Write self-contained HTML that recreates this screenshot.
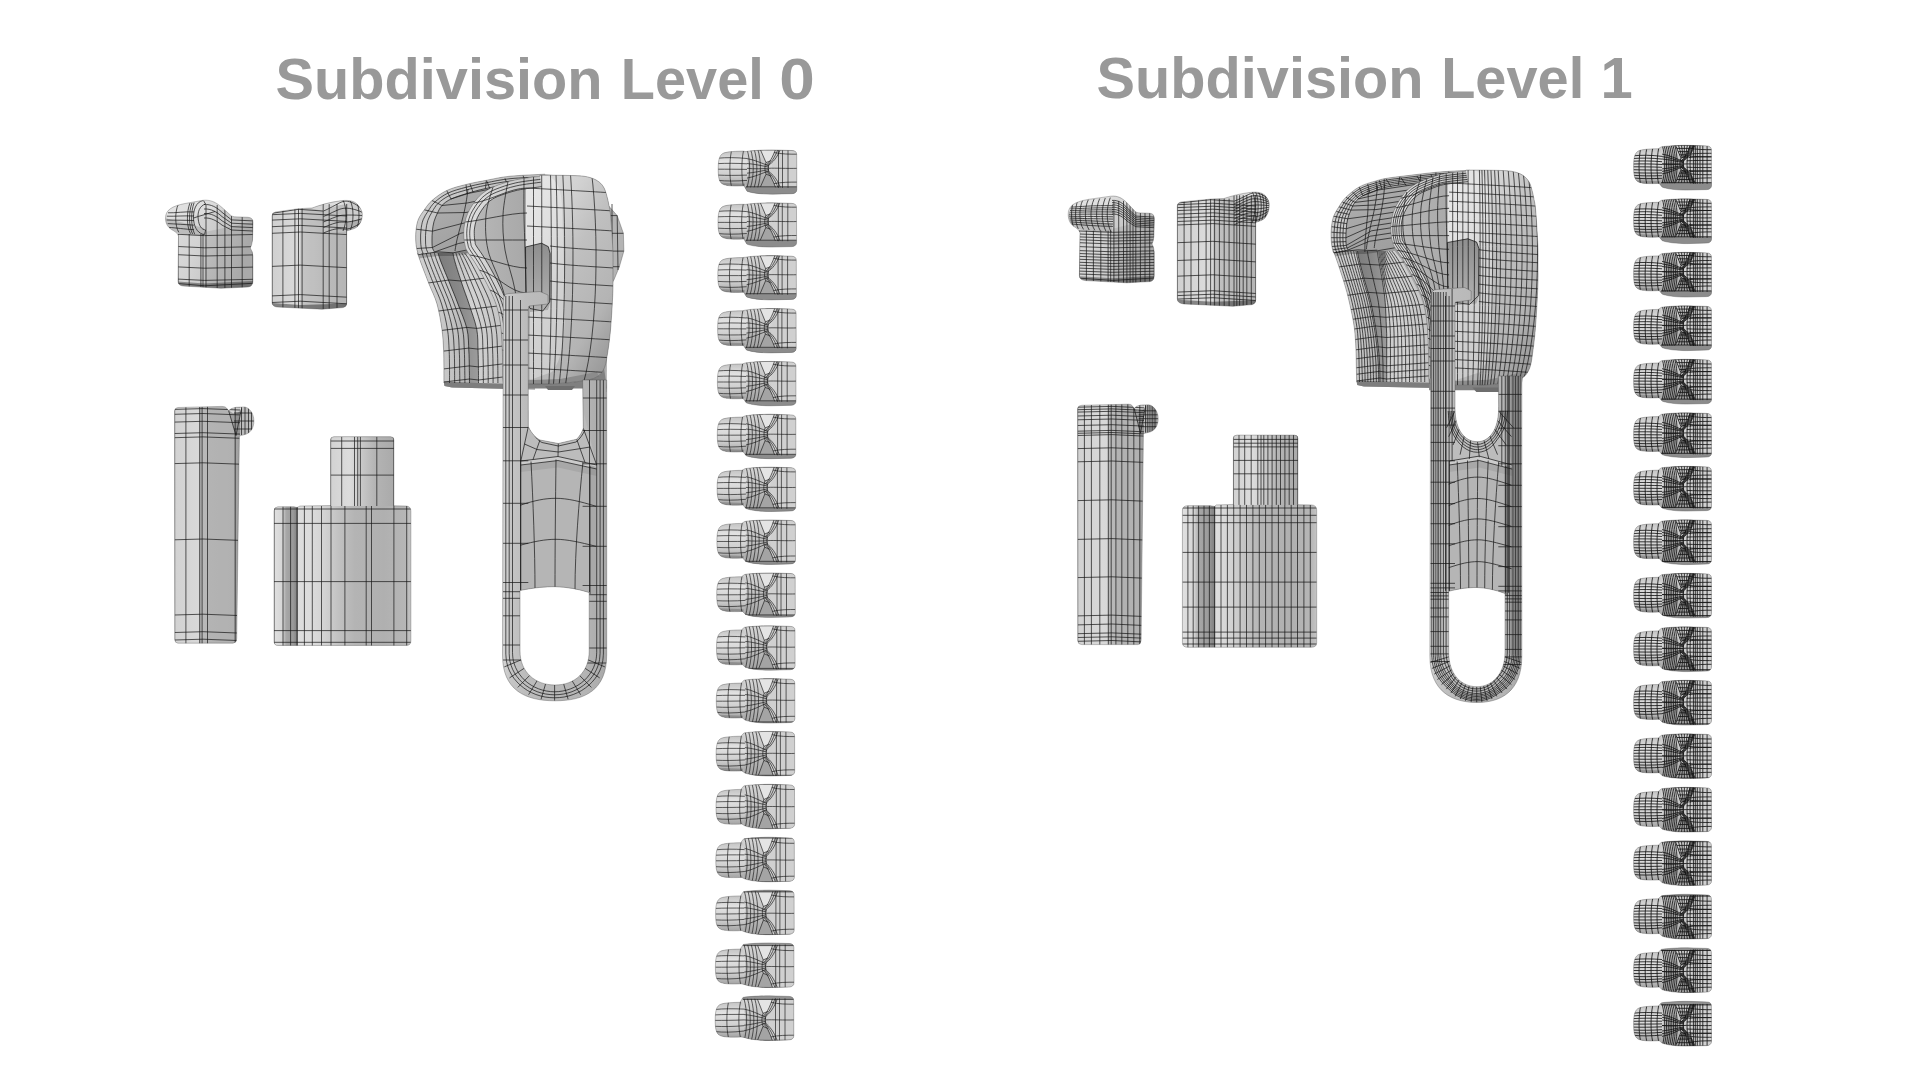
<!DOCTYPE html>
<html lang="en"><head><meta charset="utf-8"><title>Subdivision Levels</title>
<style>html,body{margin:0;padding:0;background:#fff}body{width:1920px;height:1080px;overflow:hidden}svg{display:block}text{font-family:"Liberation Sans",sans-serif;font-weight:bold;font-size:58px;fill:#999}</style></head>
<body>
<svg width="1920" height="1080" viewBox="0 0 1920 1080">
<defs>
<linearGradient id="gA" x1="0" y1="0" x2="1" y2="0.3"><stop offset="0" stop-color="#dcdcdc"/><stop offset="0.45" stop-color="#d4d4d4"/><stop offset="1" stop-color="#b8b8b8"/></linearGradient>
<linearGradient id="gB" x1="0" y1="0" x2="1" y2="0"><stop offset="0" stop-color="#d0d0d0"/><stop offset="0.3" stop-color="#dadada"/><stop offset="0.55" stop-color="#cfcfcf"/><stop offset="1" stop-color="#c4c4c4"/></linearGradient>
<linearGradient id="gC" x1="0" y1="0" x2="1" y2="0"><stop offset="0" stop-color="#d2d2d2"/><stop offset="0.3" stop-color="#d8d8d8"/><stop offset="1" stop-color="#d0d0d0"/></linearGradient>
<linearGradient id="gD" x1="0" y1="0" x2="1" y2="0"><stop offset="0" stop-color="#d0d0d0"/><stop offset="0.17" stop-color="#dedede"/><stop offset="0.27" stop-color="#dcdcdc"/><stop offset="0.37" stop-color="#d2d2d2"/><stop offset="0.47" stop-color="#c2c2c2"/><stop offset="0.59" stop-color="#b4b4b4"/><stop offset="0.8" stop-color="#b0b0b0"/><stop offset="0.96" stop-color="#b6b6b6"/><stop offset="1" stop-color="#c4c4c4"/></linearGradient>
<linearGradient id="gDn" x1="0" y1="0" x2="1" y2="0"><stop offset="0" stop-color="#d2d2d2"/><stop offset="0.3" stop-color="#dcdcdc"/><stop offset="0.5" stop-color="#c8c8c8"/><stop offset="0.7" stop-color="#b4b4b4"/><stop offset="1" stop-color="#aaaaaa"/></linearGradient>
<linearGradient id="gDb" x1="0" y1="0" x2="1" y2="0"><stop offset="0" stop-color="#e0e0e0"/><stop offset="0.35" stop-color="#d6d6d6"/><stop offset="0.5" stop-color="#a8a8a8"/><stop offset="0.8" stop-color="#9a9a9a"/><stop offset="1" stop-color="#7c7c7c"/></linearGradient>

<linearGradient id="gT" x1="0" y1="0" x2="0" y2="1"><stop offset="0" stop-color="#c9c9c9"/><stop offset="0.35" stop-color="#d6d6d6"/><stop offset="1" stop-color="#b2b2b2"/></linearGradient>
<linearGradient id="gTh" x1="0" y1="0" x2="0" y2="1"><stop offset="0" stop-color="#c4c4c4"/><stop offset="0.3" stop-color="#e2e2e2"/><stop offset="0.7" stop-color="#cecece"/><stop offset="1" stop-color="#a4a4a4"/></linearGradient>
<linearGradient id="gTn" x1="0" y1="0" x2="0" y2="1"><stop offset="0" stop-color="#d6d6d6"/><stop offset="0.5" stop-color="#c0c0c0"/><stop offset="1" stop-color="#a2a2a2"/></linearGradient>

<linearGradient id="gSr" x1="0" y1="0" x2="1" y2="1"><stop offset="0" stop-color="#b2b2b2"/><stop offset="0.5" stop-color="#a2a2a2"/><stop offset="1" stop-color="#969696"/></linearGradient>
<linearGradient id="gSrim" x1="0" y1="0" x2="1" y2="0.4"><stop offset="0" stop-color="#d8d8d8"/><stop offset="0.3" stop-color="#c8c8c8"/><stop offset="1" stop-color="#bebebe"/></linearGradient>
<linearGradient id="gSfl" x1="0" y1="0" x2="1" y2="0"><stop offset="0" stop-color="#d2d2d2"/><stop offset="0.6" stop-color="#c6c6c6"/><stop offset="1" stop-color="#b2b2b2"/></linearGradient>
<linearGradient id="gSch" x1="0" y1="0" x2="1" y2="0"><stop offset="0" stop-color="#7c7c7c"/><stop offset="0.5" stop-color="#888888"/><stop offset="1" stop-color="#9c9c9c"/></linearGradient>
<linearGradient id="gSfl2" x1="0" y1="0" x2="1" y2="0"><stop offset="0" stop-color="#c2c2c2"/><stop offset="0.4" stop-color="#d2d2d2"/><stop offset="1" stop-color="#c4c4c4"/></linearGradient>
<linearGradient id="gSb" x1="0" y1="0" x2="1" y2="0"><stop offset="0" stop-color="#cfcfcf"/><stop offset="0.2" stop-color="#c6c6c6"/><stop offset="1" stop-color="#adadad"/></linearGradient>
<linearGradient id="gSf" x1="0" y1="0" x2="1" y2="0"><stop offset="0" stop-color="#c0c0c0"/><stop offset="0.1" stop-color="#b6b6b6"/><stop offset="0.4" stop-color="#a9a9a9"/><stop offset="1" stop-color="#b4b4b4"/></linearGradient>
<linearGradient id="gSrim2" x1="0" y1="0" x2="1" y2="0.3"><stop offset="0" stop-color="#e0e0e0"/><stop offset="0.5" stop-color="#d0d0d0"/><stop offset="1" stop-color="#c0c0c0"/></linearGradient>
<linearGradient id="gSc" x1="0" y1="0" x2="0.7" y2="1"><stop offset="0" stop-color="#e0e0e0"/><stop offset="0.3" stop-color="#d2d2d2"/><stop offset="0.5" stop-color="#c0c0c0"/><stop offset="0.8" stop-color="#b4b4b4"/><stop offset="0.9" stop-color="#a6a6a6"/><stop offset="1" stop-color="#9a9a9a"/></linearGradient>
<linearGradient id="gSh" x1="0" y1="0" x2="0" y2="1"><stop offset="0" stop-color="#8e8e8e"/><stop offset="1" stop-color="#b2b2b2"/></linearGradient>
<linearGradient id="gP" x1="0" y1="0" x2="1" y2="0"><stop offset="0" stop-color="#d6d6d6"/><stop offset="0.07" stop-color="#c6c6c6"/><stop offset="0.22" stop-color="#bcbcbc"/><stop offset="0.8" stop-color="#b4b4b4"/><stop offset="1" stop-color="#a8a8a8"/></linearGradient>
</defs>
<rect width="1920" height="1080" fill="#fff"/>
<text y="99.3"><tspan x="275.6" textLength="327" lengthAdjust="spacingAndGlyphs">Subdivision</tspan> <tspan x="620.8" textLength="143" lengthAdjust="spacingAndGlyphs">Level</tspan> <tspan x="779.3" textLength="35.5" lengthAdjust="spacingAndGlyphs">0</tspan></text>
<text y="98.2"><tspan x="1096.6" textLength="327" lengthAdjust="spacingAndGlyphs">Subdivision</tspan> <tspan x="1441.2" textLength="143" lengthAdjust="spacingAndGlyphs">Level</tspan> <tspan x="1600.5">1</tspan></text>
<g id="level0">
<g><clipPath id="cA1"><path d="M165.5,218C165.5,210 172,206 185,203.5L203,200.3C210,199.5 216,202 222,207.5L231.5,216Q233,217 240,217L248,217.3Q253,217.5 253,222.5L252.5,240Q252,245 250.3,248Q252.5,251 252.9,256L252.9,281Q252.9,286.5 248,287L221,288.3L183,286Q178,285.5 178,281L178.5,236Q178,233 173.5,230.7C168,228 165.5,224 165.5,218Z"/></clipPath><path d="M165.5,218C165.5,210 172,206 185,203.5L203,200.3C210,199.5 216,202 222,207.5L231.5,216Q233,217 240,217L248,217.3Q253,217.5 253,222.5L252.5,240Q252,245 250.3,248Q252.5,251 252.9,256L252.9,281Q252.9,286.5 248,287L221,288.3L183,286Q178,285.5 178,281L178.5,236Q178,233 173.5,230.7C168,228 165.5,224 165.5,218Z" fill="url(#gA)"/><g clip-path="url(#cA1)"><path d="M204.5,232L253,222V290L204.5,290Z" fill="#000" fill-opacity="0.08"/><path d="M165,222C170,232 180,236 204,236L204,228L165,218Z" fill="#000" fill-opacity="0.12"/><path d="M166,213C172,206 185,203.5 203,200.3C212,200 218,204 224,209.5L204,214L168,219Z" fill="#fff" fill-opacity="0.22"/><path d="M178,281.5L204.5,283.5L253,281V290H178Z" fill="#000" fill-opacity="0.34"/><path d="M178,234.3L204.5,235.6L253,234.5M178,246.5L204.5,247.8L253,246.7M178,254.7L204.5,256L253,254.9M178,266.9L204.5,268.2L253,267.1M178,279.1L204.5,280.4L253,279.3M178,283.5L204.5,285.8L253,283.3M178,234V288.5M189.2,234V288.5M200.9,234V288.5M203,234V288.5M206,205V288.5M217.2,205V288.5M224.9,205V288.5M231.5,205V288.5M242.2,217V288.5M253,217V288.5M204,204.5C211,204 217,207.5 222,212.3L231.5,219.9L253,220.9M204,209C211,208.5 217,212 222,216.6L231.5,223.2L253,224.2M204,213.5C211,213 217,216.5 222,220.8L231.5,226.6L253,227.6M204,218C211,217.5 217,221 222,225.1L231.5,230L253,231M168,212.8C175,213.1 185,211.4 194,211.9M166.9,216.2C175,216.5 185,215.5 194,216M166.6,220C175,220.3 185,220.1 194,220.6M167.7,223.6C175,223.9 185,224.6 194,225.1M168.9,227.4C175,227.7 185,229.2 194,229.7M178.2,204.4C174.8,212 174.8,226 178.8,232.3M189.9,203.1C186.5,212 186.5,226 190.5,233.7M192,202.9C188.6,212 188.6,226 192.6,234M194.1,202.6C190.7,212 190.7,226 194.7,234.2M203,200.5C196,202 192.8,210 193.6,220C194.5,229 199,234 204.5,234.5M205.5,204C199.5,206 197.3,212 198.2,219C199,226 201.5,229.5 205.5,230M193.6,218L198.2,216.5L215,211.5M203.5,200.5L205.5,204M204.5,234.5L205.5,230" fill="none" stroke="#161616" stroke-width="0.95" stroke-opacity="0.74" /></g><path d="M165.5,218C165.5,210 172,206 185,203.5L203,200.3C210,199.5 216,202 222,207.5L231.5,216Q233,217 240,217L248,217.3Q253,217.5 253,222.5L252.5,240Q252,245 250.3,248Q252.5,251 252.9,256L252.9,281Q252.9,286.5 248,287L221,288.3L183,286Q178,285.5 178,281L178.5,236Q178,233 173.5,230.7C168,228 165.5,224 165.5,218Z" fill="none" stroke="#444" stroke-opacity="0.4" stroke-width="0.8"/></g>
<g><clipPath id="cB2"><path d="M272,216Q272,212.5 275.5,212L298.5,208.7L312,208C320,205 330,202 341.8,200.6C350,199.8 355,201.5 357.5,204.5C361,208.5 362.8,212 362.3,216C361.8,221 360,224 357.5,226.5C355,229 351,229.5 346.7,230.9L346.7,303Q346.7,307 343,307.6L322,309.2L277,307Q272,306.5 272,302Z"/></clipPath><path d="M272,216Q272,212.5 275.5,212L298.5,208.7L312,208C320,205 330,202 341.8,200.6C350,199.8 355,201.5 357.5,204.5C361,208.5 362.8,212 362.3,216C361.8,221 360,224 357.5,226.5C355,229 351,229.5 346.7,230.9L346.7,303Q346.7,307 343,307.6L322,309.2L277,307Q272,306.5 272,302Z" fill="url(#gB)"/><g clip-path="url(#cB2)"><path d="M300.3,205L347,205V310H300.3Z" fill="#000" fill-opacity="0.09"/><path d="M323,211L341.8,200L363,203V232H323Z" fill="#fff" fill-opacity="0.12"/><path d="M310,208L342,200.5L352,201L323,211Z" fill="#fff" fill-opacity="0.35"/><path d="M346.7,222L363,218V232H346.7Z" fill="#000" fill-opacity="0.15"/><path d="M272,303L300.3,305L347,303.5V311H272Z" fill="#000" fill-opacity="0.38"/><path d="M272,214.7L300.3,213.4L347,216M272,220.1L300.3,218.8L347,221.4M272,226.7L300.3,225.4L347,228M272,233.3L300.3,232L347,234.6M272,266.4L300.3,265.1L347,267.7M272,295.9L300.3,294.6L347,297.2M272,302.5L300.3,301.2L347,303.8M272,213.3L298.5,209.3L323,211M272,208V309.5M282.9,208V309.5M294.9,208V309.5M298.5,208V309.5M302.1,208V309.5M323.2,204V309.5M329.2,204V309.5M337,204V309.5M346.7,204V309.5M323.5,211C333,207 338,203 343,201.5S355,203 362,209M323.5,216.5C333,212.5 338,209.2 343,208.4S355,209 362,212.2M323.5,222C333,218 338,215.5 343,215.2S355,215 362,215.5M323.5,227.5C333,223.5 338,221.8 343,222.1S355,221 362,218.8M323.5,233C333,229 338,228 343,229S355,227 362,222M343,200C347,208 347,222 343,231M350,200C354,208 354,222 350,231M356,200C360,208 360,222 356,231" fill="none" stroke="#161616" stroke-width="0.95" stroke-opacity="0.74" /></g><path d="M272,216Q272,212.5 275.5,212L298.5,208.7L312,208C320,205 330,202 341.8,200.6C350,199.8 355,201.5 357.5,204.5C361,208.5 362.8,212 362.3,216C361.8,221 360,224 357.5,226.5C355,229 351,229.5 346.7,230.9L346.7,303Q346.7,307 343,307.6L322,309.2L277,307Q272,306.5 272,302Z" fill="none" stroke="#444" stroke-opacity="0.4" stroke-width="0.8"/></g>
<g><clipPath id="cC3"><path d="M174.6,411Q174.8,407.8 178,407.5L222,406.4Q225.5,406.3 226.5,408L228.6,410.6Q231,408 236,407.3L244.5,407C249,407.5 253.9,413 253.9,421C253.9,428 250.5,433.5 244.2,434.7L239.4,436L236.7,639Q236.6,643 233,643.2L178,643.2Q174.8,643 174.8,639.5Z"/></clipPath><path d="M174.6,411Q174.8,407.8 178,407.5L222,406.4Q225.5,406.3 226.5,408L228.6,410.6Q231,408 236,407.3L244.5,407C249,407.5 253.9,413 253.9,421C253.9,428 250.5,433.5 244.2,434.7L239.4,436L236.7,639Q236.6,643 233,643.2L178,643.2Q174.8,643 174.8,639.5Z" fill="url(#gC)"/><g clip-path="url(#cC3)"><path d="M207.5,400H240V650H207.5Z" fill="#000" fill-opacity="0.16"/><path d="M199.5,400H207.5V650H199.5Z" fill="#000" fill-opacity="0.14"/><path d="M234.5,400H240V650H234.5Z" fill="#000" fill-opacity="0.08"/><path d="M228.6,410.6C232,414 238,414 241,409L245,407C252,409 254,416 253.9,421C253.9,429 250,434 244,434.7L236,435Z" fill="#000" fill-opacity="0.1"/><path d="M229,410C233,415 239,415 241.5,408.5L236,407.3Q231,408 229,410Z" fill="#fff" fill-opacity="0.45"/><path d="M174.5,409.4L203,408.6L240,410M174.5,414.3L203,413.5L240,414.9M174.5,422.1L203,421.3L240,422.7M174.5,433.5L203,432.7L240,434.1M174.5,437.7L203,436.9L240,438.3M174.5,463.6L203,462.8L240,464.2M174.5,539.8L203,539L240,540.4M174.5,615L203,614.2L240,615.6M174.5,632.5L203,631.7L240,633.1M174.5,640L203,639.2L240,640.6M174.6,406V644M185.9,406V644M199.7,406V644M202.1,406V644M207.5,406V644M235.2,406V644M228.6,410.6L236,435.5M241.5,408.5L236,435.5M241.5,407V435M245,407V435M248.5,407V435M251.5,407V435M234,413H254M234,421H254M234,429H254" fill="none" stroke="#161616" stroke-width="0.95" stroke-opacity="0.74" /></g><path d="M174.6,411Q174.8,407.8 178,407.5L222,406.4Q225.5,406.3 226.5,408L228.6,410.6Q231,408 236,407.3L244.5,407C249,407.5 253.9,413 253.9,421C253.9,428 250.5,433.5 244.2,434.7L239.4,436L236.7,639Q236.6,643 233,643.2L178,643.2Q174.8,643 174.8,639.5Z" fill="none" stroke="#444" stroke-opacity="0.4" stroke-width="0.8"/></g>
<g><clipPath id="cD4"><path d="M330.6,440Q330.6,436.7 334,436.7L390.5,436.7Q393.9,436.7 393.9,440L393.9,505.8L406,506Q410.9,506.3 410.9,511L410.9,641Q410.9,645.5 406,645.5L278,645.5Q274,645.5 274,641L274,511Q274,507 278,506.8L294,506.8L297,507.5L300,506L330.6,505.5Z"/></clipPath><path d="M330.6,440Q330.6,436.7 334,436.7L390.5,436.7Q393.9,436.7 393.9,440L393.9,505.8L406,506Q410.9,506.3 410.9,511L410.9,641Q410.9,645.5 406,645.5L278,645.5Q274,645.5 274,641L274,511Q274,507 278,506.8L294,506.8L297,507.5L300,506L330.6,505.5Z" fill="url(#gD)"/><g clip-path="url(#cD4)"><rect x="330" y="436" width="64" height="70" fill="url(#gDn)"/><rect x="274" y="506" width="24" height="140" fill="url(#gDb)"/><path d="M274,509H411M274,523.4H411M274,581.6H411M274,630.6H411M274,642.3H411M274,506V646M283,506V646M290.6,506V646M297,506V646M304.4,506V646M312.3,506V646M321.5,506V646M331,506V646M344.9,506V646M366.2,506V646M371.5,506V646M393.9,506V646M406.7,506V646M330.6,441H394M330.6,448.4H394M330.6,475.1H394M330.6,436.7V506M341.7,436.7V506M354.5,436.7V506M357.7,436.7V506M360.4,436.7V506M376.8,436.7V506M393.9,436.7V506" fill="none" stroke="#161616" stroke-width="0.95" stroke-opacity="0.74" /></g><path d="M330.6,440Q330.6,436.7 334,436.7L390.5,436.7Q393.9,436.7 393.9,440L393.9,505.8L406,506Q410.9,506.3 410.9,511L410.9,641Q410.9,645.5 406,645.5L278,645.5Q274,645.5 274,641L274,511Q274,507 278,506.8L294,506.8L297,507.5L300,506L330.6,505.5Z" fill="none" stroke="#444" stroke-opacity="0.4" stroke-width="0.8"/></g>
<g><clipPath id="cS5"><path d="M545,174.2C539.2,174.5 519.8,175.2 510,176.2C500.2,177.2 493.7,178.9 486.4,180.3C479.1,181.7 472.6,182.8 466,184.5C459.4,186.2 452.4,187.8 446.7,190.5C441,193.2 435.7,197.3 432,200.5C428.3,203.7 426.6,206.7 424.3,209.8C422.1,212.9 419.9,215.8 418.5,219C417.1,222.2 416.6,225.7 416.1,229.2C415.6,232.7 415.6,236.8 415.7,240C415.8,243.2 416.1,246 416.6,248.5C417.1,251 418.4,254.2 418.5,255C418.6,255.8 417.1,251.8 417.5,253C417.9,254.2 418.7,256.8 420.6,262C422.5,267.2 426.3,277 429,284C431.7,291 434.9,296.5 437,304C439.1,311.5 440.8,321.3 441.9,329C443,336.7 443.3,343.8 443.6,350C443.9,356.2 443.8,360.5 443.9,366C443.9,371.5 443.9,380.2 443.9,383L444.5,386L452,387.5L535,389.5L535,250L585,178Z"/></clipPath><path d="M545,174.2C539.2,174.5 519.8,175.2 510,176.2C500.2,177.2 493.7,178.9 486.4,180.3C479.1,181.7 472.6,182.8 466,184.5C459.4,186.2 452.4,187.8 446.7,190.5C441,193.2 435.7,197.3 432,200.5C428.3,203.7 426.6,206.7 424.3,209.8C422.1,212.9 419.9,215.8 418.5,219C417.1,222.2 416.6,225.7 416.1,229.2C415.6,232.7 415.6,236.8 415.7,240C415.8,243.2 416.1,246 416.6,248.5C417.1,251 418.4,254.2 418.5,255C418.6,255.8 417.1,251.8 417.5,253C417.9,254.2 418.7,256.8 420.6,262C422.5,267.2 426.3,277 429,284C431.7,291 434.9,296.5 437,304C439.1,311.5 440.8,321.3 441.9,329C443,336.7 443.3,343.8 443.6,350C443.9,356.2 443.8,360.5 443.9,366C443.9,371.5 443.9,380.2 443.9,383L444.5,386L452,387.5L535,389.5L535,250L585,178Z" fill="#adadad"/><path d="M604,196L608.3,205.5L617.2,215.6L623.4,233.3L623.9,251.1L619.4,266.7L613.9,280L606,292Z" fill="#b4b4b4"/><path d="M606,215.6H617.2M606,233.3H623.4M606,251.1H623.9M606,266.7H619.4M612,204V285M617.2,215.6L618,270" fill="none" stroke="#161616" stroke-width="0.95" stroke-opacity="0.74" /><path d="M604,196L608.3,205.5L617.2,215.6L623.4,233.3L623.9,251.1L619.4,266.7L613.9,280L606,292Z" fill="none" stroke="#444" stroke-opacity="0.45" stroke-width="0.8"/><path d="M584,350L607,350L606.7,392L583,392Z" fill="#adadad"/><g clip-path="url(#cS5)"><path d="M545,182.5C539.2,182.8 519.9,183.6 510,184.6C500.1,185.6 492.6,187.1 485.4,188.6C478.2,190.1 472.7,191.8 467,193.5C461.3,195.2 455.2,197 451,199C446.8,201 444.2,203.2 442,205.5C439.8,207.8 438.8,210.3 437.5,213C436.2,215.7 434.9,218.5 434,221.5C433.1,224.5 432.7,228.1 432.4,231.2C432.1,234.3 432,237.3 432,240C432,242.7 432,245.5 432.4,247.5C432.8,249.5 434.1,251.2 434.5,252L470,260L545,260Z" fill="url(#gSr)"/><path d="M545,174.2C539.2,174.5 519.8,175.2 510,176.2C500.2,177.2 493.7,178.9 486.4,180.3C479.1,181.7 472.6,182.8 466,184.5C459.4,186.2 452.4,187.8 446.7,190.5C441,193.2 435.7,197.3 432,200.5C428.3,203.7 426.6,206.7 424.3,209.8C422.1,212.9 419.9,215.8 418.5,219C417.1,222.2 416.6,225.7 416.1,229.2C415.6,232.7 415.6,236.8 415.7,240C415.8,243.2 416.1,246 416.6,248.5C417.1,251 418.2,253.9 418.5,255L434.5,252C434.1,251.2 432.8,249.5 432.4,247.5C432,245.5 432,242.7 432,240C432,237.3 432.1,234.3 432.4,231.2C432.7,228.1 433.1,224.5 434,221.5C434.9,218.5 436.2,215.7 437.5,213C438.8,210.3 439.8,207.8 442,205.5C444.2,203.2 446.8,201 451,199C455.2,197 461.3,195.2 467,193.5C472.7,191.8 478.2,190.1 485.4,188.6C492.6,187.1 500.1,185.6 510,184.6C519.9,183.6 539.2,182.8 545,182.5Z" fill="url(#gSrim)"/><path d="M417.5,253C418,254.5 418.7,256.8 420.6,262C422.5,267.2 426.3,277 429,284C431.7,291 434.9,296.5 437,304C439.1,311.5 440.8,321.3 441.9,329C443,336.7 443.3,343.8 443.6,350C443.9,356.2 443.8,360.5 443.9,366C443.9,371.5 443.9,380.2 443.9,383L469.5,383C469.5,380.2 469.4,371.5 469.3,366C469.2,360.5 469.2,356.2 468.8,350C468.4,343.8 468.8,336.7 467,329C465.2,321.3 460.8,311.5 458,304C455.2,296.5 452.8,291 450,284C447.2,277 443,267.2 441,262C439,256.8 438.5,254.5 438,253Z" fill="url(#gSfl)"/><path d="M438,253C438.5,254.5 439,256.8 441,262C443,267.2 447.2,277 450,284C452.8,291 455.2,296.5 458,304C460.8,311.5 465.2,321.3 467,329C468.8,336.7 468.4,343.8 468.8,350C469.2,356.2 469.2,360.5 469.3,366C469.4,371.5 469.5,380.2 469.5,383L478.5,383C478.5,380.2 478.5,371.5 478.4,366C478.3,360.5 478.3,356.2 478,350C477.7,343.8 478.2,336.7 476.7,329C475.2,321.3 471.4,311.5 469,304C466.6,296.5 464.3,291 462,284C459.7,277 456.5,267.2 455,262C453.5,256.8 453.3,254.5 453,253Z" fill="url(#gSch)"/><path d="M453,253C453.3,254.5 453.5,256.8 455,262C456.5,267.2 459.7,277 462,284C464.3,291 466.6,296.5 469,304C471.4,311.5 475.2,321.3 476.7,329C478.2,336.7 477.7,343.8 478,350C478.3,356.2 478.3,360.5 478.4,366C478.5,371.5 478.5,380.2 478.5,383L502.8,383C502.8,380.2 502.8,371.5 502.7,366C502.6,360.5 502.6,356.2 502.3,350C502,343.8 502.1,336.7 501,329C499.9,321.3 498.3,311.5 496,304C493.7,296.5 490.6,291 487,284C483.4,277 477.8,267.2 474.5,262C471.2,256.8 468.7,254.5 467.5,253Z" fill="url(#gSfl2)"/><path d="M503,253L545,253L545,392L503,392Z" fill="#a4a4a4"/><path d="M418.5,255L434.5,252L453,252.5L467.5,251L467.5,254.5L453,256L438,256L419,258.5Z" fill="#000" fill-opacity="0.22"/><path d="M443,381.5L503,384L503,392L443,392Z" fill="#7d7d7d"/><path d="M545,176.7C539.2,177 519.8,177.7 510,178.7C500.2,179.7 493.4,181.4 486.1,182.8C478.8,184.2 472.7,185.5 466.3,187.2C459.9,188.9 453.2,190.6 448,193.1C442.8,195.5 438.3,199 435,202C431.7,205 430.2,207.8 428.3,210.8C426.3,213.7 424.4,216.6 423.1,219.8C421.9,222.9 421.4,226.4 421,229.8C420.6,233.2 420.5,236.9 420.6,240C420.6,243.1 420.9,245.8 421.3,248.2C421.8,250.5 423,253.1 423.3,254.1M545,179.2C539.2,179.5 519.9,180.2 510,181.2C500.1,182.3 493,183.8 485.8,185.3C478.6,186.7 472.7,188.2 466.6,189.9C460.5,191.6 454,193.3 449.3,195.6C444.5,197.9 440.8,200.8 438,203.5C435.2,206.2 433.9,208.9 432.2,211.7C430.5,214.6 428.9,217.4 427.8,220.5C426.7,223.6 426.3,227.1 425.9,230.4C425.5,233.6 425.4,237.1 425.5,240C425.5,242.9 425.6,245.7 426.1,247.9C426.5,250.1 427.8,252.3 428.1,253.2M545,182.5C539.2,182.8 519.9,183.6 510,184.6C500.1,185.6 492.6,187.1 485.4,188.6C478.2,190.1 472.7,191.8 467,193.5C461.3,195.2 455.2,197 451,199C446.8,201 444.2,203.2 442,205.5C439.8,207.8 438.8,210.3 437.5,213C436.2,215.7 434.9,218.5 434,221.5C433.1,224.5 432.7,228.1 432.4,231.2C432.1,234.3 432,237.3 432,240C432,242.7 432,245.5 432.4,247.5C432.8,249.5 434.1,251.2 434.5,252M486.4,180.3L485.4,188.6M466,184.5L467,193.5M446.7,190.5L451,199M432,200.5L442,205.5M424.3,209.8L437.5,213M416.1,229.2L432.4,231.2M416.6,248.5L432.4,247.5M451,199L468,193.5L513,184.5M437.5,213L466,212.5L511,203.5M432.4,231.2L462,223.5L507,214.5M432.4,247.5L460.9,233.2L505.9,224.2M434.5,252L458.5,243.5L503.5,234.5M442,205.5L467,203L512,194M468,189C467.7,191.3 466.8,198.7 466,203C465.2,207.3 464.5,210.8 463.5,215C462.5,219.2 461.2,223.5 460,228C458.8,232.5 457.3,238.2 456.5,242C455.7,245.8 455.2,249.5 455,251M470,184L473,192M487,181.3L490,189.3M505,178.4L508,186.4M523,175.5L526,183.5M422,253C422.5,254.5 423.2,256.8 425.1,262C427,267.2 430.9,277 433.6,284C436.4,291 439.3,296.5 441.6,304C443.9,311.5 446.2,321.3 447.4,329C448.7,336.7 448.8,343.8 449.1,350C449.5,356.2 449.4,360.5 449.5,366C449.6,371.5 449.5,380.2 449.5,383M426.1,253C426.6,254.5 427.2,256.8 429.2,262C431.1,267.2 435,277 437.8,284C440.6,291 443.4,296.5 445.8,304C448.3,311.5 451,321.3 452.4,329C453.8,336.7 453.8,343.8 454.2,350C454.5,356.2 454.5,360.5 454.6,366C454.6,371.5 454.6,380.2 454.7,383M430.2,253C430.7,254.5 431.3,256.8 433.2,262C435.2,267.2 439.2,277 442,284C444.8,291 447.4,296.5 450,304C452.6,311.5 455.9,321.3 457.5,329C459,336.7 458.9,343.8 459.2,350C459.6,356.2 459.6,360.5 459.6,366C459.7,371.5 459.8,380.2 459.8,383M434.3,253C434.8,254.5 435.3,256.8 437.3,262C439.3,267.2 443.4,277 446.2,284C449,291 451.5,296.5 454.2,304C456.9,311.5 460.8,321.3 462.5,329C464.2,336.7 463.9,343.8 464.3,350C464.6,356.2 464.6,360.5 464.7,366C464.8,371.5 464.9,380.2 464.9,383M438,253C438.5,254.5 439,256.8 441,262C443,267.2 447.2,277 450,284C452.8,291 455.2,296.5 458,304C460.8,311.5 465.2,321.3 467,329C468.8,336.7 468.4,343.8 468.8,350C469.2,356.2 469.2,360.5 469.3,366C469.4,371.5 469.5,380.2 469.5,383M453,253C453.3,254.5 453.5,256.8 455,262C456.5,267.2 459.7,277 462,284C464.3,291 466.6,296.5 469,304C471.4,311.5 475.2,321.3 476.7,329C478.2,336.7 477.7,343.8 478,350C478.3,356.2 478.3,360.5 478.4,366C478.5,371.5 478.5,380.2 478.5,383M455.9,253C456.4,254.5 457,256.8 458.9,262C460.8,267.2 464.4,277 467,284C469.6,291 472,296.5 474.4,304C476.8,311.5 480.1,321.3 481.6,329C483,336.7 482.6,343.8 482.9,350C483.1,356.2 483.2,360.5 483.3,366C483.3,371.5 483.3,380.2 483.4,383M458.8,253C459.5,254.5 460.6,256.8 462.8,262C465,267.2 469.2,277 472,284C474.8,291 477.4,296.5 479.8,304C482.2,311.5 485.1,321.3 486.4,329C487.7,336.7 487.4,343.8 487.7,350C488,356.2 488,360.5 488.1,366C488.2,371.5 488.2,380.2 488.2,383M461.7,253C462.5,254.5 464.1,256.8 466.7,262C469.2,267.2 473.9,277 477,284C480.1,291 482.8,296.5 485.2,304C487.6,311.5 490,321.3 491.3,329C492.5,336.7 492.3,343.8 492.6,350C492.9,356.2 492.9,360.5 493,366C493.1,371.5 493.1,380.2 493.1,383M464.6,253C465.6,254.5 467.7,256.8 470.6,262C473.5,267.2 478.7,277 482,284C485.3,291 488.2,296.5 490.6,304C493,311.5 495,321.3 496.1,329C497.3,336.7 497.2,343.8 497.4,350C497.7,356.2 497.8,360.5 497.8,366C497.9,371.5 497.9,380.2 497.9,383M417.6,254.8L438.1,251.8L453.1,252.8L467.7,249.8M428,283L449,280L461.2,281L485.6,278M438.1,311.1L460,308.1L470.7,309.1L497.1,306.1M441.9,330.4L467,327.4L476.7,328.4L501,325.4M443.6,351.1L468.8,348.1L478,349.1L502.3,346.1M443.9,368.9L469.3,365.9L478.4,366.9L502.7,363.9M443.9,382L469.5,379L478.5,380L502.8,377" fill="none" stroke="#161616" stroke-width="0.95" stroke-opacity="0.74" /></g><path d="M545,174.2C539.2,174.5 519.8,175.2 510,176.2C500.2,177.2 493.7,178.9 486.4,180.3C479.1,181.7 472.6,182.8 466,184.5C459.4,186.2 452.4,187.8 446.7,190.5C441,193.2 435.7,197.3 432,200.5C428.3,203.7 426.6,206.7 424.3,209.8C422.1,212.9 419.9,215.8 418.5,219C417.1,222.2 416.6,225.7 416.1,229.2C415.6,232.7 415.6,236.8 415.7,240C415.8,243.2 416.1,246 416.6,248.5C417.1,251 418.4,254.2 418.5,255C418.6,255.8 417.1,251.8 417.5,253C417.9,254.2 418.7,256.8 420.6,262C422.5,267.2 426.3,277 429,284C431.7,291 434.9,296.5 437,304C439.1,311.5 440.8,321.3 441.9,329C443,336.7 443.3,343.8 443.6,350C443.9,356.2 443.8,360.5 443.9,366C443.9,371.5 443.9,380.2 443.9,383" fill="none" stroke="#444" stroke-opacity="0.45" stroke-width="0.8"/></g>
<g><path d="M503,379L533,381.5L560,381L597,374.5L604,368L607,388.5L503,388.5Z" fill="#808080"/><path d="M545,386L548,390L572,390L575,386Z" fill="#6e6e6e"/><clipPath id="cS6"><path d="M540,176.3C535.8,176.9 522.7,178.3 515,180C507.3,181.7 499.2,184.5 493.9,186.7C488.6,188.9 486,190.8 483,193C480,195.2 478.3,197.3 476.1,200C473.9,202.7 471.7,206 470,209C468.3,212 467.1,214.6 466.1,217.8C465.1,221 464.4,224.7 464,228C463.6,231.3 463.7,235 463.9,237.8C464.1,240.6 464.4,242.8 465,245C465.6,247.2 465.3,247.9 467.2,251.1C469.1,254.3 472.8,258.8 476.1,264.4C479.4,269.9 483.9,277.7 487.2,284.4C490.5,291.1 493.9,297.7 496.1,304.4C498.3,311.1 499.6,316.8 500.6,324.4C501.6,332 501.9,341.1 502.3,350C502.7,358.9 502.7,373.3 502.8,378L503.5,382.5L532.8,384C537.2,383.9 550.7,384.1 559.4,383.5C568.1,382.9 578.7,381.6 585,380.5C591.3,379.4 594.1,378.6 597.2,376.7C600.4,374.8 602.2,372.4 603.9,368.9C605.6,365.4 606.1,362.3 607.2,355.6C608.3,348.9 609.7,339.3 610.6,328.9C611.5,318.5 612.4,303.1 612.8,293.3C613.2,283.5 613,277.4 613,270C613,262.6 613.2,258 612.8,248.9C612.4,239.8 611.3,223.2 610.6,215.6C609.9,207.9 609.2,206.7 608.5,203C607.8,199.3 606.9,196 606.1,193.3C605.3,190.6 604.6,188.8 603.5,187C602.4,185.2 601.3,183.7 599.4,182.2C597.5,180.7 595,179.2 592,178.2C589,177.2 587,176.5 581.7,176C576.4,175.5 567,175.4 560,175.3C553,175.2 543.3,175.2 540,175.2Z"/></clipPath><path d="M540,176.3C535.8,176.9 522.7,178.3 515,180C507.3,181.7 499.2,184.5 493.9,186.7C488.6,188.9 486,190.8 483,193C480,195.2 478.3,197.3 476.1,200C473.9,202.7 471.7,206 470,209C468.3,212 467.1,214.6 466.1,217.8C465.1,221 464.4,224.7 464,228C463.6,231.3 463.7,235 463.9,237.8C464.1,240.6 464.4,242.8 465,245C465.6,247.2 465.3,247.9 467.2,251.1C469.1,254.3 472.8,258.8 476.1,264.4C479.4,269.9 483.9,277.7 487.2,284.4C490.5,291.1 493.9,297.7 496.1,304.4C498.3,311.1 499.6,316.8 500.6,324.4C501.6,332 501.9,341.1 502.3,350C502.7,358.9 502.7,373.3 502.8,378L503.5,382.5L532.8,384C537.2,383.9 550.7,384.1 559.4,383.5C568.1,382.9 578.7,381.6 585,380.5C591.3,379.4 594.1,378.6 597.2,376.7C600.4,374.8 602.2,372.4 603.9,368.9C605.6,365.4 606.1,362.3 607.2,355.6C608.3,348.9 609.7,339.3 610.6,328.9C611.5,318.5 612.4,303.1 612.8,293.3C613.2,283.5 613,277.4 613,270C613,262.6 613.2,258 612.8,248.9C612.4,239.8 611.3,223.2 610.6,215.6C609.9,207.9 609.2,206.7 608.5,203C607.8,199.3 606.9,196 606.1,193.3C605.3,190.6 604.6,188.8 603.5,187C602.4,185.2 601.3,183.7 599.4,182.2C597.5,180.7 595,179.2 592,178.2C589,177.2 587,176.5 581.7,176C576.4,175.5 567,175.4 560,175.3C553,175.2 543.3,175.2 540,175.2Z" fill="url(#gSf)"/><g clip-path="url(#cS6)"><path d="M526,170L620,170L620,390L528,390L530,312L548,310L551,300L551,254L548,246L541.5,243L526,247Z" fill="url(#gSc)"/><path d="M548,176C558,180 561,190 562,205L565,300C565,340 562,360 552,372L530,380L530,312L548,310L551,300L551,254L548,246L541.5,243L526,247L526,176Z" fill="#fff" fill-opacity="0.3"/><path d="M525.5,247L541.5,243.2L548.3,246.7L550,253.3L549.6,302L542.8,311L530,308.5L526,300Z" fill="url(#gSh)"/><path d="M503,378L533,380L560,379L597,372L600,380L560,388L503,388Z" fill="#8c8c8c"/><path d="M540,176.3C535.8,176.9 522.7,178.3 515,180C507.3,181.7 499.2,184.5 493.9,186.7C488.6,188.9 486,190.8 483,193C480,195.2 478.3,197.3 476.1,200C473.9,202.7 471.7,206 470,209C468.3,212 467.1,214.6 466.1,217.8C465.1,221 464.4,224.7 464,228C463.6,231.3 463.7,235 463.9,237.8C464.1,240.6 464.4,242.8 465,245C465.6,247.2 465.3,247.9 467.2,251.1C469.1,254.3 472.8,258.8 476.1,264.4C479.4,269.9 483.9,277.7 487.2,284.4C490.5,291.1 493.9,297.7 496.1,304.4C498.3,311.1 499.6,316.8 500.6,324.4C501.6,332 501.9,341.1 502.3,350C502.7,358.9 502.7,373.3 502.8,378L513.3,377.8C513.2,373.1 513.2,358.7 512.8,349.6C512.4,340.4 512.1,331.1 511,323C509.9,314.9 508.5,308.3 506.1,301.1C503.7,293.9 500.1,286.7 496.6,279.7C493.1,272.7 488.5,264.6 485.1,259C481.7,253.4 478,248.6 476.3,245.9C474.7,243.1 475.5,243.9 475.2,242.5C474.9,241 474.5,239.4 474.4,237.2C474.3,235 474.1,231.9 474.4,229.1C474.7,226.4 475.3,223.5 476.1,221C476.9,218.5 477.8,216.5 479.2,214.1C480.5,211.8 482.6,208.7 484.2,206.6C485.9,204.5 487,203.1 489.3,201.4C491.6,199.7 493.2,198.3 497.9,196.4C502.5,194.6 510,191.9 517.3,190.2C524.6,188.6 537.5,187.3 541.5,186.7Z" fill="url(#gSrim2)"/><path d="M540.4,179.3C536.3,179.9 523.2,181.2 515.7,182.9C508.1,184.6 500.2,187.4 495,189.5C489.9,191.6 487.6,193.3 484.8,195.4C482,197.5 480.5,199.4 478.4,201.9C476.4,204.4 474.2,207.7 472.6,210.5C471,213.3 469.9,215.7 469,218.7C468,221.7 467.3,225.2 467,228.3C466.6,231.5 466.7,235 466.9,237.6C467,240.3 467.4,242.3 467.9,244.3C468.4,246.3 468,246.5 469.8,249.6C471.6,252.7 475.3,257.3 478.7,262.9C482,268.4 486.5,276.3 489.9,283.1C493.3,289.8 496.7,296.6 498.9,303.4C501.2,310.3 502.5,316.3 503.6,324C504.6,331.7 504.9,340.9 505.3,349.9C505.7,358.9 505.7,373.3 505.8,377.9M540.9,182.2C536.8,182.8 523.8,184.2 516.3,185.9C508.9,187.5 501.1,190.3 496.2,192.3C491.2,194.3 489.2,195.9 486.6,197.8C484,199.7 482.7,201.4 480.8,203.8C478.9,206.1 476.7,209.3 475.2,211.9C473.7,214.6 472.7,216.8 471.8,219.6C470.9,222.4 470.3,225.7 470,228.7C469.6,231.6 469.7,235 469.9,237.4C470,239.9 470.4,241.8 470.8,243.6C471.2,245.3 470.7,245.2 472.4,248.1C474.1,251.1 477.9,255.7 481.2,261.3C484.6,266.9 489.1,274.9 492.6,281.7C496,288.6 499.5,295.5 501.8,302.5C504.1,309.5 505.5,315.7 506.5,323.6C507.6,331.5 507.9,340.7 508.3,349.8C508.7,358.8 508.7,373.2 508.8,377.9M541.5,186.7C537.5,187.3 524.6,188.6 517.3,190.2C510,191.9 502.5,194.6 497.9,196.4C493.2,198.3 491.6,199.7 489.3,201.4C487,203.1 485.9,204.5 484.2,206.6C482.6,208.7 480.5,211.8 479.2,214.1C477.8,216.5 476.9,218.5 476.1,221C475.3,223.5 474.7,226.4 474.4,229.1C474.1,231.9 474.3,235 474.4,237.2C474.5,239.4 474.9,241 475.2,242.5C475.5,243.9 474.7,243.1 476.3,245.9C478,248.6 481.7,253.4 485.1,259C488.5,264.6 493.1,272.7 496.6,279.7C500.1,286.7 503.7,293.9 506.1,301.1C508.5,308.3 509.9,314.9 511,323C512.1,331.1 512.4,340.4 512.8,349.6C513.2,358.7 513.2,373.1 513.3,377.8M474.1,203C492.1,200 510,188 527,188M465.2,222C483.2,220.2 510,213 527,213M464.2,240C482.2,240 510,240 527,240M469.8,255C487.8,257.6 510,268 527,268M479.2,270C497.2,274.6 510,293 527,293M489.7,290C507.7,295.6 510,318 527,318M497.8,312C515.8,317.2 510,338 527,338M501.2,333C519.2,336.8 510,352 527,352M502.3,350C520.3,353.2 510,366 527,366M502.6,366C520.6,368.4 510,378 527,378M493,187C491.8,191.7 486.8,204.5 486,215C485.2,225.5 485.2,237.5 488,250C490.8,262.5 499.2,276.7 503,290C506.8,303.3 509.5,314.5 511,330C512.5,345.5 511.8,374.2 512,383M508,181C507.2,186.7 503.5,203.5 503,215C502.5,226.5 503,237.5 505,250C507,262.5 512.7,276.7 515,290C517.3,303.3 518.2,314.5 519,330C519.8,345.5 519.8,374.2 520,383M524,177C524,183.3 523.8,202.8 524,215C524.2,227.2 524.7,237.5 525,250C525.3,262.5 525.7,276.7 526,290C526.3,303.3 526.8,314.5 527,330C527.2,345.5 527,374.2 527,383M527,188C565,190 590,191.5 614,193M527,206C565,208 590,209.5 614,211M527,226C565,228 590,229.5 614,231M550,246C565,248 590,249.5 614,251M550,263C565,265 590,266.5 614,268M550,281C565,283 590,284.5 614,286M550,299C565,301 590,302.5 614,304M527,317C565,319 590,320.5 614,322M527,335C565,337 590,338.5 614,340M527,353C565,355 590,356.5 614,358M527,368C565,370 590,371.5 614,373M533.5,174C533.5,230 533.5,330 533.5,384M541.7,174C541.8,230 541.8,330 541.6,384M550.5,174C551.8,230 551.8,330 548.9,384M556,174C558,230 558,330 553.5,384M562.8,174C565.7,230 565.7,330 559.2,384M570.5,174C574.4,230 574.4,330 565.6,384M591.7,174C598.5,230 598.5,330 583.2,384M525.5,247L541.5,243.2L548.3,246.7L550,253.3L549.6,302L542.8,311L530,308.5L526,300Z" fill="none" stroke="#161616" stroke-width="0.95" stroke-opacity="0.74" /></g><path d="M540,176.3C535.8,176.9 522.7,178.3 515,180C507.3,181.7 499.2,184.5 493.9,186.7C488.6,188.9 486,190.8 483,193C480,195.2 478.3,197.3 476.1,200C473.9,202.7 471.7,206 470,209C468.3,212 467.1,214.6 466.1,217.8C465.1,221 464.4,224.7 464,228C463.6,231.3 463.7,235 463.9,237.8C464.1,240.6 464.4,242.8 465,245C465.6,247.2 465.3,247.9 467.2,251.1C469.1,254.3 472.8,258.8 476.1,264.4C479.4,269.9 483.9,277.7 487.2,284.4C490.5,291.1 493.9,297.7 496.1,304.4C498.3,311.1 499.6,316.8 500.6,324.4C501.6,332 501.9,341.1 502.3,350C502.7,358.9 502.7,373.3 502.8,378L503.5,382.5L532.8,384C537.2,383.9 550.7,384.1 559.4,383.5C568.1,382.9 578.7,381.6 585,380.5C591.3,379.4 594.1,378.6 597.2,376.7C600.4,374.8 602.2,372.4 603.9,368.9C605.6,365.4 606.1,362.3 607.2,355.6C608.3,348.9 609.7,339.3 610.6,328.9C611.5,318.5 612.4,303.1 612.8,293.3C613.2,283.5 613,277.4 613,270C613,262.6 613.2,258 612.8,248.9C612.4,239.8 611.3,223.2 610.6,215.6C609.9,207.9 609.2,206.7 608.5,203C607.8,199.3 606.9,196 606.1,193.3C605.3,190.6 604.6,188.8 603.5,187C602.4,185.2 601.3,183.7 599.4,182.2C597.5,180.7 595,179.2 592,178.2C589,177.2 587,176.5 581.7,176C576.4,175.5 567,175.4 560,175.3C553,175.2 543.3,175.2 540,175.2Z" fill="none" stroke="#444" stroke-opacity="0.45" stroke-width="0.8"/></g>
<g><clipPath id="cP7"><path clip-rule="evenodd" d="M503.3,300Q503.3,294 509,293.5L540,291.5L548,295L548,304L529,306Q528.3,306.5 528.3,310L528.3,426.7C532,434 536,438 540,440L558.3,443.5L576.7,439.2C580,436 582,432 583.3,428.3L582.6,380L606.7,380L606.7,655C606.7,690 585,700.8 555,700.8C525,700.8 502.5,690 502.5,655ZM520,590.5C535,587.5 545,586.7 555,586.7C567,587 578,589 589.2,592.5L589.2,651C589.2,672 575,685 555,685C535,685 520,672 520,651Z"/></clipPath><path fill-rule="evenodd" d="M503.3,300Q503.3,294 509,293.5L540,291.5L548,295L548,304L529,306Q528.3,306.5 528.3,310L528.3,426.7C532,434 536,438 540,440L558.3,443.5L576.7,439.2C580,436 582,432 583.3,428.3L582.6,380L606.7,380L606.7,655C606.7,690 585,700.8 555,700.8C525,700.8 502.5,690 502.5,655ZM520,590.5C535,587.5 545,586.7 555,586.7C567,587 578,589 589.2,592.5L589.2,651C589.2,672 575,685 555,685C535,685 520,672 520,651Z" fill="url(#gP)"/><g clip-path="url(#cP7)"><path d="M520.8,461L558,456.5L596.7,465L596,594L520,594Z" fill="#b5b5b5"/><path d="M520.8,461L558,456.5L596.7,465L596.7,469L558,460.5L520.8,465Z" fill="#cbcbcb"/><path d="M590,465L596.7,467L596,594L590,594Z" fill="#a8a8a8"/><path d="M520.8,465L558,460.5L596.7,469L596.7,476L558,467.5L520.8,472Z" fill="#000" fill-opacity="0.07"/><path d="M528.3,410L583,410L596.7,465L558,456.5L520.8,461Z" fill="#bcbcbc"/><path d="M520.5,300V590M589.5,380V592M503,395H528.3M582.6,398H607M503,427.5H528.3M582.6,430.5H607M503,460.8H528.3M582.6,463.8H607M503,503.3H528.3M582.6,506.3H607M503,543.3H528.3M582.6,546.3H607M503,582.5H528.3M582.6,585.5H607M503,591.7H528.3M582.6,594.7H607M503,598.3H528.3M582.6,601.3H607M503,615.8H528.3M582.6,618.8H607M503,645H528.3M582.6,648H607M503,660H528.3M582.6,663H607M503,310H528.3M503,340H528.3M503,365H528.3M520,505.3C535,500.3 545,498.3 556,498.3S580,501.3 596,506.3M520,545.3C535,541.3 545,539.3 556,539.3S580,542.3 596,546.3M531,461.5C533,500 535,550 535,590M556,459.5C555.5,500 555,550 555,590M583,461.7C579,500 575,550 575,590M520.8,461L558,456.5L596.7,465M520.8,465L558,460.5L596.7,469M520.8,461V594M590,466V594M528.3,426.7L520.8,461M540,440L533,459.5M558.3,443.5L558,456.5M576.7,439.2L585,462.5M583.3,428.3L596.7,465M524.5,444L537,449.5L558.3,452L581,448.5L590,447M531,429.5C535,437 538,440.5 542,442.5L558.3,446L576,442C580,439 583,434 585,430M521.2,659.8L504.3,666.9M524.6,668L509.5,677.9M530.1,675L517.8,687.4M537.3,680.4L528.6,694.7M545.6,683.8L541.1,699.2M554.6,685L554.6,700.8M563.6,683.8L568.1,699.2M571.9,680.4L580.6,694.7M579.1,675L591.4,687.4M584.6,668L599.7,677.9M588,659.8L604.9,666.9M512.5,296L512.5,652.7L512.5,652.7C512.6,654 512.7,657.9 513.3,660.3C513.8,662.8 514.6,665.3 515.7,667.7C516.7,670 518.1,672.3 519.6,674.4C521.1,676.5 522.9,678.6 524.8,680.3C526.8,682.1 528.9,683.8 531.2,685.2C533.5,686.6 535.9,687.8 538.5,688.8C541,689.8 543.7,690.5 546.4,691C549.1,691.5 551.9,691.8 554.6,691.8C557.3,691.8 560.1,691.5 562.8,691C565.5,690.5 568.2,689.8 570.7,688.8C573.3,687.8 575.7,686.6 578,685.2C580.3,683.8 582.4,682.1 584.4,680.3C586.3,678.6 588.1,676.5 589.6,674.4C591.1,672.3 592.5,670 593.5,667.7C594.6,665.3 595.4,662.8 595.9,660.3C596.5,657.9 596.6,654 596.7,652.7L596.7,380M509.2,296L509.2,653.5L509.2,653.5C509.3,654.8 509.4,658.9 510,661.5C510.6,664.2 511.5,666.8 512.6,669.3C513.7,671.8 515.2,674.2 516.8,676.4C518.5,678.7 520.4,680.8 522.5,682.7C524.6,684.6 526.9,686.3 529.3,687.8C531.8,689.3 534.5,690.6 537.2,691.7C539.9,692.7 542.8,693.5 545.7,694C548.6,694.5 551.6,694.8 554.6,694.8C557.6,694.8 560.6,694.5 563.5,694C566.4,693.5 569.3,692.7 572,691.7C574.7,690.6 577.4,689.3 579.9,687.8C582.3,686.3 584.6,684.6 586.7,682.7C588.8,680.8 590.7,678.7 592.4,676.4C594,674.2 595.5,671.8 596.6,669.3C597.7,666.8 598.6,664.2 599.2,661.5C599.8,658.9 599.9,654.8 600.1,653.5L600.1,380M505.8,296L505.8,654.2L505.8,654.2C506,655.7 506.1,660 506.8,662.7C507.4,665.5 508.3,668.3 509.5,670.9C510.8,673.5 512.3,676.1 514,678.4C515.8,680.8 517.9,683 520.1,685C522.4,687 524.9,688.9 527.5,690.5C530.1,692 533,693.4 535.9,694.5C538.9,695.6 542,696.4 545.1,697C548.2,697.5 551.4,697.8 554.6,697.8C557.8,697.8 561,697.5 564.1,697C567.2,696.4 570.3,695.6 573.3,694.5C576.2,693.4 579.1,692 581.7,690.5C584.3,688.9 586.8,687 589.1,685C591.3,683 593.4,680.8 595.2,678.4C596.9,676.1 598.4,673.5 599.7,670.9C600.9,668.3 601.8,665.5 602.4,662.7C603.1,660 603.2,655.7 603.4,654.2L603.4,380" fill="none" stroke="#161616" stroke-width="0.95" stroke-opacity="0.74" /></g><path d="M503.3,300Q503.3,294 509,293.5L540,291.5L548,295L548,304L529,306Q528.3,306.5 528.3,310L528.3,426.7C532,434 536,438 540,440L558.3,443.5L576.7,439.2C580,436 582,432 583.3,428.3L582.6,380L606.7,380L606.7,655C606.7,690 585,700.8 555,700.8C525,700.8 502.5,690 502.5,655ZM520,590.5C535,587.5 545,586.7 555,586.7C567,587 578,589 589.2,592.5L589.2,651C589.2,672 575,685 555,685C535,685 520,672 520,651Z" fill="none" stroke="#444" stroke-opacity="0.45" stroke-width="0.8"/></g>
<g transform="translate(1,169.5)"><clipPath id="cT8"><path d="M717.2,-0.3 C717.2,-8.3 718,-13.3 721.2,-15.6 C724,-17.6 731,-18.2 742,-18.4 L745,-18C750,-19 764,-19.6 771,-19.6 L791,-19 Q795.6,-18.8 795.7,-15.1 L795.8,20.2 Q795.6,23.9 791,24.2 L771,24.7C761,24.7 751,23.7 746,21.7 L743,16.3 C731,16.9 724,16.3 721.2,14.3 C718,12.2 717.2,7.7 717.2,-0.3Z"/></clipPath><path d="M717.2,-0.3 C717.2,-8.3 718,-13.3 721.2,-15.6 C724,-17.6 731,-18.2 742,-18.4 L745,-18C750,-19 764,-19.6 771,-19.6 L791,-19 Q795.6,-18.8 795.7,-15.1 L795.8,20.2 Q795.6,23.9 791,24.2 L771,24.7C761,24.7 751,23.7 746,21.7 L743,16.3 C731,16.9 724,16.3 721.2,14.3 C718,12.2 717.2,7.7 717.2,-0.3Z" fill="url(#gT)"/><g clip-path="url(#cT8)"><path d="M771,-30H797V30H771Z" fill="#d0d0d0"/><path d="M745,-20.1L773,-20.1L768,-3.9L768,1.5L773,17.8L745,17.8Z" fill="url(#gTn)"/><path d="M759.5,-19.6L774.5,-19.6L770,-8.8L765,-7Z" fill="#e4e4e4"/><path d="M759.5,17.3L774.5,17.3L770,6.5L765,4.7Z" fill="#a4a4a4"/><path d="M717,-0.3 C717,-10.3 719,-17.3 724,-18 L744,-18.4 C748,-10.3 748,9.7 744,16.3 L724,16.5 C719,15.7 717,9.7 717,-0.3Z" fill="url(#gTh)"/><path d="M744,17.3L797,17.3V40H744Z" fill="#8c8c8c"/><path d="M720,13.2L744,14.2V40H720Z" fill="#000" fill-opacity="0.16"/><path d="M717,-11.3C725,-12.1 735,-12.1 746,-11M717,-5.9C725,-6.3 735,-6.3 746,-5.7M717,-0.3C725,-0.3 735,-0.3 746,-0.1M717,5.6C725,6 735,6 746,5.6M717,10.9C725,11.7 735,11.7 746,10.9M730.5,-18.8C728.3,-8.3 728.3,7.7 730.5,17.2M742.5,-18.8C740.3,-8.3 740.3,7.7 742.5,17.2M746,-20.1C749.5,-9.3 749.5,7 746,17.8M749.6,-20.1C753.1,-9.3 753.1,7 749.6,17.8M753.2,-20.1C756.7,-9.3 756.7,7 753.2,17.8M756.8,-20.1C760.3,-9.3 760.3,7 756.8,17.8M746,-1.2C753,-0.4 762,-0.8 768,-1.2S786,-0.8 797,-1.2M746,-10.9C753,-9.8 760,-6.6 768,-3.6M746,-6C753,-5.5 760,-3.9 768,-2.4M746,3.7C753,3.2 760,1.5 768,0M746,8.6C753,7.5 760,4.3 768,1.2M774.5,-20.1C771.5,-12 768.5,-6.6 765,-4.3M774.5,17.8C771.5,9.7 768.5,4.3 765,2M776.9,-20.1C773.9,-12 769.9,-6.6 766.2,-4.3M776.9,17.8C773.9,9.7 769.9,4.3 766.2,2M779.3,-20.1C776.3,-12 771.4,-6.6 767.4,-4.3M779.3,17.8C776.3,9.7 771.4,4.3 767.4,2M759.5,-19.6L765,-7L770,-8.8M759.5,17.3L765,4.7L770,6.5M765,-7C763.5,-3 763.5,0.6 765,4.7M768,-4.8C767,-2.1 767,-0.3 768,2.4M777.5,-20.6V18.3M781.5,-20.6V18.3M787,-20.6V18.3M773,-17C780,-15.3 789,-15.3 797,-15.3M773,14.2C780,12.6 789,12.6 797,12.6M745,17.3H797M745,-19.6H797" fill="none" stroke="#161616" stroke-width="0.9" stroke-opacity="0.72" /></g><path d="M717.2,-0.3 C717.2,-8.3 718,-13.3 721.2,-15.6 C724,-17.6 731,-18.2 742,-18.4 L745,-18C750,-19 764,-19.6 771,-19.6 L791,-19 Q795.6,-18.8 795.7,-15.1 L795.8,20.2 Q795.6,23.9 791,24.2 L771,24.7C761,24.7 751,23.7 746,21.7 L743,16.3 C731,16.9 724,16.3 721.2,14.3 C718,12.2 717.2,7.7 717.2,-0.3Z" fill="none" stroke="#444" stroke-opacity="0.4" stroke-width="0.8"/></g><g transform="translate(0.8,222.6)"><clipPath id="cT9"><path d="M717.2,-0.2 C717.2,-8.2 718,-13.2 721.2,-15.5 C724,-17.5 731,-18.1 742,-18.3 L745,-18.2C750,-19.2 764,-19.9 771,-19.9 L791,-19.2 Q795.6,-19.1 795.7,-15.4 L795.8,20 Q795.6,23.7 791,24 L771,24.5C761,24.5 751,23.5 746,21.5 L743,16.4 C731,17 724,16.4 721.2,14.4 C718,12.3 717.2,7.8 717.2,-0.2Z"/></clipPath><path d="M717.2,-0.2 C717.2,-8.2 718,-13.2 721.2,-15.5 C724,-17.5 731,-18.1 742,-18.3 L745,-18.2C750,-19.2 764,-19.9 771,-19.9 L791,-19.2 Q795.6,-19.1 795.7,-15.4 L795.8,20 Q795.6,23.7 791,24 L771,24.5C761,24.5 751,23.5 746,21.5 L743,16.4 C731,17 724,16.4 721.2,14.4 C718,12.3 717.2,7.8 717.2,-0.2Z" fill="url(#gT)"/><g clip-path="url(#cT9)"><path d="M771,-30H797V30H771Z" fill="#d0d0d0"/><path d="M745,-20.4L773,-20.4L768,-3.9L768,1.7L773,18.2L745,18.2Z" fill="url(#gTn)"/><path d="M759.5,-19.9L774.5,-19.9L770,-8.9L765,-7.1Z" fill="#e4e4e4"/><path d="M759.5,17.6L774.5,17.6L770,6.7L765,4.9Z" fill="#a4a4a4"/><path d="M717,-0.2 C717,-10.2 719,-17.2 724,-17.9 L744,-18.3 C748,-10.2 748,9.8 744,16.4 L724,16.6 C719,15.8 717,9.8 717,-0.2Z" fill="url(#gTh)"/><path d="M744,17.6L797,17.6V40H744Z" fill="#8c8c8c"/><path d="M720,13.3L744,14.3V40H720Z" fill="#000" fill-opacity="0.16"/><path d="M717,-11.2C725,-12 735,-12 746,-11M717,-5.8C725,-6.2 735,-6.2 746,-5.6M717,-0.2C725,-0.2 735,-0.2 746,-0.1M717,5.6C725,6.1 735,6.1 746,5.7M717,10.9C725,11.8 735,11.8 746,10.9M730.5,-18.7C728.3,-8.2 728.3,7.8 730.5,17.3M742.5,-18.7C740.3,-8.2 740.3,7.8 742.5,17.3M746,-20.4C749.5,-9.4 749.5,7.2 746,18.2M749.6,-20.4C753.1,-9.4 753.1,7.2 749.6,18.2M753.2,-20.4C756.7,-9.4 756.7,7.2 753.2,18.2M756.8,-20.4C760.3,-9.4 760.3,7.2 756.8,18.2M746,-1.1C753,-0.4 762,-0.7 768,-1.1S786,-0.7 797,-1.1M746,-11C753,-9.9 760,-6.6 768,-3.5M746,-6.1C753,-5.5 760,-3.9 768,-2.3M746,3.9C753,3.3 760,1.7 768,0.1M746,8.8C753,7.7 760,4.4 768,1.3M774.5,-20.4C771.5,-12.1 768.5,-6.6 765,-4.3M774.5,18.2C771.5,9.9 768.5,4.4 765,2.1M776.9,-20.4C773.9,-12.1 769.9,-6.6 766.2,-4.3M776.9,18.2C773.9,9.9 769.9,4.4 766.2,2.1M779.3,-20.4C776.3,-12.1 771.4,-6.6 767.4,-4.3M779.3,18.2C776.3,9.9 771.4,4.4 767.4,2.1M759.5,-19.9L765,-7.1L770,-8.9M759.5,17.6L765,4.9L770,6.7M765,-7.1C763.5,-2.9 763.5,0.7 765,4.9M768,-4.8C767,-2 767,-0.2 768,2.6M777.5,-20.9V18.6M781.5,-20.9V18.6M787,-20.9V18.6M773,-17.2C780,-15.4 789,-15.4 797,-15.4M773,14.5C780,12.9 789,12.9 797,12.9M745,17.6H797M745,-19.9H797" fill="none" stroke="#161616" stroke-width="0.9" stroke-opacity="0.72" /></g><path d="M717.2,-0.2 C717.2,-8.2 718,-13.2 721.2,-15.5 C724,-17.5 731,-18.1 742,-18.3 L745,-18.2C750,-19.2 764,-19.9 771,-19.9 L791,-19.2 Q795.6,-19.1 795.7,-15.4 L795.8,20 Q795.6,23.7 791,24 L771,24.5C761,24.5 751,23.5 746,21.5 L743,16.4 C731,17 724,16.4 721.2,14.4 C718,12.3 717.2,7.8 717.2,-0.2Z" fill="none" stroke="#444" stroke-opacity="0.4" stroke-width="0.8"/></g><g transform="translate(0.6,275.7)"><clipPath id="cT10"><path d="M717.2,-0.1 C717.2,-8.1 718,-13.1 721.2,-15.4 C724,-17.4 731,-18 742,-18.2 L745,-18.5C750,-19.5 764,-20.1 771,-20.1 L791,-19.5 Q795.6,-19.3 795.7,-15.6 L795.8,19.7 Q795.6,23.4 791,23.7 L771,24.2C761,24.2 751,23.2 746,21.2 L743,16.5 C731,17.1 724,16.5 721.2,14.5 C718,12.4 717.2,7.9 717.2,-0.1Z"/></clipPath><path d="M717.2,-0.1 C717.2,-8.1 718,-13.1 721.2,-15.4 C724,-17.4 731,-18 742,-18.2 L745,-18.5C750,-19.5 764,-20.1 771,-20.1 L791,-19.5 Q795.6,-19.3 795.7,-15.6 L795.8,19.7 Q795.6,23.4 791,23.7 L771,24.2C761,24.2 751,23.2 746,21.2 L743,16.5 C731,17.1 724,16.5 721.2,14.5 C718,12.4 717.2,7.9 717.2,-0.1Z" fill="url(#gT)"/><g clip-path="url(#cT10)"><path d="M771,-30H797V30H771Z" fill="#d0d0d0"/><path d="M745,-20.7L773,-20.7L768,-3.8L768,1.8L773,18.6L745,18.6Z" fill="url(#gTn)"/><path d="M759.5,-20.1L774.5,-20.1L770,-9L765,-7.1Z" fill="#e4e4e4"/><path d="M759.5,18L774.5,18L770,6.9L765,5Z" fill="#a4a4a4"/><path d="M717,-0.1 C717,-10.1 719,-17.1 724,-17.8 L744,-18.2 C748,-10.1 748,9.9 744,16.5 L724,16.7 C719,15.9 717,9.9 717,-0.1Z" fill="url(#gTh)"/><path d="M744,18L797,18V40H744Z" fill="#8c8c8c"/><path d="M720,13.4L744,14.4V40H720Z" fill="#000" fill-opacity="0.16"/><path d="M717,-11.1C725,-11.9 735,-11.9 746,-10.9M717,-5.7C725,-6.1 735,-6.1 746,-5.6M717,-0.1C725,-0.1 735,-0.1 746,-0.1M717,5.7C725,6.2 735,6.2 746,5.7M717,11C725,11.9 735,11.9 746,11M730.5,-18.6C728.3,-8.1 728.3,7.9 730.5,17.4M742.5,-18.6C740.3,-8.1 740.3,7.9 742.5,17.4M746,-20.7C749.5,-9.4 749.5,7.4 746,18.6M749.6,-20.7C753.1,-9.4 753.1,7.4 749.6,18.6M753.2,-20.7C756.7,-9.4 756.7,7.4 753.2,18.6M756.8,-20.7C760.3,-9.4 760.3,7.4 756.8,18.6M746,-1C753,-0.3 762,-0.7 768,-1S786,-0.7 797,-1M746,-11.1C753,-10 760,-6.6 768,-3.5M746,-6.1C753,-5.5 760,-3.8 768,-2.3M746,4C753,3.5 760,1.8 768,0.2M746,9.1C753,7.9 760,4.6 768,1.4M774.5,-20.7C771.5,-12.2 768.5,-6.6 765,-4.3M774.5,18.6C771.5,10.2 768.5,4.6 765,2.2M776.9,-20.7C773.9,-12.2 769.9,-6.6 766.2,-4.3M776.9,18.6C773.9,10.2 769.9,4.6 766.2,2.2M779.3,-20.7C776.3,-12.2 771.4,-6.6 767.4,-4.3M779.3,18.6C776.3,10.2 771.4,4.6 767.4,2.2M759.5,-20.1L765,-7.1L770,-9M759.5,18L765,5L770,6.9M765,-7.1C763.5,-2.9 763.5,0.8 765,5M768,-4.8C767,-2 767,-0.1 768,2.7M777.5,-21.1V19M781.5,-21.1V19M787,-21.1V19M773,-17.4C780,-15.6 789,-15.6 797,-15.6M773,14.9C780,13.2 789,13.2 797,13.2M745,18H797M745,-20.1H797" fill="none" stroke="#161616" stroke-width="0.9" stroke-opacity="0.72" /></g><path d="M717.2,-0.1 C717.2,-8.1 718,-13.1 721.2,-15.4 C724,-17.4 731,-18 742,-18.2 L745,-18.5C750,-19.5 764,-20.1 771,-20.1 L791,-19.5 Q795.6,-19.3 795.7,-15.6 L795.8,19.7 Q795.6,23.4 791,23.7 L771,24.2C761,24.2 751,23.2 746,21.2 L743,16.5 C731,17.1 724,16.5 721.2,14.5 C718,12.4 717.2,7.9 717.2,-0.1Z" fill="none" stroke="#444" stroke-opacity="0.4" stroke-width="0.8"/></g><g transform="translate(0.4,328.9)"><clipPath id="cT11"><path d="M717.2,-0.1 C717.2,-8.1 718,-13.1 721.2,-15.4 C724,-17.4 731,-18 742,-18.2 L745,-18.8C750,-19.8 764,-20.4 771,-20.4 L791,-19.8 Q795.6,-19.6 795.7,-15.9 L795.8,19.5 Q795.6,23.2 791,23.5 L771,24C761,24 751,23 746,21 L743,16.5 C731,17.1 724,16.5 721.2,14.5 C718,12.4 717.2,7.9 717.2,-0.1Z"/></clipPath><path d="M717.2,-0.1 C717.2,-8.1 718,-13.1 721.2,-15.4 C724,-17.4 731,-18 742,-18.2 L745,-18.8C750,-19.8 764,-20.4 771,-20.4 L791,-19.8 Q795.6,-19.6 795.7,-15.9 L795.8,19.5 Q795.6,23.2 791,23.5 L771,24C761,24 751,23 746,21 L743,16.5 C731,17.1 724,16.5 721.2,14.5 C718,12.4 717.2,7.9 717.2,-0.1Z" fill="url(#gT)"/><g clip-path="url(#cT11)"><path d="M771,-30H797V30H771Z" fill="#d0d0d0"/><path d="M745,-20.9L773,-20.9L768,-3.8L768,1.9L773,19L745,19Z" fill="url(#gTn)"/><path d="M759.5,-20.4L774.5,-20.4L770,-9L765,-7.1Z" fill="#e4e4e4"/><path d="M759.5,18.4L774.5,18.4L770,7.1L765,5.2Z" fill="#a4a4a4"/><path d="M717,-0.1 C717,-10.1 719,-17.1 724,-17.8 L744,-18.2 C748,-10.1 748,9.9 744,16.5 L724,16.7 C719,15.9 717,9.9 717,-0.1Z" fill="url(#gTh)"/><path d="M744,18.4L797,18.4V40H744Z" fill="#8c8c8c"/><path d="M720,13.4L744,14.4V40H720Z" fill="#000" fill-opacity="0.16"/><path d="M717,-11C725,-11.9 735,-11.9 746,-10.9M717,-5.6C725,-6.1 735,-6.1 746,-5.6M717,-0.1C725,-0.1 735,-0.1 746,-0M717,5.8C725,6.2 735,6.2 746,5.8M717,11.1C725,11.9 735,11.9 746,11M730.5,-18.6C728.3,-8.1 728.3,7.9 730.5,17.4M742.5,-18.6C740.3,-8.1 740.3,7.9 742.5,17.4M746,-20.9C749.5,-9.5 749.5,7.6 746,19M749.6,-20.9C753.1,-9.5 753.1,7.6 749.6,19M753.2,-20.9C756.7,-9.5 756.7,7.6 753.2,19M756.8,-20.9C760.3,-9.5 760.3,7.6 756.8,19M746,-1C753,-0.2 762,-0.6 768,-1S786,-0.6 797,-1M746,-11.2C753,-10.1 760,-6.7 768,-3.5M746,-6.1C753,-5.5 760,-3.8 768,-2.2M746,4.2C753,3.6 760,1.9 768,0.3M746,9.3C753,8.2 760,4.7 768,1.5M774.5,-20.9C771.5,-12.4 768.5,-6.7 765,-4.3M774.5,19C771.5,10.4 768.5,4.7 765,2.4M776.9,-20.9C773.9,-12.4 769.9,-6.7 766.2,-4.3M776.9,19C773.9,10.4 769.9,4.7 766.2,2.4M779.3,-20.9C776.3,-12.4 771.4,-6.7 767.4,-4.3M779.3,19C776.3,10.4 771.4,4.7 767.4,2.4M759.5,-20.4L765,-7.1L770,-9M759.5,18.4L765,5.2L770,7.1M765,-7.1C763.5,-2.9 763.5,0.9 765,5.2M768,-4.8C767,-1.9 767,-0 768,2.8M777.5,-21.4V19.4M781.5,-21.4V19.4M787,-21.4V19.4M773,-17.6C780,-15.8 789,-15.8 797,-15.8M773,15.2C780,13.5 789,13.5 797,13.5M745,18.4H797M745,-20.4H797" fill="none" stroke="#161616" stroke-width="0.9" stroke-opacity="0.72" /></g><path d="M717.2,-0.1 C717.2,-8.1 718,-13.1 721.2,-15.4 C724,-17.4 731,-18 742,-18.2 L745,-18.8C750,-19.8 764,-20.4 771,-20.4 L791,-19.8 Q795.6,-19.6 795.7,-15.9 L795.8,19.5 Q795.6,23.2 791,23.5 L771,24C761,24 751,23 746,21 L743,16.5 C731,17.1 724,16.5 721.2,14.5 C718,12.4 717.2,7.9 717.2,-0.1Z" fill="none" stroke="#444" stroke-opacity="0.4" stroke-width="0.8"/></g><g transform="translate(0.2,382)"><clipPath id="cT12"><path d="M717.2,0 C717.2,-8 718,-13 721.2,-15.3 C724,-17.3 731,-17.9 742,-18.1 L745,-19C750,-20 764,-20.6 771,-20.6 L791,-20 Q795.6,-19.8 795.7,-16.1 L795.8,19.3 Q795.6,23 791,23.3 L771,23.8C761,23.8 751,22.8 746,20.8 L743,16.6 C731,17.2 724,16.6 721.2,14.6 C718,12.5 717.2,8 717.2,0Z"/></clipPath><path d="M717.2,0 C717.2,-8 718,-13 721.2,-15.3 C724,-17.3 731,-17.9 742,-18.1 L745,-19C750,-20 764,-20.6 771,-20.6 L791,-20 Q795.6,-19.8 795.7,-16.1 L795.8,19.3 Q795.6,23 791,23.3 L771,23.8C761,23.8 751,22.8 746,20.8 L743,16.6 C731,17.2 724,16.6 721.2,14.6 C718,12.5 717.2,8 717.2,0Z" fill="url(#gT)"/><g clip-path="url(#cT12)"><path d="M771,-30H797V30H771Z" fill="#d0d0d0"/><path d="M745,-21.2L773,-21.2L768,-3.8L768,2L773,19.4L745,19.4Z" fill="url(#gTn)"/><path d="M759.5,-20.6L774.5,-20.6L770,-9.1L765,-7.2Z" fill="#e4e4e4"/><path d="M759.5,18.8L774.5,18.8L770,7.3L765,5.4Z" fill="#a4a4a4"/><path d="M717,0 C717,-10 719,-17 724,-17.7 L744,-18.1 C748,-10 748,10 744,16.6 L724,16.8 C719,16 717,10 717,0Z" fill="url(#gTh)"/><path d="M744,18.8L797,18.8V40H744Z" fill="#8c8c8c"/><path d="M720,13.5L744,14.5V40H720Z" fill="#000" fill-opacity="0.16"/><path d="M717,-11C725,-11.8 735,-11.8 746,-10.9M717,-5.6C725,-6 735,-6 746,-5.5M717,0C725,0 735,0 746,0M717,5.9C725,6.3 735,6.3 746,5.8M717,11.2C725,12 735,12 746,11M730.5,-18.5C728.3,-8 728.3,8 730.5,17.5M742.5,-18.5C740.3,-8 740.3,8 742.5,17.5M746,-21.2C749.5,-9.6 749.5,7.8 746,19.4M749.6,-21.2C753.1,-9.6 753.1,7.8 749.6,19.4M753.2,-21.2C756.7,-9.6 756.7,7.8 753.2,19.4M756.8,-21.2C760.3,-9.6 760.3,7.8 756.8,19.4M746,-0.9C753,-0.1 762,-0.5 768,-0.9S786,-0.5 797,-0.9M746,-11.3C753,-10.2 760,-6.7 768,-3.4M746,-6.1C753,-5.5 760,-3.8 768,-2.2M746,4.3C753,3.7 760,2 768,0.4M746,9.5C753,8.4 760,4.9 768,1.7M774.5,-21.2C771.5,-12.5 768.5,-6.7 765,-4.3M774.5,19.4C771.5,10.7 768.5,4.9 765,2.5M776.9,-21.2C773.9,-12.5 769.9,-6.7 766.2,-4.3M776.9,19.4C773.9,10.7 769.9,4.9 766.2,2.5M779.3,-21.2C776.3,-12.5 771.4,-6.7 767.4,-4.3M779.3,19.4C776.3,10.7 771.4,4.9 767.4,2.5M759.5,-20.6L765,-7.2L770,-9.1M759.5,18.8L765,5.4L770,7.3M765,-7.2C763.5,-2.8 763.5,1 765,5.4M768,-4.8C767,-1.9 767,0.1 768,3M777.5,-21.6V19.8M781.5,-21.6V19.8M787,-21.6V19.8M773,-17.8C780,-16 789,-16 797,-16M773,15.6C780,13.8 789,13.8 797,13.8M745,18.8H797M745,-20.6H797" fill="none" stroke="#161616" stroke-width="0.9" stroke-opacity="0.72" /></g><path d="M717.2,0 C717.2,-8 718,-13 721.2,-15.3 C724,-17.3 731,-17.9 742,-18.1 L745,-19C750,-20 764,-20.6 771,-20.6 L791,-20 Q795.6,-19.8 795.7,-16.1 L795.8,19.3 Q795.6,23 791,23.3 L771,23.8C761,23.8 751,22.8 746,20.8 L743,16.6 C731,17.2 724,16.6 721.2,14.6 C718,12.5 717.2,8 717.2,0Z" fill="none" stroke="#444" stroke-opacity="0.4" stroke-width="0.8"/></g><g transform="translate(0.1,435.1)"><clipPath id="cT13"><path d="M717.2,0.1 C717.2,-7.9 718,-12.9 721.2,-15.2 C724,-17.2 731,-17.8 742,-18 L745,-19.2C750,-20.2 764,-20.9 771,-20.9 L791,-20.2 Q795.6,-20.1 795.7,-16.4 L795.8,19.1 Q795.6,22.8 791,23.1 L771,23.6C761,23.6 751,22.6 746,20.6 L743,16.7 C731,17.3 724,16.7 721.2,14.7 C718,12.6 717.2,8.1 717.2,0.1Z"/></clipPath><path d="M717.2,0.1 C717.2,-7.9 718,-12.9 721.2,-15.2 C724,-17.2 731,-17.8 742,-18 L745,-19.2C750,-20.2 764,-20.9 771,-20.9 L791,-20.2 Q795.6,-20.1 795.7,-16.4 L795.8,19.1 Q795.6,22.8 791,23.1 L771,23.6C761,23.6 751,22.6 746,20.6 L743,16.7 C731,17.3 724,16.7 721.2,14.7 C718,12.6 717.2,8.1 717.2,0.1Z" fill="url(#gT)"/><g clip-path="url(#cT13)"><path d="M771,-30H797V30H771Z" fill="#d0d0d0"/><path d="M745,-21.4L773,-21.4L768,-3.8L768,2.1L773,19.8L745,19.8Z" fill="url(#gTn)"/><path d="M759.5,-20.9L774.5,-20.9L770,-9.2L765,-7.2Z" fill="#e4e4e4"/><path d="M759.5,19.2L774.5,19.2L770,7.5L765,5.6Z" fill="#a4a4a4"/><path d="M717,0.1 C717,-9.9 719,-16.9 724,-17.6 L744,-18 C748,-9.9 748,10.1 744,16.7 L724,16.9 C719,16.1 717,10.1 717,0.1Z" fill="url(#gTh)"/><path d="M744,19.2L797,19.2V40H744Z" fill="#8c8c8c"/><path d="M720,13.6L744,14.6V40H720Z" fill="#000" fill-opacity="0.16"/><path d="M717,-10.9C725,-11.7 735,-11.7 746,-10.8M717,-5.5C725,-5.9 735,-5.9 746,-5.5M717,0.1C725,0.1 735,0.1 746,0M717,5.9C725,6.4 735,6.4 746,5.8M717,11.2C725,12.1 735,12.1 746,11.1M730.5,-18.4C728.3,-7.9 728.3,8.1 730.5,17.6M742.5,-18.4C740.3,-7.9 740.3,8.1 742.5,17.6M746,-21.4C749.5,-9.7 749.5,8 746,19.8M749.6,-21.4C753.1,-9.7 753.1,8 749.6,19.8M753.2,-21.4C756.7,-9.7 756.7,8 753.2,19.8M756.8,-21.4C760.3,-9.7 760.3,8 756.8,19.8M746,-0.8C753,-0 762,-0.4 768,-0.8S786,-0.4 797,-0.8M746,-11.4C753,-10.2 760,-6.7 768,-3.4M746,-6.1C753,-5.5 760,-3.8 768,-2.1M746,4.5C753,3.9 760,2.1 768,0.5M746,9.8C753,8.6 760,5.1 768,1.8M774.5,-21.4C771.5,-12.6 768.5,-6.7 765,-4.3M774.5,19.8C771.5,11 768.5,5.1 765,2.6M776.9,-21.4C773.9,-12.6 769.9,-6.7 766.2,-4.3M776.9,19.8C773.9,11 769.9,5.1 766.2,2.6M779.3,-21.4C776.3,-12.6 771.4,-6.7 767.4,-4.3M779.3,19.8C776.3,11 771.4,5.1 767.4,2.6M759.5,-20.9L765,-7.2L770,-9.2M759.5,19.2L765,5.6L770,7.5M765,-7.2C763.5,-2.8 763.5,1.1 765,5.6M768,-4.7C767,-1.8 767,0.2 768,3.1M777.5,-21.9V20.2M781.5,-21.9V20.2M787,-21.9V20.2M773,-18C780,-16.1 789,-16.1 797,-16.1M773,15.9C780,14.1 789,14.1 797,14.1M745,19.2H797M745,-20.9H797" fill="none" stroke="#161616" stroke-width="0.9" stroke-opacity="0.72" /></g><path d="M717.2,0.1 C717.2,-7.9 718,-12.9 721.2,-15.2 C724,-17.2 731,-17.8 742,-18 L745,-19.2C750,-20.2 764,-20.9 771,-20.9 L791,-20.2 Q795.6,-20.1 795.7,-16.4 L795.8,19.1 Q795.6,22.8 791,23.1 L771,23.6C761,23.6 751,22.6 746,20.6 L743,16.7 C731,17.3 724,16.7 721.2,14.7 C718,12.6 717.2,8.1 717.2,0.1Z" fill="none" stroke="#444" stroke-opacity="0.4" stroke-width="0.8"/></g><g transform="translate(-0.1,488.2)"><clipPath id="cT14"><path d="M717.2,0.2 C717.2,-7.8 718,-12.8 721.2,-15.1 C724,-17.1 731,-17.7 742,-17.9 L745,-19.5C750,-20.5 764,-21.1 771,-21.1 L791,-20.5 Q795.6,-20.3 795.7,-16.6 L795.8,18.8 Q795.6,22.5 791,22.8 L771,23.3C761,23.3 751,22.3 746,20.3 L743,16.8 C731,17.4 724,16.8 721.2,14.8 C718,12.7 717.2,8.2 717.2,0.2Z"/></clipPath><path d="M717.2,0.2 C717.2,-7.8 718,-12.8 721.2,-15.1 C724,-17.1 731,-17.7 742,-17.9 L745,-19.5C750,-20.5 764,-21.1 771,-21.1 L791,-20.5 Q795.6,-20.3 795.7,-16.6 L795.8,18.8 Q795.6,22.5 791,22.8 L771,23.3C761,23.3 751,22.3 746,20.3 L743,16.8 C731,17.4 724,16.8 721.2,14.8 C718,12.7 717.2,8.2 717.2,0.2Z" fill="url(#gT)"/><g clip-path="url(#cT14)"><path d="M771,-30H797V30H771Z" fill="#d0d0d0"/><path d="M745,-21.7L773,-21.7L768,-3.7L768,2.2L773,20.2L745,20.2Z" fill="url(#gTn)"/><path d="M759.5,-21.1L774.5,-21.1L770,-9.2L765,-7.2Z" fill="#e4e4e4"/><path d="M759.5,19.6L774.5,19.6L770,7.7L765,5.7Z" fill="#a4a4a4"/><path d="M717,0.2 C717,-9.8 719,-16.8 724,-17.5 L744,-17.9 C748,-9.8 748,10.2 744,16.8 L724,17 C719,16.2 717,10.2 717,0.2Z" fill="url(#gTh)"/><path d="M744,19.6L797,19.6V40H744Z" fill="#8c8c8c"/><path d="M720,13.7L744,14.7V40H720Z" fill="#000" fill-opacity="0.16"/><path d="M717,-10.8C725,-11.6 735,-11.6 746,-10.8M717,-5.4C725,-5.8 735,-5.8 746,-5.4M717,0.2C725,0.2 735,0.2 746,0.1M717,6C725,6.5 735,6.5 746,5.9M717,11.3C725,12.2 735,12.2 746,11.1M730.5,-18.3C728.3,-7.8 728.3,8.2 730.5,17.7M742.5,-18.3C740.3,-7.8 740.3,8.2 742.5,17.7M746,-21.7C749.5,-9.7 749.5,8.2 746,20.2M749.6,-21.7C753.1,-9.7 753.1,8.2 749.6,20.2M753.2,-21.7C756.7,-9.7 756.7,8.2 753.2,20.2M756.8,-21.7C760.3,-9.7 760.3,8.2 756.8,20.2M746,-0.8C753,0 762,-0.4 768,-0.8S786,-0.4 797,-0.8M746,-11.5C753,-10.3 760,-6.7 768,-3.4M746,-6.1C753,-5.5 760,-3.7 768,-2.1M746,4.6C753,4 760,2.2 768,0.6M746,10C753,8.8 760,5.2 768,1.9M774.5,-21.7C771.5,-12.7 768.5,-6.7 765,-4.2M774.5,20.2C771.5,11.2 768.5,5.2 765,2.7M776.9,-21.7C773.9,-12.7 769.9,-6.7 766.2,-4.2M776.9,20.2C773.9,11.2 769.9,5.2 766.2,2.7M779.3,-21.7C776.3,-12.7 771.4,-6.7 767.4,-4.2M779.3,20.2C776.3,11.2 771.4,5.2 767.4,2.7M759.5,-21.1L765,-7.2L770,-9.2M759.5,19.6L765,5.7L770,7.7M765,-7.2C763.5,-2.7 763.5,1.2 765,5.7M768,-4.7C767,-1.7 767,0.2 768,3.2M777.5,-22.1V20.6M781.5,-22.1V20.6M787,-22.1V20.6M773,-18.2C780,-16.3 789,-16.3 797,-16.3M773,16.2C780,14.4 789,14.4 797,14.4M745,19.6H797M745,-21.1H797" fill="none" stroke="#161616" stroke-width="0.9" stroke-opacity="0.72" /></g><path d="M717.2,0.2 C717.2,-7.8 718,-12.8 721.2,-15.1 C724,-17.1 731,-17.7 742,-17.9 L745,-19.5C750,-20.5 764,-21.1 771,-21.1 L791,-20.5 Q795.6,-20.3 795.7,-16.6 L795.8,18.8 Q795.6,22.5 791,22.8 L771,23.3C761,23.3 751,22.3 746,20.3 L743,16.8 C731,17.4 724,16.8 721.2,14.8 C718,12.7 717.2,8.2 717.2,0.2Z" fill="none" stroke="#444" stroke-opacity="0.4" stroke-width="0.8"/></g><g transform="translate(-0.3,541.3)"><clipPath id="cT15"><path d="M717.2,0.2 C717.2,-7.8 718,-12.8 721.2,-15.1 C724,-17.1 731,-17.7 742,-17.9 L745,-19.8C750,-20.8 764,-21.4 771,-21.4 L791,-20.8 Q795.6,-20.6 795.7,-16.9 L795.8,18.6 Q795.6,22.3 791,22.6 L771,23.1C761,23.1 751,22.1 746,20.1 L743,16.8 C731,17.4 724,16.8 721.2,14.8 C718,12.7 717.2,8.2 717.2,0.2Z"/></clipPath><path d="M717.2,0.2 C717.2,-7.8 718,-12.8 721.2,-15.1 C724,-17.1 731,-17.7 742,-17.9 L745,-19.8C750,-20.8 764,-21.4 771,-21.4 L791,-20.8 Q795.6,-20.6 795.7,-16.9 L795.8,18.6 Q795.6,22.3 791,22.6 L771,23.1C761,23.1 751,22.1 746,20.1 L743,16.8 C731,17.4 724,16.8 721.2,14.8 C718,12.7 717.2,8.2 717.2,0.2Z" fill="url(#gT)"/><g clip-path="url(#cT15)"><path d="M771,-30H797V30H771Z" fill="#d0d0d0"/><path d="M745,-22L773,-22L768,-3.7L768,2.4L773,20.6L745,20.6Z" fill="url(#gTn)"/><path d="M759.5,-21.4L774.5,-21.4L770,-9.3L765,-7.3Z" fill="#e4e4e4"/><path d="M759.5,20L774.5,20L770,7.9L765,5.9Z" fill="#a4a4a4"/><path d="M717,0.2 C717,-9.8 719,-16.8 724,-17.5 L744,-17.9 C748,-9.8 748,10.2 744,16.8 L724,17 C719,16.2 717,10.2 717,0.2Z" fill="url(#gTh)"/><path d="M744,20L797,20V40H744Z" fill="#8c8c8c"/><path d="M720,13.7L744,14.7V40H720Z" fill="#000" fill-opacity="0.16"/><path d="M717,-10.7C725,-11.6 735,-11.6 746,-10.7M717,-5.4C725,-5.8 735,-5.8 746,-5.4M717,0.2C725,0.2 735,0.2 746,0.1M717,6.1C725,6.5 735,6.5 746,5.9M717,11.4C725,12.2 735,12.2 746,11.2M730.5,-18.3C728.3,-7.8 728.3,8.2 730.5,17.7M742.5,-18.3C740.3,-7.8 740.3,8.2 742.5,17.7M746,-22C749.5,-9.8 749.5,8.4 746,20.6M749.6,-22C753.1,-9.8 753.1,8.4 749.6,20.6M753.2,-22C756.7,-9.8 756.7,8.4 753.2,20.6M756.8,-22C760.3,-9.8 760.3,8.4 756.8,20.6M746,-0.7C753,0.1 762,-0.3 768,-0.7S786,-0.3 797,-0.7M746,-11.6C753,-10.4 760,-6.8 768,-3.4M746,-6.2C753,-5.5 760,-3.7 768,-2M746,4.8C753,4.2 760,2.4 768,0.7M746,10.3C753,9 760,5.4 768,2M774.5,-22C771.5,-12.8 768.5,-6.8 765,-4.2M774.5,20.6C771.5,11.5 768.5,5.4 765,2.9M776.9,-22C773.9,-12.8 769.9,-6.8 766.2,-4.2M776.9,20.6C773.9,11.5 769.9,5.4 766.2,2.9M779.3,-22C776.3,-12.8 771.4,-6.8 767.4,-4.2M779.3,20.6C776.3,11.5 771.4,5.4 767.4,2.9M759.5,-21.4L765,-7.3L770,-9.3M759.5,20L765,5.9L770,7.9M765,-7.3C763.5,-2.7 763.5,1.3 765,5.9M768,-4.7C767,-1.7 767,0.3 768,3.4M777.5,-22.4V21M781.5,-22.4V21M787,-22.4V21M773,-18.4C780,-16.5 789,-16.5 797,-16.5M773,16.6C780,14.7 789,14.7 797,14.7M745,20H797M745,-21.4H797" fill="none" stroke="#161616" stroke-width="0.9" stroke-opacity="0.72" /></g><path d="M717.2,0.2 C717.2,-7.8 718,-12.8 721.2,-15.1 C724,-17.1 731,-17.7 742,-17.9 L745,-19.8C750,-20.8 764,-21.4 771,-21.4 L791,-20.8 Q795.6,-20.6 795.7,-16.9 L795.8,18.6 Q795.6,22.3 791,22.6 L771,23.1C761,23.1 751,22.1 746,20.1 L743,16.8 C731,17.4 724,16.8 721.2,14.8 C718,12.7 717.2,8.2 717.2,0.2Z" fill="none" stroke="#444" stroke-opacity="0.4" stroke-width="0.8"/></g><g transform="translate(-0.5,594.5)"><clipPath id="cT16"><path d="M717.2,0.3 C717.2,-7.7 718,-12.7 721.2,-15 C724,-17 731,-17.6 742,-17.8 L745,-20C750,-21 764,-21.6 771,-21.6 L791,-21 Q795.6,-20.8 795.7,-17.1 L795.8,18.4 Q795.6,22.1 791,22.4 L771,22.9C761,22.9 751,21.9 746,19.9 L743,16.9 C731,17.5 724,16.9 721.2,14.9 C718,12.8 717.2,8.3 717.2,0.3Z"/></clipPath><path d="M717.2,0.3 C717.2,-7.7 718,-12.7 721.2,-15 C724,-17 731,-17.6 742,-17.8 L745,-20C750,-21 764,-21.6 771,-21.6 L791,-21 Q795.6,-20.8 795.7,-17.1 L795.8,18.4 Q795.6,22.1 791,22.4 L771,22.9C761,22.9 751,21.9 746,19.9 L743,16.9 C731,17.5 724,16.9 721.2,14.9 C718,12.8 717.2,8.3 717.2,0.3Z" fill="url(#gT)"/><g clip-path="url(#cT16)"><path d="M771,-30H797V30H771Z" fill="#d0d0d0"/><path d="M745,-22.2L773,-22.2L768,-3.7L768,2.5L773,21L745,21Z" fill="url(#gTn)"/><path d="M759.5,-21.6L774.5,-21.6L770,-9.4L765,-7.3Z" fill="#e4e4e4"/><path d="M759.5,20.4L774.5,20.4L770,8.1L765,6.1Z" fill="#a4a4a4"/><path d="M717,0.3 C717,-9.7 719,-16.7 724,-17.4 L744,-17.8 C748,-9.7 748,10.3 744,16.9 L724,17.1 C719,16.3 717,10.3 717,0.3Z" fill="url(#gTh)"/><path d="M744,20.4L797,20.4V40H744Z" fill="#8c8c8c"/><path d="M720,13.8L744,14.8V40H720Z" fill="#000" fill-opacity="0.16"/><path d="M717,-10.7C725,-11.5 735,-11.5 746,-10.7M717,-5.3C725,-5.7 735,-5.7 746,-5.4M717,0.3C725,0.3 735,0.3 746,0.2M717,6.2C725,6.6 735,6.6 746,5.9M717,11.5C725,12.3 735,12.3 746,11.2M730.5,-18.2C728.3,-7.7 728.3,8.3 730.5,17.8M742.5,-18.2C740.3,-7.7 740.3,8.3 742.5,17.8M746,-22.2C749.5,-9.9 749.5,8.7 746,21M749.6,-22.2C753.1,-9.9 753.1,8.7 749.6,21M753.2,-22.2C756.7,-9.9 756.7,8.7 753.2,21M756.8,-22.2C760.3,-9.9 760.3,8.7 756.8,21M746,-0.6C753,0.2 762,-0.2 768,-0.6S786,-0.2 797,-0.6M746,-11.7C753,-10.5 760,-6.8 768,-3.3M746,-6.2C753,-5.5 760,-3.7 768,-2M746,4.9C753,4.3 760,2.5 768,0.7M746,10.5C753,9.3 760,5.6 768,2.1M774.5,-22.2C771.5,-13 768.5,-6.8 765,-4.2M774.5,21C771.5,11.7 768.5,5.6 765,3M776.9,-22.2C773.9,-13 769.9,-6.8 766.2,-4.2M776.9,21C773.9,11.7 769.9,5.6 766.2,3M779.3,-22.2C776.3,-13 771.4,-6.8 767.4,-4.2M779.3,21C776.3,11.7 771.4,5.6 767.4,3M759.5,-21.6L765,-7.3L770,-9.4M759.5,20.4L765,6.1L770,8.1M765,-7.3C763.5,-2.7 763.5,1.4 765,6.1M768,-4.7C767,-1.6 767,0.4 768,3.5M777.5,-22.6V21.4M781.5,-22.6V21.4M787,-22.6V21.4M773,-18.6C780,-16.7 789,-16.7 797,-16.7M773,16.9C780,15 789,15 797,15M745,20.4H797M745,-21.6H797" fill="none" stroke="#161616" stroke-width="0.9" stroke-opacity="0.72" /></g><path d="M717.2,0.3 C717.2,-7.7 718,-12.7 721.2,-15 C724,-17 731,-17.6 742,-17.8 L745,-20C750,-21 764,-21.6 771,-21.6 L791,-21 Q795.6,-20.8 795.7,-17.1 L795.8,18.4 Q795.6,22.1 791,22.4 L771,22.9C761,22.9 751,21.9 746,19.9 L743,16.9 C731,17.5 724,16.9 721.2,14.9 C718,12.8 717.2,8.3 717.2,0.3Z" fill="none" stroke="#444" stroke-opacity="0.4" stroke-width="0.8"/></g><g transform="translate(-0.7,647.6)"><clipPath id="cT17"><path d="M717.2,0.4 C717.2,-7.6 718,-12.6 721.2,-14.9 C724,-16.9 731,-17.5 742,-17.7 L745,-20.2C750,-21.2 764,-21.9 771,-21.9 L791,-21.2 Q795.6,-21.1 795.7,-17.4 L795.8,18.1 Q795.6,21.8 791,22.1 L771,22.6C761,22.6 751,21.6 746,19.6 L743,17 C731,17.6 724,17 721.2,15 C718,12.9 717.2,8.4 717.2,0.4Z"/></clipPath><path d="M717.2,0.4 C717.2,-7.6 718,-12.6 721.2,-14.9 C724,-16.9 731,-17.5 742,-17.7 L745,-20.2C750,-21.2 764,-21.9 771,-21.9 L791,-21.2 Q795.6,-21.1 795.7,-17.4 L795.8,18.1 Q795.6,21.8 791,22.1 L771,22.6C761,22.6 751,21.6 746,19.6 L743,17 C731,17.6 724,17 721.2,15 C718,12.9 717.2,8.4 717.2,0.4Z" fill="url(#gT)"/><g clip-path="url(#cT17)"><path d="M771,-30H797V30H771Z" fill="#d0d0d0"/><path d="M745,-22.5L773,-22.5L768,-3.7L768,2.6L773,21.4L745,21.4Z" fill="url(#gTn)"/><path d="M759.5,-21.9L774.5,-21.9L770,-9.4L765,-7.3Z" fill="#e4e4e4"/><path d="M759.5,20.8L774.5,20.8L770,8.3L765,6.2Z" fill="#a4a4a4"/><path d="M717,0.4 C717,-9.6 719,-16.6 724,-17.3 L744,-17.7 C748,-9.6 748,10.4 744,17 L724,17.2 C719,16.4 717,10.4 717,0.4Z" fill="url(#gTh)"/><path d="M744,20.8L797,20.8V40H744Z" fill="#8c8c8c"/><path d="M720,13.9L744,14.9V40H720Z" fill="#000" fill-opacity="0.16"/><path d="M717,-10.6C725,-11.4 735,-11.4 746,-10.7M717,-5.2C725,-5.6 735,-5.6 746,-5.3M717,0.4C725,0.4 735,0.4 746,0.2M717,6.2C725,6.7 735,6.7 746,6M717,11.5C725,12.4 735,12.4 746,11.2M730.5,-18.1C728.3,-7.6 728.3,8.4 730.5,17.9M742.5,-18.1C740.3,-7.6 740.3,8.4 742.5,17.9M746,-22.5C749.5,-9.9 749.5,8.9 746,21.4M749.6,-22.5C753.1,-9.9 753.1,8.9 749.6,21.4M753.2,-22.5C756.7,-9.9 756.7,8.9 753.2,21.4M756.8,-22.5C760.3,-9.9 760.3,8.9 756.8,21.4M746,-0.5C753,0.3 762,-0.1 768,-0.5S786,-0.1 797,-0.5M746,-11.8C753,-10.6 760,-6.8 768,-3.3M746,-6.2C753,-5.6 760,-3.7 768,-1.9M746,5.1C753,4.5 760,2.6 768,0.8M746,10.7C753,9.5 760,5.7 768,2.2M774.5,-22.5C771.5,-13.1 768.5,-6.8 765,-4.2M774.5,21.4C771.5,12 768.5,5.7 765,3.1M776.9,-22.5C773.9,-13.1 769.9,-6.8 766.2,-4.2M776.9,21.4C773.9,12 769.9,5.7 766.2,3.1M779.3,-22.5C776.3,-13.1 771.4,-6.8 767.4,-4.2M779.3,21.4C776.3,12 771.4,5.7 767.4,3.1M759.5,-21.9L765,-7.3L770,-9.4M759.5,20.8L765,6.2L770,8.3M765,-7.3C763.5,-2.6 763.5,1.5 765,6.2M768,-4.7C767,-1.6 767,0.5 768,3.6M777.5,-22.9V21.8M781.5,-22.9V21.8M787,-22.9V21.8M773,-18.8C780,-16.8 789,-16.8 797,-16.8M773,17.2C780,15.3 789,15.3 797,15.3M745,20.8H797M745,-21.9H797" fill="none" stroke="#161616" stroke-width="0.9" stroke-opacity="0.72" /></g><path d="M717.2,0.4 C717.2,-7.6 718,-12.6 721.2,-14.9 C724,-16.9 731,-17.5 742,-17.7 L745,-20.2C750,-21.2 764,-21.9 771,-21.9 L791,-21.2 Q795.6,-21.1 795.7,-17.4 L795.8,18.1 Q795.6,21.8 791,22.1 L771,22.6C761,22.6 751,21.6 746,19.6 L743,17 C731,17.6 724,17 721.2,15 C718,12.9 717.2,8.4 717.2,0.4Z" fill="none" stroke="#444" stroke-opacity="0.4" stroke-width="0.8"/></g><g transform="translate(-0.9,700.7)"><clipPath id="cT18"><path d="M717.2,0.5 C717.2,-7.5 718,-12.5 721.2,-14.8 C724,-16.8 731,-17.4 742,-17.6 L745,-20.5C750,-21.5 764,-22.1 771,-22.1 L791,-21.5 Q795.6,-21.3 795.7,-17.6 L795.8,17.9 Q795.6,21.6 791,21.9 L771,22.4C761,22.4 751,21.4 746,19.4 L743,17.1 C731,17.7 724,17.1 721.2,15.1 C718,13 717.2,8.5 717.2,0.5Z"/></clipPath><path d="M717.2,0.5 C717.2,-7.5 718,-12.5 721.2,-14.8 C724,-16.8 731,-17.4 742,-17.6 L745,-20.5C750,-21.5 764,-22.1 771,-22.1 L791,-21.5 Q795.6,-21.3 795.7,-17.6 L795.8,17.9 Q795.6,21.6 791,21.9 L771,22.4C761,22.4 751,21.4 746,19.4 L743,17.1 C731,17.7 724,17.1 721.2,15.1 C718,13 717.2,8.5 717.2,0.5Z" fill="url(#gT)"/><g clip-path="url(#cT18)"><path d="M771,-30H797V30H771Z" fill="#d0d0d0"/><path d="M745,-22.7L773,-22.7L768,-3.7L768,2.7L773,21.8L745,21.8Z" fill="url(#gTn)"/><path d="M759.5,-22.1L774.5,-22.1L770,-9.5L765,-7.4Z" fill="#e4e4e4"/><path d="M759.5,21.2L774.5,21.2L770,8.5L765,6.4Z" fill="#a4a4a4"/><path d="M717,0.5 C717,-9.5 719,-16.5 724,-17.2 L744,-17.6 C748,-9.5 748,10.5 744,17.1 L724,17.3 C719,16.5 717,10.5 717,0.5Z" fill="url(#gTh)"/><path d="M744,21.2L797,21.2V40H744Z" fill="#8c8c8c"/><path d="M720,14L744,15V40H720Z" fill="#000" fill-opacity="0.16"/><path d="M717,-10.5C725,-11.3 735,-11.3 746,-10.6M717,-5.1C725,-5.5 735,-5.5 746,-5.3M717,0.5C725,0.5 735,0.5 746,0.2M717,6.3C725,6.8 735,6.8 746,6M717,11.6C725,12.5 735,12.5 746,11.3M730.5,-18C728.3,-7.5 728.3,8.5 730.5,18M742.5,-18C740.3,-7.5 740.3,8.5 742.5,18M746,-22.7C749.5,-10 749.5,9.1 746,21.8M749.6,-22.7C753.1,-10 753.1,9.1 749.6,21.8M753.2,-22.7C756.7,-10 756.7,9.1 753.2,21.8M756.8,-22.7C760.3,-10 760.3,9.1 756.8,21.8M746,-0.5C753,0.4 762,-0 768,-0.5S786,-0 797,-0.5M746,-11.9C753,-10.6 760,-6.8 768,-3.3M746,-6.2C753,-5.6 760,-3.7 768,-1.9M746,5.3C753,4.6 760,2.7 768,0.9M746,11C753,9.7 760,5.9 768,2.3M774.5,-22.7C771.5,-13.2 768.5,-6.8 765,-4.2M774.5,21.8C771.5,12.3 768.5,5.9 765,3.2M776.9,-22.7C773.9,-13.2 769.9,-6.8 766.2,-4.2M776.9,21.8C773.9,12.3 769.9,5.9 766.2,3.2M779.3,-22.7C776.3,-13.2 771.4,-6.8 767.4,-4.2M779.3,21.8C776.3,12.3 771.4,5.9 767.4,3.2M759.5,-22.1L765,-7.4L770,-9.5M759.5,21.2L765,6.4L770,8.5M765,-7.4C763.5,-2.6 763.5,1.7 765,6.4M768,-4.7C767,-1.5 767,0.6 768,3.8M777.5,-23.1V22.2M781.5,-23.1V22.2M787,-23.1V22.2M773,-19C780,-17 789,-17 797,-17M773,17.6C780,15.6 789,15.6 797,15.6M745,21.2H797M745,-22.1H797" fill="none" stroke="#161616" stroke-width="0.9" stroke-opacity="0.72" /></g><path d="M717.2,0.5 C717.2,-7.5 718,-12.5 721.2,-14.8 C724,-16.8 731,-17.4 742,-17.6 L745,-20.5C750,-21.5 764,-22.1 771,-22.1 L791,-21.5 Q795.6,-21.3 795.7,-17.6 L795.8,17.9 Q795.6,21.6 791,21.9 L771,22.4C761,22.4 751,21.4 746,19.4 L743,17.1 C731,17.7 724,17.1 721.2,15.1 C718,13 717.2,8.5 717.2,0.5Z" fill="none" stroke="#444" stroke-opacity="0.4" stroke-width="0.8"/></g><g transform="translate(-1.1,753.8)"><clipPath id="cT19"><path d="M717.2,0.5 C717.2,-7.5 718,-12.5 721.2,-14.8 C724,-16.8 731,-17.4 742,-17.6 L745,-20.8C750,-21.8 764,-22.4 771,-22.4 L791,-21.8 Q795.6,-21.6 795.7,-17.9 L795.8,17.7 Q795.6,21.4 791,21.7 L771,22.2C761,22.2 751,21.2 746,19.2 L743,17.1 C731,17.7 724,17.1 721.2,15.1 C718,13 717.2,8.5 717.2,0.5Z"/></clipPath><path d="M717.2,0.5 C717.2,-7.5 718,-12.5 721.2,-14.8 C724,-16.8 731,-17.4 742,-17.6 L745,-20.8C750,-21.8 764,-22.4 771,-22.4 L791,-21.8 Q795.6,-21.6 795.7,-17.9 L795.8,17.7 Q795.6,21.4 791,21.7 L771,22.2C761,22.2 751,21.2 746,19.2 L743,17.1 C731,17.7 724,17.1 721.2,15.1 C718,13 717.2,8.5 717.2,0.5Z" fill="url(#gT)"/><g clip-path="url(#cT19)"><path d="M771,-30H797V30H771Z" fill="#d0d0d0"/><path d="M745,-23L773,-23L768,-3.6L768,2.8L773,22.2L745,22.2Z" fill="url(#gTn)"/><path d="M759.5,-22.4L774.5,-22.4L770,-9.5L765,-7.4Z" fill="#e4e4e4"/><path d="M759.5,21.5L774.5,21.5L770,8.7L765,6.6Z" fill="#a4a4a4"/><path d="M717,0.5 C717,-9.5 719,-16.5 724,-17.2 L744,-17.6 C748,-9.5 748,10.5 744,17.1 L724,17.3 C719,16.5 717,10.5 717,0.5Z" fill="url(#gTh)"/><path d="M744,21.5L797,21.5V40H744Z" fill="#8c8c8c"/><path d="M720,14L744,15V40H720Z" fill="#000" fill-opacity="0.16"/><path d="M717,-10.4C725,-11.3 735,-11.3 746,-10.6M717,-5.1C725,-5.5 735,-5.5 746,-5.3M717,0.5C725,0.5 735,0.5 746,0.3M717,6.4C725,6.8 735,6.8 746,6.1M717,11.7C725,12.5 735,12.5 746,11.3M730.5,-18C728.3,-7.5 728.3,8.5 730.5,18M742.5,-18C740.3,-7.5 740.3,8.5 742.5,18M746,-23C749.5,-10.1 749.5,9.3 746,22.2M749.6,-23C753.1,-10.1 753.1,9.3 749.6,22.2M753.2,-23C756.7,-10.1 756.7,9.3 753.2,22.2M756.8,-23C760.3,-10.1 760.3,9.3 756.8,22.2M746,-0.4C753,0.5 762,0 768,-0.4S786,0 797,-0.4M746,-12C753,-10.7 760,-6.9 768,-3.2M746,-6.2C753,-5.6 760,-3.6 768,-1.8M746,5.4C753,4.8 760,2.8 768,1M746,11.2C753,9.9 760,6.1 768,2.4M774.5,-23C771.5,-13.3 768.5,-6.9 765,-4.2M774.5,22.2C771.5,12.5 768.5,6.1 765,3.4M776.9,-23C773.9,-13.3 769.9,-6.9 766.2,-4.2M776.9,22.2C773.9,12.5 769.9,6.1 766.2,3.4M779.3,-23C776.3,-13.3 771.4,-6.9 767.4,-4.2M779.3,22.2C776.3,12.5 771.4,6.1 767.4,3.4M759.5,-22.4L765,-7.4L770,-9.5M759.5,21.5L765,6.6L770,8.7M765,-7.4C763.5,-2.6 763.5,1.8 765,6.6M768,-4.7C767,-1.5 767,0.7 768,3.9M777.5,-23.4V22.5M781.5,-23.4V22.5M787,-23.4V22.5M773,-19.2C780,-17.2 789,-17.2 797,-17.2M773,17.9C780,16 789,16 797,16M745,21.5H797M745,-22.4H797" fill="none" stroke="#161616" stroke-width="0.9" stroke-opacity="0.72" /></g><path d="M717.2,0.5 C717.2,-7.5 718,-12.5 721.2,-14.8 C724,-16.8 731,-17.4 742,-17.6 L745,-20.8C750,-21.8 764,-22.4 771,-22.4 L791,-21.8 Q795.6,-21.6 795.7,-17.9 L795.8,17.7 Q795.6,21.4 791,21.7 L771,22.2C761,22.2 751,21.2 746,19.2 L743,17.1 C731,17.7 724,17.1 721.2,15.1 C718,13 717.2,8.5 717.2,0.5Z" fill="none" stroke="#444" stroke-opacity="0.4" stroke-width="0.8"/></g><g transform="translate(-1.2,806.9)"><clipPath id="cT20"><path d="M717.2,0.6 C717.2,-7.4 718,-12.4 721.2,-14.7 C724,-16.7 731,-17.3 742,-17.5 L745,-21C750,-22 764,-22.6 771,-22.6 L791,-22 Q795.6,-21.8 795.7,-18.1 L795.8,17.4 Q795.6,21.1 791,21.4 L771,21.9C761,21.9 751,20.9 746,18.9 L743,17.2 C731,17.8 724,17.2 721.2,15.2 C718,13.1 717.2,8.6 717.2,0.6Z"/></clipPath><path d="M717.2,0.6 C717.2,-7.4 718,-12.4 721.2,-14.7 C724,-16.7 731,-17.3 742,-17.5 L745,-21C750,-22 764,-22.6 771,-22.6 L791,-22 Q795.6,-21.8 795.7,-18.1 L795.8,17.4 Q795.6,21.1 791,21.4 L771,21.9C761,21.9 751,20.9 746,18.9 L743,17.2 C731,17.8 724,17.2 721.2,15.2 C718,13.1 717.2,8.6 717.2,0.6Z" fill="url(#gT)"/><g clip-path="url(#cT20)"><path d="M771,-30H797V30H771Z" fill="#d0d0d0"/><path d="M745,-23.3L773,-23.3L768,-3.6L768,2.9L773,22.6L745,22.6Z" fill="url(#gTn)"/><path d="M759.5,-22.6L774.5,-22.6L770,-9.6L765,-7.4Z" fill="#e4e4e4"/><path d="M759.5,21.9L774.5,21.9L770,8.9L765,6.8Z" fill="#a4a4a4"/><path d="M717,0.6 C717,-9.4 719,-16.4 724,-17.1 L744,-17.5 C748,-9.4 748,10.6 744,17.2 L724,17.4 C719,16.6 717,10.6 717,0.6Z" fill="url(#gTh)"/><path d="M717,-10.4C725,-11.2 735,-11.2 746,-10.6M717,-5C725,-5.4 735,-5.4 746,-5.2M717,0.6C725,0.6 735,0.6 746,0.3M717,6.5C725,6.9 735,6.9 746,6.1M717,11.8C725,12.6 735,12.6 746,11.3M730.5,-17.9C728.3,-7.4 728.3,8.6 730.5,18.1M742.5,-17.9C740.3,-7.4 740.3,8.6 742.5,18.1M746,-23.3C749.5,-10.2 749.5,9.5 746,22.6M749.6,-23.3C753.1,-10.2 753.1,9.5 749.6,22.6M753.2,-23.3C756.7,-10.2 756.7,9.5 753.2,22.6M756.8,-23.3C760.3,-10.2 760.3,9.5 756.8,22.6M746,-0.3C753,0.5 762,0.1 768,-0.3S786,0.1 797,-0.3M746,-12.1C753,-10.8 760,-6.9 768,-3.2M746,-6.2C753,-5.6 760,-3.6 768,-1.8M746,5.6C753,4.9 760,2.9 768,1.1M746,11.5C753,10.2 760,6.2 768,2.6M774.5,-23.3C771.5,-13.4 768.5,-6.9 765,-4.2M774.5,22.6C771.5,12.8 768.5,6.2 765,3.5M776.9,-23.3C773.9,-13.4 769.9,-6.9 766.2,-4.2M776.9,22.6C773.9,12.8 769.9,6.2 766.2,3.5M779.3,-23.3C776.3,-13.4 771.4,-6.9 767.4,-4.2M779.3,22.6C776.3,12.8 771.4,6.2 767.4,3.5M759.5,-22.6L765,-7.4L770,-9.6M759.5,21.9L765,6.8L770,8.9M765,-7.4C763.5,-2.5 763.5,1.9 765,6.8M768,-4.7C767,-1.4 767,0.8 768,4M777.5,-23.6V22.9M781.5,-23.6V22.9M787,-23.6V22.9M773,-19.4C780,-17.4 789,-17.4 797,-17.4M773,18.3C780,16.3 789,16.3 797,16.3M745,21.9H797M745,-22.6H797" fill="none" stroke="#161616" stroke-width="0.9" stroke-opacity="0.72" /></g><path d="M717.2,0.6 C717.2,-7.4 718,-12.4 721.2,-14.7 C724,-16.7 731,-17.3 742,-17.5 L745,-21C750,-22 764,-22.6 771,-22.6 L791,-22 Q795.6,-21.8 795.7,-18.1 L795.8,17.4 Q795.6,21.1 791,21.4 L771,21.9C761,21.9 751,20.9 746,18.9 L743,17.2 C731,17.8 724,17.2 721.2,15.2 C718,13.1 717.2,8.6 717.2,0.6Z" fill="none" stroke="#444" stroke-opacity="0.4" stroke-width="0.8"/></g><g transform="translate(-1.4,860.1)"><clipPath id="cT21"><path d="M717.2,0.7 C717.2,-7.3 718,-12.3 721.2,-14.6 C724,-16.6 731,-17.2 742,-17.4 L745,-21.2C750,-22.2 764,-22.9 771,-22.9 L791,-22.2 Q795.6,-22.1 795.7,-18.4 L795.8,17.2 Q795.6,20.9 791,21.2 L771,21.7C761,21.7 751,20.7 746,18.7 L743,17.3 C731,17.9 724,17.3 721.2,15.3 C718,13.2 717.2,8.7 717.2,0.7Z"/></clipPath><path d="M717.2,0.7 C717.2,-7.3 718,-12.3 721.2,-14.6 C724,-16.6 731,-17.2 742,-17.4 L745,-21.2C750,-22.2 764,-22.9 771,-22.9 L791,-22.2 Q795.6,-22.1 795.7,-18.4 L795.8,17.2 Q795.6,20.9 791,21.2 L771,21.7C761,21.7 751,20.7 746,18.7 L743,17.3 C731,17.9 724,17.3 721.2,15.3 C718,13.2 717.2,8.7 717.2,0.7Z" fill="url(#gT)"/><g clip-path="url(#cT21)"><path d="M771,-30H797V30H771Z" fill="#d0d0d0"/><path d="M745,-22.6L773,-22.6L768,-3.3L768,3.1L773,22.4L745,22.4Z" fill="url(#gTn)"/><path d="M759.5,-22L774.5,-22L770,-9.2L765,-7.1Z" fill="#e4e4e4"/><path d="M759.5,21.7L774.5,21.7L770,9L765,6.8Z" fill="#a4a4a4"/><path d="M717,0.7 C717,-9.3 719,-16.3 724,-17 L744,-17.4 C748,-9.3 748,10.7 744,17.3 L724,17.5 C719,16.7 717,10.7 717,0.7Z" fill="url(#gTh)"/><path d="M744,-22L797,-22V-40H744Z" fill="#929292"/><path d="M717,-10.3C725,-11.1 735,-11.1 746,-10.5M717,-4.9C725,-5.3 735,-5.3 746,-5.2M717,0.7C725,0.7 735,0.7 746,0.4M717,6.6C725,7 735,7 746,6.2M717,11.9C725,12.7 735,12.7 746,11.4M730.5,-17.8C728.3,-7.3 728.3,8.7 730.5,18.2M742.5,-17.8C740.3,-7.3 740.3,8.7 742.5,18.2M746,-22.6C749.5,-9.8 749.5,9.5 746,22.4M749.6,-22.6C753.1,-9.8 753.1,9.5 749.6,22.4M753.2,-22.6C756.7,-9.8 756.7,9.5 753.2,22.4M756.8,-22.6C760.3,-9.8 760.3,9.5 756.8,22.4M746,-0.1C753,0.7 762,0.3 768,-0.1S786,0.3 797,-0.1M746,-11.7C753,-10.4 760,-6.5 768,-2.9M746,-5.9C753,-5.3 760,-3.3 768,-1.5M746,5.7C753,5 760,3.1 768,1.3M746,11.4C753,10.2 760,6.3 768,2.7M774.5,-22.6C771.5,-13 768.5,-6.5 765,-3.9M774.5,22.4C771.5,12.7 768.5,6.3 765,3.6M776.9,-22.6C773.9,-13 769.9,-6.5 766.2,-3.9M776.9,22.4C773.9,12.7 769.9,6.3 766.2,3.6M779.3,-22.6C776.3,-13 771.4,-6.5 767.4,-3.9M779.3,22.4C776.3,12.7 771.4,6.3 767.4,3.6M759.5,-22L765,-7.1L770,-9.2M759.5,21.7L765,6.8L770,9M765,-7.1C763.5,-2.3 763.5,2 765,6.8M768,-4.4C767,-1.2 767,1 768,4.2M777.5,-23V22.7M781.5,-23V22.7M787,-23V22.7M773,-18.8C780,-16.8 789,-16.8 797,-16.8M773,18.1C780,16.1 789,16.1 797,16.1M745,21.7H797M745,-22H797" fill="none" stroke="#161616" stroke-width="0.9" stroke-opacity="0.72" /></g><path d="M717.2,0.7 C717.2,-7.3 718,-12.3 721.2,-14.6 C724,-16.6 731,-17.2 742,-17.4 L745,-21.2C750,-22.2 764,-22.9 771,-22.9 L791,-22.2 Q795.6,-22.1 795.7,-18.4 L795.8,17.2 Q795.6,20.9 791,21.2 L771,21.7C761,21.7 751,20.7 746,18.7 L743,17.3 C731,17.9 724,17.3 721.2,15.3 C718,13.2 717.2,8.7 717.2,0.7Z" fill="none" stroke="#444" stroke-opacity="0.4" stroke-width="0.8"/></g><g transform="translate(-1.6,913.2)"><clipPath id="cT22"><path d="M717.2,0.8 C717.2,-7.2 718,-12.2 721.2,-14.5 C724,-16.5 731,-17.1 742,-17.3 L745,-21.5C750,-22.5 764,-23.1 771,-23.1 L791,-22.5 Q795.6,-22.3 795.7,-18.6 L795.8,17 Q795.6,20.7 791,21 L771,21.5C761,21.5 751,20.5 746,18.5 L743,17.4 C731,18 724,17.4 721.2,15.4 C718,13.3 717.2,8.8 717.2,0.8Z"/></clipPath><path d="M717.2,0.8 C717.2,-7.2 718,-12.2 721.2,-14.5 C724,-16.5 731,-17.1 742,-17.3 L745,-21.5C750,-22.5 764,-23.1 771,-23.1 L791,-22.5 Q795.6,-22.3 795.7,-18.6 L795.8,17 Q795.6,20.7 791,21 L771,21.5C761,21.5 751,20.5 746,18.5 L743,17.4 C731,18 724,17.4 721.2,15.4 C718,13.3 717.2,8.8 717.2,0.8Z" fill="url(#gT)"/><g clip-path="url(#cT22)"><path d="M771,-30H797V30H771Z" fill="#d0d0d0"/><path d="M745,-21.9L773,-21.9L768,-3.1L768,3.2L773,22.1L745,22.1Z" fill="url(#gTn)"/><path d="M759.5,-21.3L774.5,-21.3L770,-8.8L765,-6.7Z" fill="#e4e4e4"/><path d="M759.5,21.5L774.5,21.5L770,9L765,6.9Z" fill="#a4a4a4"/><path d="M717,0.8 C717,-9.2 719,-16.2 724,-16.9 L744,-17.3 C748,-9.2 748,10.8 744,17.4 L724,17.6 C719,16.8 717,10.8 717,0.8Z" fill="url(#gTh)"/><path d="M744,-21.3L797,-21.3V-40H744Z" fill="#929292"/><path d="M717,-10.2C725,-11 735,-11 746,-10.4M717,-4.8C725,-5.2 735,-5.2 746,-5.1M717,0.8C725,0.8 735,0.8 746,0.4M717,6.7C725,7.1 735,7.1 746,6.2M717,12C725,12.8 735,12.8 746,11.4M730.5,-17.7C728.3,-7.2 728.3,8.8 730.5,18.3M742.5,-17.7C740.3,-7.2 740.3,8.8 742.5,18.3M746,-21.9C749.5,-9.3 749.5,9.5 746,22.1M749.6,-21.9C753.1,-9.3 753.1,9.5 749.6,22.1M753.2,-21.9C756.7,-9.3 756.7,9.5 753.2,22.1M756.8,-21.9C760.3,-9.3 760.3,9.5 756.8,22.1M746,0.1C753,0.9 762,0.5 768,0.1S786,0.5 797,0.1M746,-11.2C753,-10 760,-6.2 768,-2.7M746,-5.6C753,-4.9 760,-3.1 768,-1.3M746,5.8C753,5.1 760,3.2 768,1.5M746,11.4C753,10.2 760,6.4 768,2.9M774.5,-21.9C771.5,-12.5 768.5,-6.2 765,-3.6M774.5,22.1C771.5,12.7 768.5,6.4 765,3.8M776.9,-21.9C773.9,-12.5 769.9,-6.2 766.2,-3.6M776.9,22.1C773.9,12.7 769.9,6.4 766.2,3.8M779.3,-21.9C776.3,-12.5 771.4,-6.2 767.4,-3.6M779.3,22.1C776.3,12.7 771.4,6.4 767.4,3.8M759.5,-21.3L765,-6.7L770,-8.8M759.5,21.5L765,6.9L770,9M765,-6.7C763.5,-2 763.5,2.2 765,6.9M768,-4.1C767,-1 767,1.1 768,4.3M777.5,-22.3V22.5M781.5,-22.3V22.5M787,-22.3V22.5M773,-18.2C780,-16.3 789,-16.3 797,-16.3M773,17.9C780,16 789,16 797,16M745,21.5H797M745,-21.3H797" fill="none" stroke="#161616" stroke-width="0.9" stroke-opacity="0.72" /></g><path d="M717.2,0.8 C717.2,-7.2 718,-12.2 721.2,-14.5 C724,-16.5 731,-17.1 742,-17.3 L745,-21.5C750,-22.5 764,-23.1 771,-23.1 L791,-22.5 Q795.6,-22.3 795.7,-18.6 L795.8,17 Q795.6,20.7 791,21 L771,21.5C761,21.5 751,20.5 746,18.5 L743,17.4 C731,18 724,17.4 721.2,15.4 C718,13.3 717.2,8.8 717.2,0.8Z" fill="none" stroke="#444" stroke-opacity="0.4" stroke-width="0.8"/></g><g transform="translate(-1.8,966.3)"><clipPath id="cT23"><path d="M717.2,0.9 C717.2,-7.1 718,-12.1 721.2,-14.4 C724,-16.4 731,-17 742,-17.2 L745,-21.8C750,-22.8 764,-23.4 771,-23.4 L791,-22.8 Q795.6,-22.6 795.7,-18.9 L795.8,16.8 Q795.6,20.4 791,20.8 L771,21.2C761,21.2 751,20.2 746,18.2 L743,17.5 C731,18.1 724,17.5 721.2,15.5 C718,13.4 717.2,8.9 717.2,0.9Z"/></clipPath><path d="M717.2,0.9 C717.2,-7.1 718,-12.1 721.2,-14.4 C724,-16.4 731,-17 742,-17.2 L745,-21.8C750,-22.8 764,-23.4 771,-23.4 L791,-22.8 Q795.6,-22.6 795.7,-18.9 L795.8,16.8 Q795.6,20.4 791,20.8 L771,21.2C761,21.2 751,20.2 746,18.2 L743,17.5 C731,18.1 724,17.5 721.2,15.5 C718,13.4 717.2,8.9 717.2,0.9Z" fill="url(#gT)"/><g clip-path="url(#cT23)"><path d="M771,-30H797V30H771Z" fill="#d0d0d0"/><path d="M745,-21.3L773,-21.3L768,-2.8L768,3.4L773,21.9L745,21.9Z" fill="url(#gTn)"/><path d="M759.5,-20.7L774.5,-20.7L770,-8.4L765,-6.4Z" fill="#e4e4e4"/><path d="M759.5,21.2L774.5,21.2L770,9L765,7Z" fill="#a4a4a4"/><path d="M717,0.9 C717,-9.1 719,-16.1 724,-16.8 L744,-17.2 C748,-9.1 748,10.9 744,17.5 L724,17.7 C719,16.9 717,10.9 717,0.9Z" fill="url(#gTh)"/><path d="M744,-20.7L797,-20.7V-40H744Z" fill="#929292"/><path d="M717,-10.1C725,-10.9 735,-10.9 746,-10.4M717,-4.7C725,-5.1 735,-5.1 746,-5.1M717,0.9C725,0.9 735,0.9 746,0.5M717,6.8C725,7.2 735,7.2 746,6.3M717,12.1C725,12.9 735,12.9 746,11.5M730.5,-17.6C728.3,-7.1 728.3,8.9 730.5,18.4M742.5,-17.6C740.3,-7.1 740.3,8.9 742.5,18.4M746,-21.3C749.5,-8.9 749.5,9.5 746,21.9M749.6,-21.3C753.1,-8.9 753.1,9.5 749.6,21.9M753.2,-21.3C756.7,-8.9 756.7,9.5 753.2,21.9M756.8,-21.3C760.3,-8.9 760.3,9.5 756.8,21.9M746,0.3C753,1.1 762,0.7 768,0.3S786,0.7 797,0.3M746,-10.8C753,-9.6 760,-5.9 768,-2.4M746,-5.2C753,-4.6 760,-2.8 768,-1.1M746,5.8C753,5.2 760,3.4 768,1.7M746,11.4C753,10.2 760,6.5 768,3M774.5,-21.3C771.5,-12 768.5,-5.9 765,-3.3M774.5,21.9C771.5,12.6 768.5,6.5 765,3.9M776.9,-21.3C773.9,-12 769.9,-5.9 766.2,-3.3M776.9,21.9C773.9,12.6 769.9,6.5 766.2,3.9M779.3,-21.3C776.3,-12 771.4,-5.9 767.4,-3.3M779.3,21.9C776.3,12.6 771.4,6.5 767.4,3.9M759.5,-20.7L765,-6.4L770,-8.4M759.5,21.2L765,7L770,9M765,-6.4C763.5,-1.8 763.5,2.4 765,7M768,-3.8C767,-0.7 767,1.3 768,4.4M777.5,-21.7V22.2M781.5,-21.7V22.2M787,-21.7V22.2M773,-17.6C780,-15.7 789,-15.7 797,-15.7M773,17.8C780,15.9 789,15.9 797,15.9M745,21.2H797M745,-20.7H797" fill="none" stroke="#161616" stroke-width="0.9" stroke-opacity="0.72" /></g><path d="M717.2,0.9 C717.2,-7.1 718,-12.1 721.2,-14.4 C724,-16.4 731,-17 742,-17.2 L745,-21.8C750,-22.8 764,-23.4 771,-23.4 L791,-22.8 Q795.6,-22.6 795.7,-18.9 L795.8,16.8 Q795.6,20.4 791,20.8 L771,21.2C761,21.2 751,20.2 746,18.2 L743,17.5 C731,18.1 724,17.5 721.2,15.5 C718,13.4 717.2,8.9 717.2,0.9Z" fill="none" stroke="#444" stroke-opacity="0.4" stroke-width="0.8"/></g><g transform="translate(-2,1019.4)"><clipPath id="cT24"><path d="M717.2,1 C717.2,-7 718,-12 721.2,-14.3 C724,-16.3 731,-16.9 742,-17.1 L745,-22C750,-23 764,-23.6 771,-23.6 L791,-23 Q795.6,-22.8 795.7,-19.1 L795.8,16.5 Q795.6,20.2 791,20.5 L771,21C761,21 751,20 746,18 L743,17.6 C731,18.2 724,17.6 721.2,15.6 C718,13.5 717.2,9 717.2,1Z"/></clipPath><path d="M717.2,1 C717.2,-7 718,-12 721.2,-14.3 C724,-16.3 731,-16.9 742,-17.1 L745,-22C750,-23 764,-23.6 771,-23.6 L791,-23 Q795.6,-22.8 795.7,-19.1 L795.8,16.5 Q795.6,20.2 791,20.5 L771,21C761,21 751,20 746,18 L743,17.6 C731,18.2 724,17.6 721.2,15.6 C718,13.5 717.2,9 717.2,1Z" fill="url(#gT)"/><g clip-path="url(#cT24)"><path d="M771,-30H797V30H771Z" fill="#d0d0d0"/><path d="M745,-20.6L773,-20.6L768,-2.5L768,3.5L773,21.6L745,21.6Z" fill="url(#gTn)"/><path d="M759.5,-20L774.5,-20L770,-8L765,-6Z" fill="#e4e4e4"/><path d="M759.5,21L774.5,21L770,9.1L765,7Z" fill="#a4a4a4"/><path d="M717,1 C717,-9 719,-16 724,-16.7 L744,-17.1 C748,-9 748,11 744,17.6 L724,17.8 C719,17 717,11 717,1Z" fill="url(#gTh)"/><path d="M744,-20L797,-20V-40H744Z" fill="#929292"/><path d="M717,-9.9C725,-10.8 735,-10.8 746,-10.3M717,-4.5C725,-5 735,-5 746,-5M717,1C725,1 735,1 746,0.5M717,6.9C725,7.3 735,7.3 746,6.3M717,12.2C725,13 735,13 746,11.6M730.5,-17.5C728.3,-7 728.3,9 730.5,18.5M742.5,-17.5C740.3,-7 740.3,9 742.5,18.5M746,-20.6C749.5,-8.5 749.5,9.6 746,21.6M749.6,-20.6C753.1,-8.5 753.1,9.6 749.6,21.6M753.2,-20.6C756.7,-8.5 756.7,9.6 753.2,21.6M756.8,-20.6C760.3,-8.5 760.3,9.6 756.8,21.6M746,0.5C753,1.3 762,0.9 768,0.5S786,0.9 797,0.5M746,-10.3C753,-9.1 760,-5.5 768,-2.1M746,-4.9C753,-4.3 760,-2.5 768,-0.8M746,5.9C753,5.3 760,3.5 768,1.8M746,11.4C753,10.2 760,6.5 768,3.2M774.5,-20.6C771.5,-11.6 768.5,-5.5 765,-3M774.5,21.6C771.5,12.6 768.5,6.5 765,4M776.9,-20.6C773.9,-11.6 769.9,-5.5 766.2,-3M776.9,21.6C773.9,12.6 769.9,6.5 766.2,4M779.3,-20.6C776.3,-11.6 771.4,-5.5 767.4,-3M779.3,21.6C776.3,12.6 771.4,6.5 767.4,4M759.5,-20L765,-6L770,-8M759.5,21L765,7L770,9.1M765,-6C763.5,-1.5 763.5,2.5 765,7M768,-3.5C767,-0.5 767,1.5 768,4.5M777.5,-21V22M781.5,-21V22M787,-21V22M773,-17.1C780,-15.2 789,-15.2 797,-15.2M773,17.6C780,15.8 789,15.8 797,15.8M745,21H797M745,-20H797" fill="none" stroke="#161616" stroke-width="0.9" stroke-opacity="0.72" /></g><path d="M717.2,1 C717.2,-7 718,-12 721.2,-14.3 C724,-16.3 731,-16.9 742,-17.1 L745,-22C750,-23 764,-23.6 771,-23.6 L791,-23 Q795.6,-22.8 795.7,-19.1 L795.8,16.5 Q795.6,20.2 791,20.5 L771,21C761,21 751,20 746,18 L743,17.6 C731,18.2 724,17.6 721.2,15.6 C718,13.5 717.2,9 717.2,1Z" fill="none" stroke="#444" stroke-opacity="0.4" stroke-width="0.8"/></g>
</g>
<g id="level1">
<g><clipPath id="cA25"><path d="M1068.2,214.1C1068.2,206 1074,201.9 1088.2,199.4L1110.7,196.2C1117.3,195.4 1122.5,197.9 1127.6,203.4L1135.8,212Q1137.1,213 1143.1,213L1150,213.3Q1154.3,213.5 1154.3,218.8L1153.9,236.5Q1153.4,241.3 1152,244.1Q1153.9,247 1154.2,251.8L1154.2,275.8Q1154.2,281.1 1150,281.6L1126.8,282.8L1085.7,280.6Q1079.4,280.1 1079.4,275.8L1080,232.6Q1079.4,229.8 1075.4,227.4C1070.4,224.6 1068.2,220.4 1068.2,214.1Z"/></clipPath><path d="M1068.2,214.1C1068.2,206 1074,201.9 1088.2,199.4L1110.7,196.2C1117.3,195.4 1122.5,197.9 1127.6,203.4L1135.8,212Q1137.1,213 1143.1,213L1150,213.3Q1154.3,213.5 1154.3,218.8L1153.9,236.5Q1153.4,241.3 1152,244.1Q1153.9,247 1154.2,251.8L1154.2,275.8Q1154.2,281.1 1150,281.6L1126.8,282.8L1085.7,280.6Q1079.4,280.1 1079.4,275.8L1080,232.6Q1079.4,229.8 1075.4,227.4C1070.4,224.6 1068.2,220.4 1068.2,214.1Z" fill="url(#gA)"/><g clip-path="url(#cA25)"><path d="M1112.6,228.8L1154.3,218.3L1154.3,284.4L1112.6,284.4Z" fill="#000" fill-opacity="0.08"/><path d="M1067.8,218.3C1072.2,228.8 1081.9,232.6 1112,232.6L1112,224.6L1067.8,214.1Z" fill="#000" fill-opacity="0.12"/><path d="M1068.6,209C1074,201.9 1088.2,199.4 1110.7,196.2C1119,195.9 1124.2,199.9 1129.4,205.5L1112,210L1070.4,215.1Z" fill="#fff" fill-opacity="0.22"/><path d="M1079.4,276.3L1112.6,278.2L1154.3,275.8L1154.3,284.4L1079.4,284.4Z" fill="#000" fill-opacity="0.34"/><path d="M1079.4,231L1112.6,232.3L1154.3,231.2M1079.4,234L1112.6,235.2L1154.3,234.2M1079.4,236.9L1112.6,238.1L1154.3,237M1079.4,239.7L1112.6,241.1L1154.3,239.9M1079.4,242.7L1112.6,244L1154.3,242.9M1079.4,246.6L1112.6,247.9L1154.3,246.8M1079.4,250.6L1112.6,251.8L1154.3,250.8M1079.4,253.5L1112.6,254.8L1154.3,253.6M1079.4,256.4L1112.6,257.7L1154.3,256.6M1079.4,259.3L1112.6,260.5L1154.3,259.5M1079.4,262.3L1112.6,263.5L1154.3,262.5M1079.4,265.2L1112.6,266.4L1154.3,265.3M1079.4,268.1L1112.6,269.4L1154.3,268.3M1079.4,271.1L1112.6,272.3L1154.3,271.2M1079.4,274L1112.6,275.2L1154.3,274.2M1079.4,278.2L1112.6,280.4L1154.3,278M1079.4,230.7L1079.4,283M1086.4,230.7L1086.4,283M1093.4,230.7L1093.4,283M1100.8,230.7L1100.8,283M1108.1,230.7L1108.1,283M1110.7,230.7L1110.7,283M1113.9,200.9L1113.9,283M1118.7,200.9L1118.7,283M1123.5,200.9L1123.5,283M1126.9,200.9L1126.9,283M1130.1,200.9L1130.1,283M1133,200.9L1133,283M1135.8,200.9L1135.8,283M1140.4,213L1140.4,283M1145,213L1145,283M1149.7,213L1149.7,283M1154.3,213L1154.3,283M1112,200.4C1118.2,199.9 1123.3,203.4 1127.6,208.3L1135.8,216.1L1154.3,217.1M1112,202.7C1118.2,202.1 1123.3,205.8 1127.6,210.4L1135.8,217.8L1154.3,218.9M1112,205C1118.2,204.4 1123.3,208 1127.6,212.6L1135.8,219.5L1154.3,220.6M1112,207.2C1118.2,206.8 1123.3,210.2 1127.6,214.8L1135.8,221.3L1154.3,222.4M1112,209.5C1118.2,209 1123.3,212.5 1127.6,217L1135.8,223.1L1154.3,224.2M1112,211.8C1118.2,211.2 1123.3,214.9 1127.6,219.3L1135.8,224.9L1154.3,226M1112,214.1C1118.2,213.5 1123.3,217.2 1127.6,221.5L1135.8,226.7L1154.3,227.7M1070.9,207C1076.7,207.3 1088.2,205.2 1113,205.7M1070.4,208.8C1076.7,209.1 1088.2,207.4 1113,207.9M1070,210.5C1076.7,210.8 1088.2,209.4 1113,209.9M1069.5,212.2C1076.7,212.5 1088.2,211.5 1113,212M1069,214.2C1076.7,214.5 1088.2,213.8 1113,214.4M1069.2,216.2C1076.7,216.5 1088.2,216.3 1113,216.8M1069.7,218.1C1076.7,218.4 1088.2,218.6 1113,219.1M1070.2,220C1076.7,220.3 1088.2,221 1113,221.5M1070.7,222C1076.7,222.3 1088.2,223.4 1113,224M1071.2,224C1076.7,224.3 1088.2,225.9 1113,226.4M1073.8,201C1070.7,208 1070.7,222.5 1074.3,228.3M1077.8,200.5C1074.7,208 1074.7,222.5 1078.3,228.9M1082.8,200C1078.8,208 1078.8,222.5 1083.5,229.4M1088.4,199.5C1084.2,208 1084.2,222.5 1089.2,230M1094.1,199C1089.8,208 1089.8,222.5 1094.8,230.4M1099.7,198.5C1095.4,208 1095.4,222.5 1100.4,230.9M1105.3,198C1101.1,208 1101.1,222.5 1106.1,231.5M1110.3,197.6C1106.1,208 1106.1,222.5 1111.1,232" fill="none" stroke="#161616" stroke-width="0.9" stroke-opacity="0.8" /></g><path d="M1068.2,214.1C1068.2,206 1074,201.9 1088.2,199.4L1110.7,196.2C1117.3,195.4 1122.5,197.9 1127.6,203.4L1135.8,212Q1137.1,213 1143.1,213L1150,213.3Q1154.3,213.5 1154.3,218.8L1153.9,236.5Q1153.4,241.3 1152,244.1Q1153.9,247 1154.2,251.8L1154.2,275.8Q1154.2,281.1 1150,281.6L1126.8,282.8L1085.7,280.6Q1079.4,280.1 1079.4,275.8L1080,232.6Q1079.4,229.8 1075.4,227.4C1070.4,224.6 1068.2,220.4 1068.2,214.1Z" fill="none" stroke="#444" stroke-opacity="0.4" stroke-width="0.8"/></g>
<g><clipPath id="cB26"><path d="M1177.3,206.1Q1177.3,202.4 1181.7,201.9L1210.6,199.1L1223.7,198.6C1231.1,196 1240.3,193.5 1251.2,192.3C1258.6,191.6 1262.9,193.1 1265.1,195.6C1268.2,199 1269.7,201.9 1269.3,206.1C1268.9,211.6 1267.3,214.9 1265.1,217.7C1262.9,220.4 1259.4,221 1255.7,222.5L1255.7,299.7Q1255.7,303.9 1252.3,304.6L1232.9,306.3L1183.6,303.9Q1177.3,303.4 1177.3,298.6Z"/></clipPath><path d="M1177.3,206.1Q1177.3,202.4 1181.7,201.9L1210.6,199.1L1223.7,198.6C1231.1,196 1240.3,193.5 1251.2,192.3C1258.6,191.6 1262.9,193.1 1265.1,195.6C1268.2,199 1269.7,201.9 1269.3,206.1C1268.9,211.6 1267.3,214.9 1265.1,217.7C1262.9,220.4 1259.4,221 1255.7,222.5L1255.7,299.7Q1255.7,303.9 1252.3,304.6L1232.9,306.3L1183.6,303.9Q1177.3,303.4 1177.3,298.6Z" fill="url(#gB)"/><g clip-path="url(#cB26)"><path d="M1212.9,196L1256,196L1256,307.2L1212.9,307.2Z" fill="#000" fill-opacity="0.09"/><path d="M1233.8,201.1L1251.2,191.8L1269.9,194.3L1269.9,223.6L1233.8,223.6Z" fill="#fff" fill-opacity="0.12"/><path d="M1221.8,198.6L1251.4,192.2L1260.3,192.6L1233.8,201.1Z" fill="#fff" fill-opacity="0.35"/><path d="M1255.7,212.7L1269.9,208.3L1269.9,223.6L1255.7,223.6Z" fill="#000" fill-opacity="0.15"/><path d="M1177.3,299.7L1212.9,301.8L1256,300.2L1256,308.2L1177.3,308.2Z" fill="#000" fill-opacity="0.38"/><path d="M1177.3,204.7L1212.9,203.2L1256,206.1M1177.3,207.6L1212.9,206.2L1256,209.1M1177.3,210.6L1212.9,209.2L1256,212M1177.3,214.2L1212.9,212.8L1256,215.7M1177.3,217.9L1212.9,216.4L1256,219.3M1177.3,221.5L1212.9,220.1L1256,222.9M1177.3,225L1212.9,223.6L1256,226.4M1177.3,242.7L1212.9,241.3L1256,244.2M1177.3,260.5L1212.9,259.1L1256,261.9M1177.3,276.2L1212.9,274.8L1256,277.6M1177.3,292.1L1212.9,290.7L1256,293.5M1177.3,295.6L1212.9,294.2L1256,297M1177.3,299.1L1212.9,297.7L1256,300.5M1177.3,203.1L1210.6,199.7L1233.8,201.1M1177.3,198.6L1177.3,306.6M1184.1,198.6L1184.1,306.6M1191,198.6L1191,306.6M1198.6,198.6L1198.6,306.6M1206.1,198.6L1206.1,306.6M1210.6,198.6L1210.6,306.6M1214.6,198.6L1214.6,306.6M1219.4,198.6L1219.4,306.6M1224.2,198.6L1224.2,306.6M1229.1,198.6L1229.1,306.6M1234,195.2L1234,306.6M1236.8,195.2L1236.8,306.6M1239.6,195.2L1239.6,306.6M1243.2,195.2L1243.2,306.6M1246.8,195.2L1246.8,306.6M1251.3,195.2L1251.3,306.6M1255.7,195.2L1255.7,306.6M1234.3,201.1C1243.1,197.7 1247.7,194.3 1252.3,193.1S1262.9,194.3 1269,199.4M1234.3,203.7C1243.1,200.1 1247.7,197 1252.3,195.9S1262.9,196.9 1269,200.8M1234.3,206.7C1243.1,202.4 1247.7,199.6 1252.3,198.9S1262.9,199.4 1269,202.1M1234.3,209.6C1243.1,205.2 1247.7,202.3 1252.3,201.8S1262.9,201.9 1269,203.8M1234.3,212.7C1243.1,208.3 1247.7,205.6 1252.3,205.2S1262.9,205 1269,205.6M1234.3,215.8C1243.1,211.4 1247.7,209 1252.3,209.1S1262.9,208.3 1269,207.3M1234.3,218.8C1243.1,214.4 1247.7,212.5 1252.3,212.8S1262.9,211.6 1269,209.2M1234.3,221.7C1243.1,217.3 1247.7,215.9 1252.3,216.7S1262.9,214.9 1269,210.9M1234.3,224.7C1243.1,220.4 1247.7,219.3 1252.3,220.4S1262.9,218.2 1269,212.7M1252.3,191.8C1256,198.6 1256,212.7 1252.3,222.6M1255.5,191.8C1259,198.6 1259,212.7 1255.5,222.6M1258.6,191.8C1262.1,198.6 1262.1,212.7 1258.6,222.6M1261.2,191.8C1264.7,198.6 1264.7,212.7 1261.2,222.6M1263.8,191.8C1267.3,198.6 1267.3,212.7 1263.8,222.6" fill="none" stroke="#161616" stroke-width="0.9" stroke-opacity="0.8" /></g><path d="M1177.3,206.1Q1177.3,202.4 1181.7,201.9L1210.6,199.1L1223.7,198.6C1231.1,196 1240.3,193.5 1251.2,192.3C1258.6,191.6 1262.9,193.1 1265.1,195.6C1268.2,199 1269.7,201.9 1269.3,206.1C1268.9,211.6 1267.3,214.9 1265.1,217.7C1262.9,220.4 1259.4,221 1255.7,222.5L1255.7,299.7Q1255.7,303.9 1252.3,304.6L1232.9,306.3L1183.6,303.9Q1177.3,303.4 1177.3,298.6Z" fill="none" stroke="#444" stroke-opacity="0.4" stroke-width="0.8"/></g>
<g><clipPath id="cC27"><path d="M1077.6,408.8Q1077.8,405.6 1081.8,405.3L1128.4,404.2Q1131.4,404.1 1132.3,405.8L1134.1,408.4Q1136.1,405.8 1140.5,405.1L1148.6,404.8C1153.2,405.3 1158.2,410.8 1158.2,418.7C1158.2,425.7 1154.7,431.2 1148.3,432.4L1143.4,433.7L1141.1,640.3Q1141,644.4 1137.9,644.6L1081.8,644.6Q1077.8,644.4 1077.8,640.8Z"/></clipPath><path d="M1077.6,408.8Q1077.8,405.6 1081.8,405.3L1128.4,404.2Q1131.4,404.1 1132.3,405.8L1134.1,408.4Q1136.1,405.8 1140.5,405.1L1148.6,404.8C1153.2,405.3 1158.2,410.8 1158.2,418.7C1158.2,425.7 1154.7,431.2 1148.3,432.4L1143.4,433.7L1141.1,640.3Q1141,644.4 1137.9,644.6L1081.8,644.6Q1077.8,644.4 1077.8,640.8Z" fill="url(#gC)"/><g clip-path="url(#cC27)"><path d="M1115.9,397.8L1144,397.8L1144,651.5L1115.9,651.5Z" fill="#000" fill-opacity="0.16"/><path d="M1108,397.8L1115.9,397.8L1115.9,651.5L1108,651.5Z" fill="#000" fill-opacity="0.14"/><path d="M1139.2,397.8L1144,397.8L1144,651.5L1139.2,651.5Z" fill="#000" fill-opacity="0.08"/><path d="M1134.1,408.4C1137,411.8 1142.2,411.8 1145,406.8L1149.1,404.8C1156.3,406.8 1158.3,413.8 1158.2,418.7C1158.2,426.7 1154.2,431.7 1148.1,432.4L1140.5,432.7Z" fill="#000" fill-opacity="0.1"/><path d="M1134.4,407.8C1137.9,412.8 1143.1,412.8 1145.5,406.3L1140.5,405.1Q1136.1,405.8 1134.4,407.8Z" fill="#fff" fill-opacity="0.45"/><path d="M1077.5,407.2L1112,406.4L1144,407.8M1077.5,409.7L1112,408.9L1144,410.3M1077.5,412.1L1112,411.3L1144,412.7M1077.5,416L1112,415.2L1144,416.6M1077.5,419.8L1112,419L1144,420.4M1077.5,425.5L1112,424.7L1144,426.1M1077.5,431.2L1112,430.4L1144,431.8M1077.5,433.3L1112,432.5L1144,433.9M1077.5,435.5L1112,434.6L1144,436.1M1077.5,448.6L1112,447.8L1144,449.2M1077.5,461.8L1112,461L1144,462.4M1077.5,500.6L1112,499.8L1144,501.2M1077.5,539.4L1112,538.6L1144,540M1077.5,577.6L1112,576.8L1144,578.2M1077.5,615.9L1112,615.1L1144,616.5M1077.5,624.9L1112,624L1144,625.5M1077.5,633.7L1112,632.9L1144,634.3M1077.5,637.5L1112,636.8L1144,638.2M1077.5,641.3L1112,640.5L1144,642M1077.6,403.8L1077.6,645.4M1084.4,403.8L1084.4,645.4M1091.4,403.8L1091.4,645.4M1099.8,403.8L1099.8,645.4M1108.3,403.8L1108.3,645.4M1111.2,403.8L1111.2,645.4M1115.9,403.8L1115.9,645.4M1121.8,403.8L1121.8,645.4M1127.8,403.8L1127.8,645.4M1133.8,403.8L1133.8,645.4M1139.8,403.8L1139.8,645.4M1134.1,408.4L1140.5,433.2M1145.5,406.3L1140.5,433.2M1145.5,404.8L1145.5,432.7M1147.3,404.8L1147.3,432.7M1149.1,404.8L1149.1,432.7M1151,404.8L1151,432.7M1152.7,404.8L1152.7,432.7M1154.2,404.8L1154.2,432.7M1155.8,404.8L1155.8,432.7M1138.7,410.8L1158.3,410.8M1138.7,414.8L1158.3,414.8M1138.7,418.7L1158.3,418.7M1138.7,422.7L1158.3,422.7M1138.7,426.7L1158.3,426.7" fill="none" stroke="#161616" stroke-width="0.9" stroke-opacity="0.8" /></g><path d="M1077.6,408.8Q1077.8,405.6 1081.8,405.3L1128.4,404.2Q1131.4,404.1 1132.3,405.8L1134.1,408.4Q1136.1,405.8 1140.5,405.1L1148.6,404.8C1153.2,405.3 1158.2,410.8 1158.2,418.7C1158.2,425.7 1154.7,431.2 1148.3,432.4L1143.4,433.7L1141.1,640.3Q1141,644.4 1137.9,644.6L1081.8,644.6Q1077.8,644.4 1077.8,640.8Z" fill="none" stroke="#444" stroke-opacity="0.4" stroke-width="0.8"/></g>
<g><clipPath id="cD28"><path d="M1233.4,438.4Q1233.4,435.1 1236.9,435.1L1294.4,435.1Q1297.9,435.1 1297.9,438.4L1297.9,504.7L1311.3,504.9Q1316.7,505.2 1316.7,510L1316.7,642.7Q1316.7,647.3 1311.3,647.3L1188,647.3Q1182.4,647.3 1182.4,642.7L1182.4,510Q1182.4,505.9 1188,505.7L1210.4,505.7L1214.6,506.4L1216.3,504.9L1233.4,504.4Z"/></clipPath><path d="M1233.4,438.4Q1233.4,435.1 1236.9,435.1L1294.4,435.1Q1297.9,435.1 1297.9,438.4L1297.9,504.7L1311.3,504.9Q1316.7,505.2 1316.7,510L1316.7,642.7Q1316.7,647.3 1311.3,647.3L1188,647.3Q1182.4,647.3 1182.4,642.7L1182.4,510Q1182.4,505.9 1188,505.7L1210.4,505.7L1214.6,506.4L1216.3,504.9L1233.4,504.4Z" fill="url(#gD)"/><g clip-path="url(#cD28)"><path d="M1233.1,434.4L1298,434.4L1298,504.9L1233.1,504.9Z" fill="url(#gDn)"/><path d="M1182.4,504.9L1215.2,504.9L1215.2,647.8L1182.4,647.8Z" fill="url(#gDb)"/><path d="M1182.4,508L1316.8,508M1182.4,515.3L1316.8,515.3M1182.4,522.7L1316.8,522.7M1182.4,552.4L1316.8,552.4M1182.4,582.1L1316.8,582.1M1182.4,607.1L1316.8,607.1M1182.4,632.1L1316.8,632.1M1182.4,638.1L1316.8,638.1M1182.4,644L1316.8,644M1187.9,504.9L1187.9,647.8M1193.2,504.9L1193.2,647.8M1198.6,504.9L1198.6,647.8M1204,504.9L1204,647.8M1209.4,504.9L1209.4,647.8M1214.6,504.9L1214.6,647.8M1221,504.9L1221,647.8M1227.4,504.9L1227.4,647.8M1233.7,504.9L1233.7,647.8M1240.1,504.9L1240.1,647.8M1246.5,504.9L1246.5,647.8M1252.9,504.9L1252.9,647.8M1259.3,504.9L1259.3,647.8M1265.6,504.9L1265.6,647.8M1272,504.9L1272,647.8M1278.4,504.9L1278.4,647.8M1284.8,504.9L1284.8,647.8M1291.2,504.9L1291.2,647.8M1297.5,504.9L1297.5,647.8M1303.9,504.9L1303.9,647.8M1310.3,504.9L1310.3,647.8M1233.4,439.4L1298,439.4M1233.4,443.2L1298,443.2M1233.4,446.9L1298,446.9M1233.4,460.4L1298,460.4M1233.4,473.8L1298,473.8M1233.4,489.1L1298,489.1M1233.4,435.1L1233.4,504.9M1239,435.1L1239,504.9M1244.7,435.1L1244.7,504.9M1251.2,435.1L1251.2,504.9M1257.8,435.1L1257.8,504.9M1261,435.1L1261,504.9M1263.8,435.1L1263.8,504.9M1267.9,435.1L1267.9,504.9M1272.1,435.1L1272.1,504.9M1276.3,435.1L1276.3,504.9M1280.5,435.1L1280.5,504.9M1284.9,435.1L1284.9,504.9M1289.2,435.1L1289.2,504.9M1293.5,435.1L1293.5,504.9M1297.9,435.1L1297.9,504.9" fill="none" stroke="#161616" stroke-width="0.9" stroke-opacity="0.8" /></g><path d="M1233.4,438.4Q1233.4,435.1 1236.9,435.1L1294.4,435.1Q1297.9,435.1 1297.9,438.4L1297.9,504.7L1311.3,504.9Q1316.7,505.2 1316.7,510L1316.7,642.7Q1316.7,647.3 1311.3,647.3L1188,647.3Q1182.4,647.3 1182.4,642.7L1182.4,510Q1182.4,505.9 1188,505.7L1210.4,505.7L1214.6,506.4L1216.3,504.9L1233.4,504.4Z" fill="none" stroke="#444" stroke-opacity="0.4" stroke-width="0.8"/></g>
<g><clipPath id="cS29"><path d="M1470,170.3C1464.4,170.6 1445.5,171.3 1435.9,172.3C1424.3,173.4 1412.8,175.1 1399.9,176.5C1387.1,178 1381.4,179.1 1376,180.9C1370.2,182.6 1364.1,184.2 1359.1,187C1354.1,189.8 1349.3,194 1345.9,197.3C1342.5,200.5 1341,203.6 1338.9,206.8C1336.9,210 1334.9,212.9 1333.6,216.2C1332.4,219.5 1331.9,223.1 1331.5,226.7C1331,230.3 1331,234.5 1331.1,237.7C1331.2,241 1331.5,243.9 1331.9,246.5C1332.4,249 1333.4,252.2 1333.6,253C1333.9,253.8 1332.8,249.8 1333.3,251C1333.8,252.2 1334.9,254.9 1336.7,260.1C1338.5,265.3 1341.9,275.2 1344,282.3C1346.1,289.3 1347.7,294.8 1349.4,302.4C1351.1,310 1353.3,319.8 1354.3,327.6C1355.3,335.3 1355.6,342.5 1355.9,348.7C1356.2,355 1356.2,359.3 1356.3,364.9C1356.4,370.4 1356.6,379.2 1356.7,382L1357.2,385L1363.8,386.5L1460.3,388.5L1460.3,248L1509,174.2Z"/></clipPath><path d="M1470,170.3C1464.4,170.6 1445.5,171.3 1435.9,172.3C1424.3,173.4 1412.8,175.1 1399.9,176.5C1387.1,178 1381.4,179.1 1376,180.9C1370.2,182.6 1364.1,184.2 1359.1,187C1354.1,189.8 1349.3,194 1345.9,197.3C1342.5,200.5 1341,203.6 1338.9,206.8C1336.9,210 1334.9,212.9 1333.6,216.2C1332.4,219.5 1331.9,223.1 1331.5,226.7C1331,230.3 1331,234.5 1331.1,237.7C1331.2,241 1331.5,243.9 1331.9,246.5C1332.4,249 1333.4,252.2 1333.6,253C1333.9,253.8 1332.8,249.8 1333.3,251C1333.8,252.2 1334.9,254.9 1336.7,260.1C1338.5,265.3 1341.9,275.2 1344,282.3C1346.1,289.3 1347.7,294.8 1349.4,302.4C1351.1,310 1353.3,319.8 1354.3,327.6C1355.3,335.3 1355.6,342.5 1355.9,348.7C1356.2,355 1356.2,359.3 1356.3,364.9C1356.4,370.4 1356.6,379.2 1356.7,382L1357.2,385L1363.8,386.5L1460.3,388.5L1460.3,248L1509,174.2Z" fill="#adadad"/><g clip-path="url(#cS29)"><path d="M1470,178.8C1464.4,179.1 1445.6,179.9 1435.9,181C1424.1,182 1410.9,183.5 1398.2,185.1C1385.8,186.6 1381.5,188.3 1376.8,190.1C1371.9,191.8 1366.5,193.7 1362.9,195.7C1359.2,197.8 1357,200 1355,202.4C1353,204.7 1352.1,207.3 1350.9,210.1C1349.7,212.8 1348.5,215.7 1347.7,218.8C1346.9,221.9 1346.5,225.5 1346.3,228.7C1346,231.9 1345.9,235 1345.9,237.7C1345.9,240.5 1345.9,243.4 1346.3,245.4C1346.6,247.5 1347.8,249.2 1348.2,250L1379.4,258.1L1470,258.1Z" fill="url(#gSr)"/><path d="M1470,170.3C1464.4,170.6 1445.5,171.3 1435.9,172.3C1424.3,173.4 1412.8,175.1 1399.9,176.5C1387.1,178 1381.4,179.1 1376,180.9C1370.2,182.6 1364.1,184.2 1359.1,187C1354.1,189.8 1349.3,194 1345.9,197.3C1342.5,200.5 1341,203.6 1338.9,206.8C1336.9,210 1334.9,212.9 1333.6,216.2C1332.4,219.5 1331.9,223.1 1331.5,226.7C1331,230.3 1331,234.5 1331.1,237.7C1331.2,241 1331.5,243.9 1331.9,246.5C1332.4,249 1333.4,251.9 1333.6,253L1348.2,250C1347.8,249.2 1346.6,247.5 1346.3,245.4C1345.9,243.4 1345.9,240.5 1345.9,237.7C1345.9,235 1346,231.9 1346.3,228.7C1346.5,225.5 1346.9,221.9 1347.7,218.8C1348.5,215.7 1349.7,212.8 1350.9,210.1C1352.1,207.3 1353,204.7 1355,202.4C1357,200 1359.2,197.8 1362.9,195.7C1366.5,193.7 1371.9,191.8 1376.8,190.1C1381.5,188.3 1385.8,186.6 1398.2,185.1C1410.9,183.5 1424.1,182 1435.9,181C1445.6,179.9 1464.4,179.1 1470,178.8Z" fill="url(#gSrim)"/><path d="M1333.3,251C1333.8,252.5 1334.9,254.9 1336.7,260.1C1338.5,265.3 1341.9,275.2 1344,282.3C1346.1,289.3 1347.7,294.8 1349.4,302.4C1351.1,310 1353.3,319.8 1354.3,327.6C1355.3,335.3 1355.6,342.5 1355.9,348.7C1356.2,355 1356.2,359.3 1356.3,364.9C1356.4,370.4 1356.6,379.2 1356.7,382L1380,382C1379.9,379.2 1379.9,370.4 1379.6,364.9C1379.3,359.3 1379.1,355 1378.4,348.7C1377.7,342.5 1376.9,335.3 1375.6,327.6C1374.3,319.8 1372.6,310 1370.8,302.4C1369.1,294.8 1367.1,289.3 1365.1,282.3C1363.1,275.2 1360.4,265.3 1359.2,260.1C1357.9,254.9 1357.7,252.5 1357.4,251Z" fill="url(#gSfl)"/><path d="M1357.4,251C1357.7,252.5 1357.9,254.9 1359.2,260.1C1360.4,265.3 1363.1,275.2 1365.1,282.3C1367.1,289.3 1369.1,294.8 1370.8,302.4C1372.6,310 1374.3,319.8 1375.6,327.6C1376.9,335.3 1377.7,342.5 1378.4,348.7C1379.1,355 1379.3,359.3 1379.6,364.9C1379.9,370.4 1379.9,379.2 1380,382L1386.7,382C1386.7,379.2 1386.7,370.4 1386.7,364.9C1386.7,359.3 1386.7,355 1386.7,348.7C1386.7,342.5 1386.9,335.3 1386.4,327.6C1386,319.8 1385.8,310 1385.2,302.4C1384.6,294.8 1383.7,289.3 1382.6,282.3C1381.5,275.2 1379.6,265.3 1378.7,260.1C1377.8,254.9 1377.5,252.5 1377.3,251Z" fill="url(#gSch)"/><path d="M1377.3,251C1377.5,252.5 1377.8,254.9 1378.7,260.1C1379.6,265.3 1381.5,275.2 1382.6,282.3C1383.7,289.3 1384.6,294.8 1385.2,302.4C1385.8,310 1386,319.8 1386.4,327.6C1386.9,335.3 1386.7,342.5 1386.7,348.7C1386.7,355 1386.7,359.3 1386.7,364.9C1386.7,370.4 1386.7,379.2 1386.7,382L1428.9,382C1428.9,379.2 1428.9,370.4 1428.7,364.9C1428.7,359.3 1428.7,355 1428.5,348.7C1428.2,342.5 1428.2,335.3 1427.1,327.6C1426.3,319.8 1424.7,310 1422.4,302.4C1420.1,294.8 1416.9,289.3 1413.5,282.3C1410,275.2 1404.5,265.3 1401.4,260.1C1398.2,254.9 1395.7,252.5 1394.7,251Z" fill="url(#gSfl2)"/><path d="M1429.1,251L1470,251L1470,391.1L1429.1,391.1Z" fill="#a4a4a4"/><path d="M1333.6,253L1348.2,250L1364.6,250.5L1377.3,249L1377.3,252.5L1364.6,254L1351.3,254L1334.1,256.6Z" fill="#000" fill-opacity="0.22"/><path d="M1355.9,380.5L1429.1,383L1429.1,391.1L1355.9,391.1Z" fill="#7d7d7d"/><path d="M1470,172C1464.4,172.3 1445.5,173.1 1435.9,174.1C1424.3,175.1 1412.5,176.9 1399.6,178.3C1386.7,179.7 1381.4,181 1376.1,182.7C1370.6,184.4 1364.5,186.2 1359.9,188.7C1355.2,191.3 1350.8,195.2 1347.7,198.3C1344.6,201.4 1343.2,204.3 1341.3,207.4C1339.5,210.5 1337.6,213.5 1336.5,216.7C1335.3,220 1334.8,223.6 1334.5,227.1C1334,230.6 1334,234.6 1334.1,237.7C1334.1,240.9 1334.4,243.8 1334.8,246.3C1335.2,248.7 1336.3,251.4 1336.5,252.4M1470,173.7C1464.4,174.1 1445.5,174.7 1435.9,175.8C1424.3,176.9 1412.1,178.5 1399.2,179.9C1386.4,181.4 1381.5,182.8 1376.3,184.5C1370.8,186.3 1365.1,188 1360.6,190.5C1356.2,193 1352.3,196.3 1349.5,199.3C1346.7,202.3 1345.4,205.1 1343.7,208.1C1342,211.1 1340.4,214 1339.3,217.2C1338.2,220.5 1337.7,224.1 1337.4,227.5C1337,230.9 1337,234.7 1337,237.7C1337.1,240.8 1337.3,243.7 1337.6,246.1C1338.1,248.4 1339.2,250.9 1339.5,251.8M1470,175.4C1464.4,175.7 1445.6,176.4 1435.9,177.5C1424.1,178.6 1411.6,180.1 1398.9,181.7C1386.2,183.1 1381.5,184.6 1376.5,186.4C1371.2,188.1 1365.5,189.9 1361.4,192.2C1357.2,194.6 1353.9,197.6 1351.3,200.3C1348.8,203.1 1347.6,205.9 1346.1,208.7C1344.5,211.7 1343.1,214.6 1342.1,217.8C1341.1,220.9 1340.7,224.5 1340.4,227.9C1340,231.2 1339.9,234.8 1340,237.7C1340,240.7 1340.1,243.6 1340.5,245.8C1340.9,248.1 1342.1,250.3 1342.4,251.2M1470,177.1C1464.4,177.5 1445.6,178.2 1435.9,179.2C1424.1,180.2 1411.2,181.9 1398.5,183.3C1385.9,184.9 1381.5,186.5 1376.6,188.2C1371.5,190 1366,191.8 1362.1,194C1358.3,196.1 1355.4,198.8 1353.2,201.4C1350.9,203.9 1349.9,206.6 1348.5,209.5C1347.1,212.2 1345.8,215.1 1344.9,218.3C1344,221.4 1343.6,225 1343.3,228.3C1343,231.6 1342.9,234.9 1342.9,237.7C1343,240.6 1343,243.5 1343.4,245.6C1343.8,247.8 1345,249.8 1345.3,250.6M1470,178.8C1464.4,179.1 1445.6,179.9 1435.9,181C1424.1,182 1410.9,183.5 1398.2,185.1C1385.8,186.6 1381.5,188.3 1376.8,190.1C1371.9,191.8 1366.5,193.7 1362.9,195.7C1359.2,197.8 1357,200 1355,202.4C1353,204.7 1352.1,207.3 1350.9,210.1C1349.7,212.8 1348.5,215.7 1347.7,218.8C1346.9,221.9 1346.5,225.5 1346.3,228.7C1346,231.9 1345.9,235 1345.9,237.7C1345.9,240.5 1345.9,243.4 1346.3,245.4C1346.6,247.5 1347.8,249.2 1348.2,250M1435.9,172.3L1435.9,181M1399.9,176.5L1398.2,185.1M1376,180.9L1376.8,190.1M1359.1,187L1362.9,195.7M1345.9,197.3L1355,202.4M1338.9,206.8L1350.9,210.1M1333.6,216.2L1347.7,218.8M1331.5,226.7L1346.3,228.7M1331.1,237.7L1345.9,237.7M1331.9,246.5L1346.3,245.4M1333.6,253L1348.2,250M1420.8,174.4L1419.9,183M1384.2,178.7L1384.2,187.6M1367.6,183.9L1369.9,192.8M1352.6,192.1L1359,199M1342.4,202.1L1353,206.2M1336.3,211.5L1349.3,214.4M1332.6,221.4L1347,223.7M1331.3,232.2L1346.1,233.2M1331.5,242.1L1346.1,241.6M1332.8,249.8L1347.2,247.8M1362.9,195.7L1377.7,190.1L1438.8,180.9M1350.9,210.1L1376,209.6L1436.9,200.3M1346.3,228.7L1372.5,220.8L1433,211.6M1346.3,245.4L1371.5,230.8L1431.9,221.6M1348.2,250L1369.4,241.3L1429.6,232.1M1355,202.4L1376.8,199.8L1437.9,190.6M1347.7,218.8L1374.2,215.2L1434.9,206M1345.9,237.7L1372,226L1432.5,216.7M1347.3,248L1370.3,236.2L1430.6,227M1358.5,198.8L1377.3,194.7L1438.3,185.5M1352.7,206L1376.4,204.9L1437.4,195.7M1377.7,185.5C1377.4,187.8 1376.6,195.4 1376,199.8C1375.3,204.2 1374.6,207.8 1373.8,212.1C1372.9,216.4 1371.8,220.8 1370.7,225.4C1369.7,230.1 1368.4,235.9 1367.7,239.8C1367,243.7 1366.5,247.5 1366.4,249M1368.1,188.5C1368.1,190.9 1368.3,198.5 1368.2,202.9C1368.1,207.3 1367.9,210.9 1367.6,215.2C1367.2,219.5 1366.6,223.9 1366.3,228.5C1365.8,233.1 1365.2,239 1365,242.9C1364.8,246.8 1364.9,250.5 1364.9,252M1384.8,184.4C1384.6,186.8 1383.9,194.4 1383.3,198.8C1382.7,203.2 1382.1,206.8 1381.3,211.1C1380.6,215.4 1379.5,219.8 1378.6,224.4C1377.5,229 1376.2,234.9 1375.5,238.8C1374.8,242.7 1374.4,246.5 1374.2,248M1379.4,180.3L1381.7,188.5M1386,178.9L1391.3,187.1M1401,177.6L1406.3,185.8M1416.9,176L1422.2,184.2M1431,174.6L1434,182.8M1439.8,173.2L1442.7,181.4M1448.6,171.6L1451.5,179.8M1336.2,251C1336.7,252.5 1337.7,254.9 1339.5,260.1C1341.2,265.3 1344.4,275.2 1346.5,282.3C1348.7,289.3 1350.3,294.8 1352.1,302.4C1353.8,310 1355.9,319.8 1357,327.6C1358,335.3 1358.3,342.5 1358.6,348.7C1359,355 1359,359.3 1359.1,364.9C1359.2,370.4 1359.5,379.2 1359.5,382M1339.1,251C1339.6,252.5 1340.5,254.9 1342.1,260.1C1343.8,265.3 1347.1,275.2 1349.2,282.3C1351.3,289.3 1353,294.8 1354.7,302.4C1356.4,310 1358.4,319.8 1359.5,327.6C1360.6,335.3 1360.9,342.5 1361.3,348.7C1361.8,355 1361.8,359.3 1361.9,364.9C1362.1,370.4 1362.3,379.2 1362.4,382M1342,251C1342.4,252.5 1343.2,254.9 1344.8,260.1C1346.4,265.3 1349.6,275.2 1351.7,282.3C1353.8,289.3 1355.5,294.8 1357.3,302.4C1359,310 1360.9,319.8 1362,327.6C1363.1,335.3 1363.6,342.5 1364,348.7C1364.5,355 1364.5,359.3 1364.7,364.9C1364.9,370.4 1365.1,379.2 1365.1,382M1344.9,251C1345.4,252.5 1346,254.9 1347.5,260.1C1349.2,265.3 1352.3,275.2 1354.3,282.3C1356.3,289.3 1358.1,294.8 1359.8,302.4C1361.5,310 1363.4,319.8 1364.5,327.6C1365.8,335.3 1366.2,342.5 1366.7,348.7C1367.2,355 1367.3,359.3 1367.5,364.9C1367.8,370.4 1367.8,379.2 1367.9,382M1347.8,251C1348.2,252.5 1348.7,254.9 1350.3,260.1C1351.8,265.3 1354.8,275.2 1356.9,282.3C1358.9,289.3 1360.6,294.8 1362.4,302.4C1364.1,310 1365.9,319.8 1367.2,327.6C1368.3,335.3 1368.9,342.5 1369.4,348.7C1369.9,355 1370.1,359.3 1370.3,364.9C1370.6,370.4 1370.7,379.2 1370.7,382M1350.7,251C1351.1,252.5 1351.5,254.9 1353,260.1C1354.4,265.3 1357.4,275.2 1359.3,282.3C1361.3,289.3 1363.1,294.8 1364.9,302.4C1366.6,310 1368.5,319.8 1369.7,327.6C1370.9,335.3 1371.5,342.5 1372.1,348.7C1372.7,355 1372.9,359.3 1373.2,364.9C1373.3,370.4 1373.5,379.2 1373.6,382M1353.6,251C1353.9,252.5 1354.2,254.9 1355.7,260.1C1357,265.3 1359.8,275.2 1361.8,282.3C1363.8,289.3 1365.7,294.8 1367.4,302.4C1369.2,310 1371,319.8 1372.2,327.6C1373.4,335.3 1374.2,342.5 1374.8,348.7C1375.4,355 1375.7,359.3 1376,364.9C1376.2,370.4 1376.3,379.2 1376.4,382M1356,251C1356.3,252.5 1356.6,254.9 1357.9,260.1C1359.2,265.3 1361.9,275.2 1363.8,282.3C1365.8,289.3 1367.8,294.8 1369.5,302.4C1371.2,310 1373.1,319.8 1374.3,327.6C1375.6,335.3 1376.4,342.5 1377.1,348.7C1377.7,355 1378,359.3 1378.3,364.9C1378.6,370.4 1378.7,379.2 1378.7,382M1357.4,251C1357.7,252.5 1357.9,254.9 1359.2,260.1C1360.4,265.3 1363.1,275.2 1365.1,282.3C1367.1,289.3 1369.1,294.8 1370.8,302.4C1372.6,310 1374.3,319.8 1375.6,327.6C1376.9,335.3 1377.7,342.5 1378.4,348.7C1379.1,355 1379.3,359.3 1379.6,364.9C1379.9,370.4 1379.9,379.2 1380,382M1377.3,251C1377.5,252.5 1377.8,254.9 1378.7,260.1C1379.6,265.3 1381.5,275.2 1382.6,282.3C1383.7,289.3 1384.6,294.8 1385.2,302.4C1385.8,310 1386,319.8 1386.4,327.6C1386.9,335.3 1386.7,342.5 1386.7,348.7C1386.7,355 1386.7,359.3 1386.7,364.9C1386.7,370.4 1386.7,379.2 1386.7,382M1378.6,251C1378.8,252.5 1379.1,254.9 1380,260.1C1380.9,265.3 1382.9,275.2 1384,282.3C1385.1,289.3 1386.2,294.8 1387.6,302.4C1389,310 1389.5,319.8 1390.1,327.6C1390.6,335.3 1390.4,342.5 1390.4,348.7C1390.6,355 1390.4,359.3 1390.4,364.9C1390.4,370.4 1390.4,379.2 1390.4,382M1379.7,251C1379.9,252.5 1380.3,254.9 1381.3,260.1C1382.2,265.3 1384.2,275.2 1385.4,282.3C1387.2,289.3 1389.5,294.8 1391.1,302.4C1392.5,310 1393.2,319.8 1393.8,327.6C1394.3,335.3 1394.1,342.5 1394.3,348.7C1394.3,355 1394.3,359.3 1394.3,364.9C1394.3,370.4 1394.3,379.2 1394.3,382M1380.8,251C1381.1,252.5 1381.6,254.9 1382.5,260.1C1383.5,265.3 1385.6,275.2 1387.8,282.3C1390.6,289.3 1392.9,294.8 1394.5,302.4C1396.1,310 1396.8,319.8 1397.5,327.6C1398,335.3 1397.8,342.5 1398,348.7C1398.2,355 1398,359.3 1398,364.9C1398,370.4 1398,379.2 1398.2,382M1381.9,251C1382.2,252.5 1382.7,254.9 1383.8,260.1C1384.8,265.3 1388.1,275.2 1390.9,282.3C1393.8,289.3 1396.2,294.8 1397.8,302.4C1399.6,310 1400.5,319.8 1401,327.6C1401.7,335.3 1401.5,342.5 1401.7,348.7C1401.9,355 1401.9,359.3 1401.9,364.9C1401.9,370.4 1401.9,379.2 1401.9,382M1383,251C1383.4,252.5 1384,254.9 1385.1,260.1C1386.4,265.3 1391.3,275.2 1394.1,282.3C1397.1,289.3 1399.6,294.8 1401.4,302.4C1403.1,310 1404,319.8 1404.7,327.6C1405.4,335.3 1405.4,342.5 1405.6,348.7C1405.6,355 1405.6,359.3 1405.6,364.9C1405.6,370.4 1405.6,379.2 1405.8,382M1384.1,251C1384.5,252.5 1385.1,254.9 1386.7,260.1C1389.4,265.3 1394.3,275.2 1397.3,282.3C1400.3,289.3 1402.9,294.8 1404.7,302.4C1406.7,310 1407.7,319.8 1408.4,327.6C1409.1,335.3 1409.1,342.5 1409.3,348.7C1409.5,355 1409.5,359.3 1409.5,364.9C1409.5,370.4 1409.5,379.2 1409.5,382M1385.2,251C1385.6,252.5 1386.9,254.9 1389.5,260.1C1392.4,265.3 1397.3,275.2 1400.5,282.3C1403.7,289.3 1406.3,294.8 1408.2,302.4C1410.2,310 1411.2,319.8 1412.1,327.6C1412.8,335.3 1412.8,342.5 1413,348.7C1413.2,355 1413.2,359.3 1413.2,364.9C1413.2,370.4 1413.2,379.2 1413.4,382M1386.7,251C1387.8,252.5 1389.7,254.9 1392.5,260.1C1395.4,265.3 1400.5,275.2 1403.7,282.3C1406.8,289.3 1409.7,294.8 1411.6,302.4C1413.7,310 1415,319.8 1415.8,327.6C1416.7,335.3 1416.5,342.5 1416.7,348.7C1417.1,355 1416.9,359.3 1417.1,364.9C1417.1,370.4 1417.1,379.2 1417.1,382M1389.4,251C1390.2,252.5 1392.4,254.9 1395.4,260.1C1398.2,265.3 1403.5,275.2 1406.8,282.3C1410,289.3 1413,294.8 1415.1,302.4C1417.2,310 1418.5,319.8 1419.4,327.6C1420.4,335.3 1420.2,342.5 1420.6,348.7C1420.8,355 1420.8,359.3 1420.8,364.9C1420.8,370.4 1421,379.2 1421,382M1391.8,251C1392.9,252.5 1395.2,254.9 1398.2,260.1C1401.2,265.3 1406.7,275.2 1410,282.3C1413.4,289.3 1416.4,294.8 1418.5,302.4C1420.6,310 1422.2,319.8 1423.1,327.6C1424.1,335.3 1424.1,342.5 1424.3,348.7C1424.5,355 1424.5,359.3 1424.7,364.9C1424.7,370.4 1424.7,379.2 1424.7,382M1367.3,251C1367.6,252.5 1367.8,254.9 1369,260.1C1370,265.3 1372.5,275.2 1374,282.3C1375.6,289.3 1377.2,294.8 1378.4,302.4C1379.5,310 1380.4,319.8 1381.1,327.6C1381.7,335.3 1382.1,342.5 1382.4,348.7C1382.7,355 1382.8,359.3 1383,364.9C1383,370.4 1383.1,379.2 1383.1,382M1333.4,252.8L1357.5,249.8L1377.3,250.8L1394.8,247.8M1338.5,267L1360.6,264L1379.7,265L1404.4,262M1343.2,281.2L1364.5,278.2L1382.2,279.2L1412.1,276.2M1347.1,295.4L1368.4,292.4L1384.1,293.4L1418.7,290.4M1350.5,309.6L1371.9,306.5L1385.5,307.5L1423.4,304.5M1352.4,319.3L1373.7,316.3L1385.8,317.3L1425.4,314.3M1354.2,329L1375.6,326L1386.4,327L1427.1,324M1355.1,339.5L1377,336.5L1386.5,337.5L1427.8,334.4M1355.9,349.8L1378.3,346.8L1386.7,347.8L1428.5,344.8M1356.2,358.8L1379.1,355.8L1386.7,356.8L1428.7,353.8M1356.3,367.8L1379.6,364.8L1386.7,365.8L1428.7,362.7M1356.5,374.3L1379.8,371.3L1386.7,372.3L1428.9,369.3M1356.6,381L1379.9,378L1386.7,379L1428.9,375.9" fill="none" stroke="#161616" stroke-width="0.9" stroke-opacity="0.8" /></g><path d="M1470,170.3C1464.4,170.6 1445.5,171.3 1435.9,172.3C1424.3,173.4 1412.8,175.1 1399.9,176.5C1387.1,178 1381.4,179.1 1376,180.9C1370.2,182.6 1364.1,184.2 1359.1,187C1354.1,189.8 1349.3,194 1345.9,197.3C1342.5,200.5 1341,203.6 1338.9,206.8C1336.9,210 1334.9,212.9 1333.6,216.2C1332.4,219.5 1331.9,223.1 1331.5,226.7C1331,230.3 1331,234.5 1331.1,237.7C1331.2,241 1331.5,243.9 1331.9,246.5C1332.4,249 1333.4,252.2 1333.6,253C1333.9,253.8 1332.8,249.8 1333.3,251C1333.8,252.2 1334.9,254.9 1336.7,260.1C1338.5,265.3 1341.9,275.2 1344,282.3C1346.1,289.3 1347.7,294.8 1349.4,302.4C1351.1,310 1353.3,319.8 1354.3,327.6C1355.3,335.3 1355.6,342.5 1355.9,348.7C1356.2,355 1356.2,359.3 1356.3,364.9C1356.4,370.4 1356.6,379.2 1356.7,382" fill="none" stroke="#444" stroke-opacity="0.45" stroke-width="0.8"/></g>
<g><path d="M1429.1,379.8L1456.9,382.5L1488.3,382L1523,374.8L1521.1,390.3L1429.1,390.3Z" fill="#808080"/><path d="M1472.4,387.5L1476.3,391.9L1499.5,391.9L1502.3,387.5Z" fill="#6e6e6e"/><clipPath id="cS30"><path d="M1465.9,171.2C1460.5,171.8 1445.1,173.2 1438.8,175C1432.6,176.7 1425.4,179.5 1420.3,181.7C1415.1,183.9 1412.6,185.9 1409.7,188.1C1406.7,190.3 1405.1,192.4 1403,195.2C1400.8,197.9 1398.7,201.2 1397,204.2C1395.4,207.3 1394.2,209.9 1393.2,213.1C1392.3,216.4 1391.6,220.1 1391.2,223.4C1390.8,226.8 1390.9,230.5 1391.1,233.3C1391.3,236.2 1391.6,238.4 1392.2,240.5C1392.8,242.7 1392.5,243.4 1394.3,246.4C1396.2,249.5 1399.7,253.9 1403,259.3C1406.2,264.6 1410.5,272.2 1413.7,278.7C1416.9,285.1 1420.3,291.5 1422.4,298C1424.5,304.5 1425.8,310.8 1426.8,319.2C1427.7,327.7 1428,337.8 1428.4,347.6C1428.8,357.5 1428.8,373.4 1428.9,378.6L1429.5,383.6L1456.6,385.3C1462.3,385.2 1479.6,385.4 1487.7,384.7C1495.9,384.1 1505.8,382.6 1511.7,381.4C1517.6,380.2 1520.3,379.3 1523.2,377.2C1526.2,375.1 1527.9,372.4 1529.5,368.6C1531,364.7 1531.5,361.2 1532.5,353.8C1533.6,346.4 1534.9,335.8 1535.7,324.2C1536.6,312.7 1537.4,296.8 1537.8,287.3C1538.2,277.8 1538,271.9 1538,264.7C1538,257.6 1538.2,253.1 1537.8,244.3C1537.4,235.4 1536.4,218.6 1535.7,210.9C1535.1,203.1 1534.4,201.9 1533.8,198.2C1533.1,194.4 1532.3,191.1 1531.5,188.4C1530.8,185.7 1530.1,183.8 1529.1,182C1528,180.2 1527,178.7 1525.2,177.2C1523.5,175.7 1521.1,174.1 1518.3,173.1C1515.5,172.1 1513.6,171.4 1508.6,170.9C1503.7,170.4 1494.8,170.3 1488.3,170.2C1481.7,170.1 1470.2,170.1 1465.9,170.1Z"/></clipPath><path d="M1465.9,171.2C1460.5,171.8 1445.1,173.2 1438.8,175C1432.6,176.7 1425.4,179.5 1420.3,181.7C1415.1,183.9 1412.6,185.9 1409.7,188.1C1406.7,190.3 1405.1,192.4 1403,195.2C1400.8,197.9 1398.7,201.2 1397,204.2C1395.4,207.3 1394.2,209.9 1393.2,213.1C1392.3,216.4 1391.6,220.1 1391.2,223.4C1390.8,226.8 1390.9,230.5 1391.1,233.3C1391.3,236.2 1391.6,238.4 1392.2,240.5C1392.8,242.7 1392.5,243.4 1394.3,246.4C1396.2,249.5 1399.7,253.9 1403,259.3C1406.2,264.6 1410.5,272.2 1413.7,278.7C1416.9,285.1 1420.3,291.5 1422.4,298C1424.5,304.5 1425.8,310.8 1426.8,319.2C1427.7,327.7 1428,337.8 1428.4,347.6C1428.8,357.5 1428.8,373.4 1428.9,378.6L1429.5,383.6L1456.6,385.3C1462.3,385.2 1479.6,385.4 1487.7,384.7C1495.9,384.1 1505.8,382.6 1511.7,381.4C1517.6,380.2 1520.3,379.3 1523.2,377.2C1526.2,375.1 1527.9,372.4 1529.5,368.6C1531,364.7 1531.5,361.2 1532.5,353.8C1533.6,346.4 1534.9,335.8 1535.7,324.2C1536.6,312.7 1537.4,296.8 1537.8,287.3C1538.2,277.8 1538,271.9 1538,264.7C1538,257.6 1538.2,253.1 1537.8,244.3C1537.4,235.4 1536.4,218.6 1535.7,210.9C1535.1,203.1 1534.4,201.9 1533.8,198.2C1533.1,194.4 1532.3,191.1 1531.5,188.4C1530.8,185.7 1530.1,183.8 1529.1,182C1528,180.2 1527,178.7 1525.2,177.2C1523.5,175.7 1521.1,174.1 1518.3,173.1C1515.5,172.1 1513.6,171.4 1508.6,170.9C1503.7,170.4 1494.8,170.3 1488.3,170.2C1481.7,170.1 1470.2,170.1 1465.9,170.1Z" fill="url(#gSf)"/><g clip-path="url(#cS30)"><path d="M1447.8,164.8L1544.6,164.8L1544.6,391.9L1450.4,391.9L1453,305.5L1476.3,303.4L1479.8,293.8L1479.8,249.3L1476.3,241.5L1467.9,238.6L1447.8,242.5Z" fill="url(#gSc)"/><path d="M1476.3,170.9C1486.4,175 1489.2,185.1 1490.2,200.2L1493,293.8C1493,336.5 1490.2,358.7 1480.8,372L1453,380.9L1453,305.5L1476.3,303.4L1479.8,293.8L1479.8,249.3L1476.3,241.5L1467.9,238.6L1447.8,242.5L1447.8,170.9Z" fill="#fff" fill-opacity="0.3"/><path d="M1447.4,242.5L1467.9,238.8L1476.7,242.2L1478.9,248.6L1478.4,295.7L1469.6,304.4L1453,302L1447.8,293.8Z" fill="url(#gSh)"/><path d="M1429.1,378.6L1456.9,380.9L1488.3,379.8L1523,372L1525.8,380.9L1488.3,389.7L1429.1,389.7Z" fill="#8c8c8c"/><path d="M1465.9,171.2C1460.5,171.8 1445.1,173.2 1438.8,175C1432.6,176.7 1425.4,179.5 1420.3,181.7C1415.1,183.9 1412.6,185.9 1409.7,188.1C1406.7,190.3 1405.1,192.4 1403,195.2C1400.8,197.9 1398.7,201.2 1397,204.2C1395.4,207.3 1394.2,209.9 1393.2,213.1C1392.3,216.4 1391.6,220.1 1391.2,223.4C1390.8,226.8 1390.9,230.5 1391.1,233.3C1391.3,236.2 1391.6,238.4 1392.2,240.5C1392.8,242.7 1392.5,243.4 1394.3,246.4C1396.2,249.5 1399.7,253.9 1403,259.3C1406.2,264.6 1410.5,272.2 1413.7,278.7C1416.9,285.1 1420.3,291.5 1422.4,298C1424.5,304.5 1425.8,310.8 1426.8,319.2C1427.7,327.7 1428,337.8 1428.4,347.6C1428.8,357.5 1428.8,373.4 1428.9,378.6L1437.5,378.4C1437.4,373.2 1437.4,357.3 1437,347.2C1436.7,337 1436.5,326.7 1435.6,317.7C1434.7,308.7 1433.5,301.8 1431.6,294.8C1429.6,287.9 1426.3,280.9 1422.9,274.1C1419.5,267.3 1415,259.5 1411.7,254.1C1408.4,248.7 1404.8,244 1403.1,241.4C1401.6,238.7 1402.4,239.5 1402.1,238.1C1401.8,236.6 1401.4,235 1401.3,232.7C1401.2,230.5 1401,227.4 1401.3,224.6C1401.6,221.8 1402.2,218.9 1403,216.4C1403.7,213.8 1404.6,211.8 1406,209.4C1407.2,207.1 1409.3,203.9 1410.8,201.8C1412.5,199.7 1413.5,198.3 1415.8,196.6C1418,194.9 1419.6,193.4 1424.1,191.5C1428.6,189.7 1434.8,187 1440.7,185.3C1446.7,183.6 1462.7,182.3 1467.9,181.7Z" fill="url(#gSrim2)"/><path d="M1466.3,173.2C1461,173.8 1445.4,175.2 1439.2,177C1433,178.7 1426.1,181.4 1421,183.6C1415.9,185.8 1413.5,187.6 1410.8,189.7C1408.1,191.8 1406.5,193.8 1404.5,196.5C1402.5,199 1400.3,202.3 1398.7,205.3C1397.1,208.1 1396.1,210.7 1395.1,213.7C1394.1,216.8 1393.4,220.4 1393.1,223.6C1392.8,226.9 1392.8,230.5 1393,233.2C1393.2,236 1393.5,238 1394,240.1C1394.5,242.1 1394.2,242.5 1396,245.5C1397.7,248.5 1401.4,252.9 1404.6,258.3C1407.9,263.7 1412.2,271.3 1415.5,277.8C1418.8,284.3 1422,290.9 1424.2,297.4C1426.5,303.9 1427.6,310.4 1428.7,318.9C1429.6,327.4 1429.8,337.5 1430.1,347.5C1430.4,357.5 1430.4,373.4 1430.5,378.6M1466.7,175.3C1461.4,175.9 1445.7,177.2 1439.6,178.9C1433.5,180.6 1426.7,183.4 1421.7,185.5C1416.8,187.6 1414.6,189.3 1412,191.3C1409.4,193.3 1407.9,195.3 1406,197.7C1404,200.2 1401.9,203.4 1400.4,206.3C1398.9,209 1397.8,211.4 1396.9,214.4C1396.1,217.3 1395.4,220.7 1395.1,223.8C1394.7,227 1394.8,230.5 1395,233.1C1395.1,235.8 1395.5,237.7 1396,239.6C1396.3,241.5 1396,241.6 1397.7,244.5C1399.4,247.5 1403.1,252 1406.3,257.3C1409.6,262.7 1413.9,270.3 1417.2,276.9C1420.5,283.5 1423.8,290.2 1426.1,296.8C1428.3,303.4 1429.5,310.1 1430.4,318.7C1431.2,327.2 1431.4,337.4 1431.8,347.4C1432.1,357.4 1432.1,373.3 1432.2,378.5M1467.1,177.2C1461.8,177.8 1446,179.2 1439.9,180.9C1433.9,182.5 1427.2,185.4 1422.5,187.4C1417.6,189.4 1415.7,191 1413.2,192.9C1410.6,194.9 1409.4,196.6 1407.5,199C1405.7,201.3 1403.5,204.6 1402.1,207.2C1400.6,209.9 1399.7,212.1 1398.8,215C1397.9,217.8 1397.3,221.1 1397,224.2C1396.6,227.1 1396.7,230.5 1396.9,232.9C1397,235.5 1397.4,237.4 1397.8,239.2C1398.2,240.8 1397.7,240.7 1399.4,243.5C1401,246.4 1404.7,250.9 1407.9,256.3C1411.2,261.7 1415.6,269.5 1419,276.1C1422.3,282.7 1425.7,289.4 1427.9,296.2C1430,302.9 1431.1,309.6 1431.9,318.4C1432.8,327.1 1433.1,337.3 1433.4,347.4C1433.7,357.4 1433.7,373.3 1433.8,378.5M1467.5,179.4C1462.2,180 1446.3,181.4 1440.3,183C1434.3,184.6 1427.9,187.5 1423.3,189.4C1418.6,191.3 1416.8,192.9 1414.4,194.8C1412.1,196.6 1410.9,198.1 1409.2,200.4C1407.4,202.6 1405.4,205.8 1403.9,208.3C1402.6,210.8 1401.7,212.9 1400.8,215.7C1400,218.3 1399.5,221.5 1399.2,224.4C1398.8,227.2 1399,230.5 1399.1,232.8C1399.2,235.3 1399.6,237 1399.9,238.6C1400.2,240.2 1399.6,239.8 1401.2,242.5C1402.9,245.3 1406.6,249.8 1409.8,255.3C1413.1,260.7 1417.5,268.4 1420.8,275.1C1424.2,281.9 1427.6,288.6 1429.8,295.5C1431.7,302.4 1432.8,309.2 1433.7,318C1434.6,326.9 1434.8,337.2 1435.2,347.3C1435.5,357.4 1435.5,373.3 1435.6,378.5M1467.9,181.7C1462.7,182.3 1446.7,183.6 1440.7,185.3C1434.8,187 1428.6,189.7 1424.1,191.5C1419.6,193.4 1418,194.9 1415.8,196.6C1413.5,198.3 1412.5,199.7 1410.8,201.8C1409.3,203.9 1407.2,207.1 1406,209.4C1404.6,211.8 1403.7,213.8 1403,216.4C1402.2,218.9 1401.6,221.8 1401.3,224.6C1401,227.4 1401.2,230.5 1401.3,232.7C1401.4,235 1401.8,236.6 1402.1,238.1C1402.4,239.5 1401.6,238.7 1403.1,241.4C1404.8,244 1408.4,248.7 1411.7,254.1C1415,259.5 1419.5,267.3 1422.9,274.1C1426.3,280.9 1429.6,287.9 1431.6,294.8C1433.5,301.8 1434.7,308.7 1435.6,317.7C1436.5,326.7 1436.7,337 1437,347.2C1437.4,357.3 1437.4,373.2 1437.5,378.4M1401,198.2C1418.5,195.2 1434.8,183 1449.1,183M1395.5,207.8C1413,205.4 1434.8,195.7 1449.1,195.7M1392.4,217.4C1409.9,215.6 1434.8,208.3 1449.1,208.3M1391.2,226.5C1408.7,225.6 1434.8,221.9 1449.1,221.9M1391.4,235.6C1408.9,235.6 1434.8,235.6 1449.1,235.6M1393,243C1410.5,244.2 1434.8,249.3 1449.1,249.3M1396.8,250.2C1414.3,252.7 1434.8,262.8 1449.1,262.8M1401.7,257.5C1419.2,261 1434.8,274.9 1449.1,274.9M1406,264.7C1423.5,269.2 1434.8,287 1449.1,287M1411.4,274.4C1428.9,279.3 1434.8,299.1 1449.1,299.1M1416.2,284.1C1432.9,289.5 1434.8,312.2 1449.1,312.2M1420.9,294.7C1436.9,299.9 1434.8,323.2 1449.1,323.2M1424,305.5C1439.5,311.3 1434.8,334.3 1449.1,334.3M1426.4,317.1C1441.4,322.1 1434.8,342.1 1449.1,342.1M1427.3,328.8C1442.3,333 1434.8,349.8 1449.1,349.8M1427.8,338.2C1442.7,342.1 1434.8,357.6 1449.1,357.6M1428.4,347.6C1443.2,351.2 1434.8,365.3 1449.1,365.3M1428.5,356.5C1443.2,359.6 1434.8,372 1449.1,372M1428.7,365.3C1443.4,368 1434.8,378.6 1449.1,378.6M1419.4,182C1418.2,186.8 1413.4,199.7 1412.6,210.3C1411.8,220.9 1411.8,233 1414.5,245.4C1417.2,257.5 1425.4,271.2 1429.1,284.1C1432.2,297 1434.4,308.3 1435.6,325.5C1436.8,342.6 1436.2,374.4 1436.4,384.2M1433.1,176C1432.5,181.7 1429.5,198.7 1429.1,210.3C1428.6,221.9 1429.1,233 1430.7,245.4C1432.3,257.5 1437,271.2 1438.8,284.1C1440.7,297 1441.4,308.3 1442.1,325.5C1442.7,342.6 1442.7,374.4 1442.9,384.2M1446.2,171.9C1446.2,178.3 1446,198 1446.2,210.3C1446.3,222.6 1446.7,233 1447,245.4C1447.2,257.5 1447.6,271.2 1447.8,284.1C1448.2,297 1448.8,308.3 1449.1,325.5C1449.4,342.6 1449.1,374.4 1449.1,384.2M1426.7,179C1425.7,184.2 1421.5,199.2 1420.8,210.3C1420.2,221.4 1420.4,233 1422.8,245.4C1425.1,257.5 1431.4,271.2 1434,284.1C1436.5,297 1437.9,308.3 1438.8,325.5C1439.8,342.6 1439.5,374.4 1439.7,384.2M1439.7,173.9C1439.3,180 1437.8,198.4 1437.6,210.3C1437.5,222.2 1437.9,233 1438.8,245.4C1439.8,257.5 1442.3,271.2 1443.3,284.1C1444.4,297 1444.9,308.3 1445.4,325.5C1445.8,342.6 1445.7,374.4 1445.8,384.2M1406.7,192.1C1406.1,196.4 1403.1,208.5 1402.9,217.4C1402.7,226.3 1402.7,234.3 1405.8,245.4C1408.9,256.3 1417,271.2 1421.3,284.1C1425.6,297 1429.5,308.3 1431.1,325.5C1432.7,342.6 1432.2,374.4 1432.3,384.2M1449.1,183C1493,185.1 1516.4,186.6 1538.9,188.1M1449.1,192.1C1493,194.1 1516.4,195.7 1538.9,197.2M1449.1,201.2C1493,203.2 1516.4,204.8 1538.9,206.3M1449.1,211.3C1493,213.3 1516.4,214.9 1538.9,216.4M1449.1,221.4C1493,223.4 1516.4,225 1538.9,226.5M1449.1,231.5C1493,233.5 1516.4,235.1 1538.9,236.6M1478.9,241.5C1493,243.4 1516.4,244.9 1538.9,246.3M1478.9,249.7C1493,251.7 1516.4,253.1 1538.9,254.6M1478.9,258C1493,259.9 1516.4,261.3 1538.9,262.8M1478.9,266.7C1493,268.6 1516.4,270.1 1538.9,271.5M1478.9,275.4C1493,277.3 1516.4,278.8 1538.9,280.2M1478.9,284.1C1493,286 1516.4,287.5 1538.9,288.9M1478.9,292.8C1493,294.7 1516.4,296.2 1538.9,297.6M1478.9,301.5C1493,303.4 1516.4,305 1538.9,306.6M1449.1,311C1493,313.3 1516.4,314.9 1538.9,316.6M1449.1,321C1493,323.2 1516.4,324.9 1538.9,326.6M1449.1,331C1493,333.2 1516.4,334.9 1538.9,336.5M1449.1,341C1493,343.2 1516.4,344.8 1538.9,346.5M1449.1,350.9C1493,353.2 1516.4,354.8 1538.9,356.5M1449.1,359.3C1493,361.5 1516.4,363.1 1538.9,364.8M1449.1,367.6C1493,369.8 1516.4,371.4 1538.9,373.1M1452.7,168.9C1452.7,225.5 1452.7,325.5 1452.7,385.3M1457.5,168.9C1457.5,225.5 1457.5,325.5 1457.5,385.3M1462.8,168.9C1462.8,225.5 1462.8,325.5 1462.8,385.3M1468.1,168.9C1468.3,225.5 1468.3,325.5 1468,385.3M1473.8,168.9C1474.8,225.5 1474.8,325.5 1472.7,385.3M1479.4,168.9C1480.6,225.5 1480.6,325.5 1477.5,385.3M1481.9,168.9C1483.5,225.5 1483.5,325.5 1480,385.3M1484.5,168.9C1486.4,225.5 1486.4,325.5 1482.2,385.3M1487.7,168.9C1490.1,225.5 1490.1,325.5 1484.8,385.3M1490.9,168.9C1493.6,225.5 1493.6,325.5 1487.5,385.3M1494.5,168.9C1497.8,225.5 1497.8,325.5 1490.5,385.3M1498.1,168.9C1501.8,225.5 1501.8,325.5 1493.5,385.3M1503.1,168.9C1507.4,225.5 1507.4,325.5 1497.7,385.3M1508.1,168.9C1513,225.5 1513,325.5 1501.8,385.3M1513,168.9C1518.8,225.5 1518.8,325.5 1505.9,385.3M1518,168.9C1524.4,225.5 1524.4,325.5 1510,385.3M1522.8,168.9C1529.7,225.5 1529.7,325.5 1514.1,385.3M1527.6,168.9C1535.2,225.5 1535.2,325.5 1518,385.3M1532.3,168.9C1540.5,225.5 1540.5,325.5 1521.9,385.3M1447.4,242.5L1467.9,238.8L1476.7,242.2L1478.9,248.6L1478.4,295.7L1469.6,304.4L1453,302L1447.8,293.8Z" fill="none" stroke="#161616" stroke-width="0.9" stroke-opacity="0.8" /></g><path d="M1465.9,171.2C1460.5,171.8 1445.1,173.2 1438.8,175C1432.6,176.7 1425.4,179.5 1420.3,181.7C1415.1,183.9 1412.6,185.9 1409.7,188.1C1406.7,190.3 1405.1,192.4 1403,195.2C1400.8,197.9 1398.7,201.2 1397,204.2C1395.4,207.3 1394.2,209.9 1393.2,213.1C1392.3,216.4 1391.6,220.1 1391.2,223.4C1390.8,226.8 1390.9,230.5 1391.1,233.3C1391.3,236.2 1391.6,238.4 1392.2,240.5C1392.8,242.7 1392.5,243.4 1394.3,246.4C1396.2,249.5 1399.7,253.9 1403,259.3C1406.2,264.6 1410.5,272.2 1413.7,278.7C1416.9,285.1 1420.3,291.5 1422.4,298C1424.5,304.5 1425.8,310.8 1426.8,319.2C1427.7,327.7 1428,337.8 1428.4,347.6C1428.8,357.5 1428.8,373.4 1428.9,378.6L1429.5,383.6L1456.6,385.3C1462.3,385.2 1479.6,385.4 1487.7,384.7C1495.9,384.1 1505.8,382.6 1511.7,381.4C1517.6,380.2 1520.3,379.3 1523.2,377.2C1526.2,375.1 1527.9,372.4 1529.5,368.6C1531,364.7 1531.5,361.2 1532.5,353.8C1533.6,346.4 1534.9,335.8 1535.7,324.2C1536.6,312.7 1537.4,296.8 1537.8,287.3C1538.2,277.8 1538,271.9 1538,264.7C1538,257.6 1538.2,253.1 1537.8,244.3C1537.4,235.4 1536.4,218.6 1535.7,210.9C1535.1,203.1 1534.4,201.9 1533.8,198.2C1533.1,194.4 1532.3,191.1 1531.5,188.4C1530.8,185.7 1530.1,183.8 1529.1,182C1528,180.2 1527,178.7 1525.2,177.2C1523.5,175.7 1521.1,174.1 1518.3,173.1C1515.5,172.1 1513.6,171.4 1508.6,170.9C1503.7,170.4 1494.8,170.3 1488.3,170.2C1481.7,170.1 1470.2,170.1 1465.9,170.1Z" fill="none" stroke="#444" stroke-opacity="0.45" stroke-width="0.8"/></g>
<g><clipPath id="cP31"><path clip-rule="evenodd" d="M1430.8,296Q1430.8,290 1436.9,289.5L1464.6,287.5L1471.2,291L1471.2,300L1455.6,302Q1455,302.5 1455,306L1455,409C1455.2,429.7 1464.6,441.7 1477.4,441.7C1489.3,441.7 1498.5,429.7 1498.6,409L1498.3,376L1521.8,376L1521.8,656.4C1521.8,691.7 1500.7,702.5 1477,702.5C1452.5,702.5 1429.9,691.7 1429.9,656.4ZM1448.7,591.3C1460.5,588.3 1468.8,587.5 1477,587.5C1486.3,587.8 1494.8,589.8 1505,593.4L1505,652.4C1505,673.6 1492.4,686.7 1477,686.7C1460.5,686.7 1448.7,673.6 1448.7,652.4Z"/></clipPath><path fill-rule="evenodd" d="M1430.8,296Q1430.8,290 1436.9,289.5L1464.6,287.5L1471.2,291L1471.2,300L1455.6,302Q1455,302.5 1455,306L1455,409C1455.2,429.7 1464.6,441.7 1477.4,441.7C1489.3,441.7 1498.5,429.7 1498.6,409L1498.3,376L1521.8,376L1521.8,656.4C1521.8,691.7 1500.7,702.5 1477,702.5C1452.5,702.5 1429.9,691.7 1429.9,656.4ZM1448.7,591.3C1460.5,588.3 1468.8,587.5 1477,587.5C1486.3,587.8 1494.8,589.8 1505,593.4L1505,652.4C1505,673.6 1492.4,686.7 1477,686.7C1460.5,686.7 1448.7,673.6 1448.7,652.4Z" fill="url(#gP)"/><g clip-path="url(#cP31)"><path d="M1449.3,461L1479.3,456.1L1512.2,465L1511.5,594.9L1448.7,594.9Z" fill="#b5b5b5"/><path d="M1449.3,461L1479.3,456.1L1512.2,465L1512.2,469.1L1479.3,460.5L1449.3,465Z" fill="#cbcbcb"/><path d="M1505.8,465L1512.2,467L1511.5,594.9L1505.8,594.9Z" fill="#a8a8a8"/><path d="M1449.3,465L1479.3,460.5L1512.2,469.1L1512.2,476.1L1479.3,467.5L1449.3,472.1Z" fill="#000" fill-opacity="0.07"/><path d="M1455,406.9L1498.7,406.9L1512.2,465L1479.3,456.1L1449.3,461Z" fill="#bcbcbc"/><path d="M1445.5,296L1445.5,590.8M1449.1,296L1449.1,590.8M1452.1,289L1452.1,461M1501.8,376L1501.8,466M1505.3,376L1505.3,592.8M1508.6,376L1508.6,592.8M1430.5,391.3L1455,391.3M1498.3,394.4L1522.1,394.4M1430.5,408.1L1455,408.1M1498.3,411.2L1522.1,411.2M1430.5,425.1L1455,425.1M1498.3,428.2L1522.1,428.2M1430.5,442.4L1455,442.4M1498.3,445.7L1522.1,445.7M1430.5,460.8L1455,460.8M1498.3,463.8L1522.1,463.8M1430.5,482.2L1455,482.2M1498.3,485.3L1522.1,485.3M1430.5,503.6L1455,503.6M1498.3,506.6L1522.1,506.6M1430.5,523.7L1455,523.7M1498.3,526.7L1522.1,526.7M1430.5,543.8L1455,543.8M1498.3,546.8L1522.1,546.8M1430.5,563.5L1455,563.5M1498.3,566.6L1522.1,566.6M1430.5,583.3L1455,583.3M1498.3,586.3L1522.1,586.3M1430.5,587.9L1455,587.9M1498.3,590.9L1522.1,590.9M1430.5,592.5L1455,592.5M1498.3,595.6L1522.1,595.6M1430.5,595.9L1455,595.9M1498.3,598.9L1522.1,598.9M1430.5,599.2L1455,599.2M1498.3,602.2L1522.1,602.2M1430.5,608L1455,608M1498.3,611L1522.1,611M1430.5,616.9L1455,616.9M1498.3,619.9L1522.1,619.9M1430.5,631.6L1455,631.6M1498.3,634.6L1522.1,634.6M1430.5,646.3L1455,646.3M1498.3,649.4L1522.1,649.4M1430.5,653.9L1455,653.9M1498.3,656.9L1522.1,656.9M1430.5,661.5L1455,661.5M1498.3,664.5L1522.1,664.5M1430.5,306L1455,306M1430.5,321L1455,321M1430.5,336L1455,336M1430.5,348.5L1455,348.5M1430.5,361L1455,361M1448.7,484.2C1460.5,479.1 1468.8,477.1 1477.8,477.1S1496.3,480.1 1511.5,485.2M1448.7,505.6C1460.5,500.6 1468.8,498.5 1477.8,498.5S1496.3,501.6 1511.5,506.6M1448.7,525.4C1460.5,520.9 1468.8,518.9 1477.8,518.9S1496.3,521.9 1511.5,526.4M1448.7,545.8C1460.5,541.8 1468.8,539.8 1477.8,539.8S1496.3,542.8 1511.5,546.8M1448.7,567.7C1460.5,563.7 1468.8,561.6 1477.8,561.6S1496.3,564.7 1511.5,568.7M1457.2,461.5C1458.9,500.3 1460.5,550.6 1460.5,590.8M1467.5,460.5C1468.1,500.3 1468.8,550.6 1468.8,590.8M1477.8,459.4C1477.4,500.3 1477,550.6 1477,590.8M1488.2,460.6C1486.4,500.3 1484.7,550.6 1484.7,590.8M1498.7,461.7C1495.5,500.3 1492.4,550.6 1492.4,590.8M1449.3,461L1479.3,456.1L1512.2,465M1449.3,465L1479.3,460.5L1512.2,469.1M1449.3,461L1449.3,594.9M1505.8,466L1505.8,594.9M1455,411L1446.6,427.7M1456.1,420.5L1448.7,436.7M1459.3,429L1453,445M1464.3,435.9L1460.1,454.6M1470.6,440.2L1469.3,458.9M1477.5,441.7L1479.3,457.2M1483.9,440.2L1488.9,458.9M1489.8,435.9L1497.5,454.6M1494.5,429L1506.2,445M1497.5,420.5L1511.5,436.7M1498.6,411L1513.4,427.7M1453.3,411C1453.5,412.5 1453.6,416.9 1454.1,419.7C1454.6,422.4 1455.4,425.2 1456.5,427.6C1457.5,430.1 1458.8,432.4 1460.3,434.5C1461.8,436.5 1463.5,438.4 1465.4,439.7C1467.2,441.2 1469.2,442.4 1471.2,443.1C1473.2,443.9 1475.4,444.4 1477.5,444.4C1479.4,444.4 1481.5,443.9 1483.3,443.1C1485.3,442.4 1487.1,441.2 1488.9,439.7C1490.6,438.4 1492.2,436.5 1493.6,434.5C1495,432.4 1496.2,430.1 1497.1,427.6C1498.1,425.2 1499.1,422.4 1499.8,419.7C1500.5,416.9 1500.6,412.5 1500.8,411M1451.7,411C1451.8,412.6 1452,417.3 1452.5,420.3C1453,423.2 1453.9,426.2 1454.8,428.8C1456,431.5 1457.5,434.1 1459,436.3C1460.6,438.4 1462.5,440.3 1464.5,441.9C1466.4,443.6 1468.6,444.9 1470.7,445.7C1472.9,446.6 1475.3,447 1477.5,447C1479.5,447 1481.8,446.6 1483.8,445.7C1485.8,444.9 1487.9,443.6 1489.7,441.9C1491.5,440.3 1493.3,438.4 1494.8,436.3C1496.2,434.1 1497.6,431.5 1498.8,428.8C1500.1,426.2 1501.2,423.2 1502,420.3C1502.7,417.3 1502.9,412.6 1503.1,411M1450,411C1450.1,412.7 1450.3,417.7 1450.9,420.9C1451.4,424.1 1452.3,427.2 1453.4,430.2C1454.5,433 1456.1,435.7 1457.7,438.1C1459.4,440.3 1461.4,442.5 1463.5,444.3C1465.6,446 1467.9,447.4 1470.2,448.2C1472.6,449.2 1475.1,449.7 1477.5,449.7C1479.7,449.7 1482,449.2 1484.3,448.2C1486.4,447.4 1488.6,446 1490.6,444.3C1492.5,442.5 1494.4,440.3 1496,438.1C1497.5,435.7 1499.2,433 1500.7,430.2C1502.2,427.2 1503.4,424.1 1504.1,420.9C1504.9,417.7 1505.1,412.7 1505.3,411M1448.2,411C1448.4,412.8 1448.6,418.2 1449.2,421.5C1449.8,425 1450.8,428.3 1452,431.4C1453.2,434.4 1454.7,437.3 1456.5,439.7C1458.3,442.3 1460.4,444.7 1462.7,446.6C1464.8,448.4 1467.3,449.9 1469.8,450.9C1472.3,451.8 1474.9,452.3 1477.5,452.3C1479.9,452.3 1482.3,451.8 1484.6,450.9C1487,449.9 1489.3,448.4 1491.4,446.6C1493.4,444.7 1495.4,442.3 1497.1,439.7C1499,437.3 1501,434.4 1502.7,431.4C1504.2,428.3 1505.5,425 1506.2,421.5C1507,418.2 1507.2,412.8 1507.4,411M1448.9,656.8L1430.4,662.5M1449.6,661.3L1431.9,668.4M1450.7,665.5L1434.2,674.1M1452.2,669.5L1437.4,679.5M1454.1,673.3L1441.5,684.6M1456.5,676.6L1446.3,689.1M1459.3,679.6L1450.9,693M1462.4,682.1L1455.2,696.4M1465.8,684.1L1460.3,699M1469.3,685.5L1465.5,700.9M1473,686.4L1471.1,702.1M1476.7,686.7L1476.7,702.5M1480.2,686.4L1481.9,702.1M1483.6,685.5L1487.1,700.9M1486.9,684.1L1492,699M1490,682.1L1496.8,696.4M1493,679.6L1502.1,693M1495.6,676.6L1507.1,689.1M1497.9,673.3L1511.4,684.6M1500.3,669.5L1515.1,679.5M1502.4,665.5L1518,674.1M1503.8,661.3L1520.1,668.4M1504.7,656.8L1521.4,662.5M1446.1,292L1446.1,653L1446.1,653C1446.2,654.1 1446.3,657.6 1446.9,660C1447.3,662.3 1448.1,664.6 1449,666.7C1449.7,668.8 1450.6,671 1451.6,673C1452.6,674.9 1453.8,676.7 1455.1,678.4C1456.5,680 1458,681.6 1459.7,682.9C1461.3,684.2 1463.2,685.3 1465,686.2C1466.8,687.1 1468.8,687.8 1470.7,688.2C1472.6,688.7 1474.7,688.9 1476.7,688.9C1478.5,688.9 1480.5,688.7 1482.2,688.2C1484.1,687.8 1486,687.1 1487.6,686.2C1489.3,685.3 1491,684.2 1492.6,682.9C1494.1,681.6 1495.6,680 1496.9,678.4C1498.2,676.7 1499.8,674.9 1501.1,673C1502.5,671 1503.7,668.8 1504.6,666.7C1505.6,664.6 1506.2,662.3 1506.6,660C1507.1,657.6 1507.2,654.1 1507.3,653L1507.3,376M1443.4,292L1443.4,653.5L1443.4,653.5C1443.6,654.7 1443.8,658.4 1444.3,660.9C1444.8,663.3 1445.6,665.7 1446.7,667.9C1447.7,670.1 1448.9,672.4 1450.1,674.4C1451.1,676.5 1452.4,678.4 1453.8,680.1C1455.2,681.9 1456.8,683.5 1458.6,684.8C1460.4,686.2 1462.3,687.4 1464.2,688.3C1466.2,689.2 1468.3,689.9 1470.3,690.4C1472.4,690.9 1474.5,691.1 1476.7,691.1C1478.7,691.1 1480.7,690.9 1482.6,690.4C1484.6,689.9 1486.5,689.2 1488.3,688.3C1490.2,687.4 1492,686.2 1493.6,684.8C1495.3,683.5 1496.8,681.9 1498.2,680.1C1500,678.4 1501.8,676.5 1503.2,674.4C1504.7,672.4 1505.9,670.1 1506.8,667.9C1507.8,665.7 1508.5,663.3 1508.9,660.9C1509.4,658.4 1509.6,654.7 1509.7,653.5L1509.7,376M1440.7,292L1440.7,654.1L1440.7,654.1C1440.8,655.4 1440.9,659.4 1441.5,661.8C1442.1,664.3 1442.9,666.8 1444.1,669.2C1445.2,671.6 1446.7,673.9 1448.3,676C1449.5,678.1 1450.9,680.2 1452.3,682C1453.9,683.8 1455.5,685.5 1457.4,686.9C1459.3,688.3 1461.3,689.5 1463.4,690.5C1465.5,691.5 1467.7,692.2 1469.9,692.7C1472.1,693.2 1474.4,693.5 1476.7,693.5C1478.8,693.5 1480.9,693.2 1483,692.7C1485.1,692.2 1487.2,691.5 1489.1,690.5C1491.1,689.5 1493,688.3 1494.8,686.9C1496.5,685.5 1498.1,683.8 1500.1,682C1502.1,680.2 1503.9,678.1 1505.4,676C1506.8,673.9 1508.2,671.6 1509.1,669.2C1510.2,666.8 1511,664.3 1511.4,661.8C1512,659.4 1512.1,655.4 1512.2,654.1L1512.2,376M1438.7,292L1438.7,654.5L1438.7,654.5C1438.9,655.8 1439.1,659.9 1439.7,662.5C1440.2,665 1441.2,667.6 1442.4,670C1443.6,672.5 1444.9,674.9 1446.7,677.1C1448.4,679.3 1449.9,681.4 1451.4,683.3C1453,685.1 1454.7,686.8 1456.6,688.3C1458.5,689.7 1460.7,691 1462.8,692C1465,693 1467.3,693.8 1469.6,694.3C1471.9,694.8 1474.3,695.1 1476.7,695.1C1478.9,695.1 1481.2,694.8 1483.3,694.3C1485.5,693.8 1487.6,693 1489.7,692C1491.7,691 1493.7,689.7 1495.5,688.3C1497.3,686.8 1499.3,685.1 1501.3,683.3C1503.4,681.4 1505.3,679.3 1506.8,677.1C1508.4,674.9 1509.6,672.5 1510.7,670C1511.7,667.6 1512.6,665 1513.1,662.5C1513.6,659.9 1513.7,655.8 1513.9,654.5L1513.9,376M1437.1,292L1437.1,654.9L1437.1,654.9C1437.2,656.2 1437.3,660.4 1438,663C1438.6,665.7 1439.6,668.3 1440.8,670.9C1441.9,673.4 1443.6,675.8 1445.3,678C1447.1,680.3 1449,682.5 1450.6,684.4C1452.2,686.3 1453.9,688 1455.8,689.5C1457.9,691 1460.1,692.3 1462.3,693.4C1464.6,694.4 1466.9,695.2 1469.3,695.7C1471.7,696.2 1474.2,696.5 1476.7,696.5C1479,696.5 1481.3,696.2 1483.6,695.7C1485.8,695.2 1488,694.4 1490.1,693.4C1492.2,692.3 1494.3,691 1496.2,689.5C1498.1,688 1500.3,686.3 1502.5,684.4C1504.6,682.5 1506.4,680.3 1508.1,678C1509.6,675.8 1511,673.4 1512.1,670.9C1513.2,668.3 1514,665.7 1514.6,663C1515.2,660.4 1515.3,656.2 1515.5,654.9L1515.5,376M1435.2,292L1435.2,655.3L1435.2,655.3C1435.4,656.7 1435.5,661 1436.2,663.7C1436.8,666.4 1437.8,669.1 1439.1,671.7C1440.3,674.3 1441.8,676.8 1443.8,679.1C1445.6,681.5 1447.7,683.7 1449.6,685.6C1451.3,687.6 1453.1,689.4 1455.1,690.9C1457.1,692.4 1459.4,693.8 1461.8,694.8C1464.1,695.9 1466.6,696.7 1469.1,697.3C1471.6,697.8 1474.1,698.1 1476.7,698.1C1479.1,698.1 1481.5,697.8 1483.8,697.3C1486.1,696.7 1488.4,695.9 1490.7,694.8C1492.8,693.8 1495,692.4 1496.9,690.9C1499.1,689.4 1501.5,687.6 1503.8,685.6C1505.9,683.7 1507.8,681.5 1509.4,679.1C1511.1,676.8 1512.5,674.3 1513.6,671.7C1514.8,669.1 1515.7,666.4 1516.2,663.7C1516.8,661 1516.9,656.7 1517.1,655.3L1517.1,376M1433.5,292L1433.5,655.6L1433.5,655.6C1433.7,657.1 1433.8,661.5 1434.6,664.2C1435.2,667 1436.2,669.8 1437.4,672.5C1438.8,675.1 1440.4,677.7 1442.3,680C1444.2,682.5 1446.4,684.7 1448.8,686.7C1450.5,688.7 1452.4,690.6 1454.4,692.2C1456.5,693.7 1458.9,695.1 1461.3,696.2C1463.7,697.3 1466.3,698.1 1468.8,698.7C1471.4,699.2 1474,699.5 1476.7,699.5C1479.2,699.5 1481.6,699.2 1484,698.7C1486.4,698.1 1488.8,697.3 1491.1,696.2C1493.4,695.1 1495.6,693.7 1497.6,692.2C1500,690.6 1502.6,688.7 1504.9,686.7C1507,684.7 1509,682.5 1510.8,680C1512.4,677.7 1513.8,675.1 1515.1,672.5C1516.2,669.8 1517.1,667 1517.7,664.2C1518.3,661.5 1518.4,657.1 1518.6,655.6L1518.6,376M1431.8,292L1431.8,656L1431.8,656C1432,657.5 1432.2,662 1432.8,664.8C1433.6,667.7 1434.6,670.6 1435.9,673.3C1437.2,676 1438.9,678.6 1440.9,681C1442.9,683.5 1445.2,685.8 1447.6,687.9C1449.7,689.9 1451.7,691.8 1453.7,693.4C1455.8,695 1458.3,696.4 1460.8,697.5C1463.3,698.6 1466,699.5 1468.6,700.1C1471.2,700.6 1474,700.9 1476.7,700.9C1479.2,700.9 1481.8,700.6 1484.3,700.1C1486.7,699.5 1489.2,698.6 1491.6,697.5C1493.9,696.4 1496.2,695 1498.3,693.4C1501,691.8 1503.7,689.9 1506,687.9C1508.2,685.8 1510.2,683.5 1512,681C1513.7,678.6 1515.3,676 1516.4,673.3C1517.7,670.6 1518.5,667.7 1519.2,664.8C1519.8,662 1520,657.5 1520.2,656L1520.2,376" fill="none" stroke="#161616" stroke-width="0.9" stroke-opacity="0.8" /></g><path d="M1430.8,296Q1430.8,290 1436.9,289.5L1464.6,287.5L1471.2,291L1471.2,300L1455.6,302Q1455,302.5 1455,306L1455,409C1455.2,429.7 1464.6,441.7 1477.4,441.7C1489.3,441.7 1498.5,429.7 1498.6,409L1498.3,376L1521.8,376L1521.8,656.4C1521.8,691.7 1500.7,702.5 1477,702.5C1452.5,702.5 1429.9,691.7 1429.9,656.4ZM1448.7,591.3C1460.5,588.3 1468.8,587.5 1477,587.5C1486.3,587.8 1494.8,589.8 1505,593.4L1505,652.4C1505,673.6 1492.4,686.7 1477,686.7C1460.5,686.7 1448.7,673.6 1448.7,652.4Z" fill="none" stroke="#444" stroke-opacity="0.45" stroke-width="0.8"/></g>
<g transform="translate(0,167.7)"><clipPath id="cT32"><path d="M1633.6,-0.9C1633.6,-8.9 1634.4,-13.9 1637.6,-16.2C1640.3,-18.2 1647.3,-18.8 1658.2,-19L1661.2,-20.8C1666.1,-21.8 1680,-22.4 1686.9,-22.4L1706.7,-21.8Q1711.3,-21.6 1711.4,-17.9L1711.5,17.9Q1711.3,21.6 1706.7,21.9L1686.9,22.4C1677,22.4 1667.1,21.4 1662.1,19.4L1659.2,15.7C1647.3,16.3 1640.3,15.7 1637.6,13.7C1634.4,11.6 1633.6,7.1 1633.6,-0.9Z"/></clipPath><path d="M1633.6,-0.9C1633.6,-8.9 1634.4,-13.9 1637.6,-16.2C1640.3,-18.2 1647.3,-18.8 1658.2,-19L1661.2,-20.8C1666.1,-21.8 1680,-22.4 1686.9,-22.4L1706.7,-21.8Q1711.3,-21.6 1711.4,-17.9L1711.5,17.9Q1711.3,21.6 1706.7,21.9L1686.9,22.4C1677,22.4 1667.1,21.4 1662.1,19.4L1659.2,15.7C1647.3,16.3 1640.3,15.7 1637.6,13.7C1634.4,11.6 1633.6,7.1 1633.6,-0.9Z" fill="url(#gT)"/><g clip-path="url(#cT32)"><path d="M1686.9,-30L1712.7,-30L1712.7,30L1686.9,30Z" fill="#d0d0d0"/><path d="M1661.2,-22.9L1688.9,-22.9L1683.9,-6.5L1683.9,-1L1688.9,15.5L1661.2,15.5Z" fill="url(#gTn)"/><path d="M1675.5,-22.4L1690.4,-22.4L1685.9,-11.5L1681,-9.7Z" fill="#d2d2d2"/><path d="M1675.5,15L1690.4,15L1685.9,4.1L1681,2.2Z" fill="#a4a4a4"/><path d="M1633.4,-0.9C1633.4,-10.9 1635.4,-17.9 1640.3,-18.6L1660.2,-19C1664.1,-10.9 1664.1,9.1 1660.2,15.7L1640.3,15.9C1635.4,15.1 1633.4,9.1 1633.4,-0.9Z" fill="url(#gTh)"/><path d="M1660.2,15L1712.7,15L1712.7,40L1660.2,40Z" fill="#8c8c8c"/><path d="M1636.4,12.6L1660.2,13.6L1660.2,40L1636.4,40Z" fill="#000" fill-opacity="0.16"/><path d="M1633.4,-11.9C1641.3,-12.7 1651.2,-12.7 1662.1,-11.3M1633.4,-9.2C1641.3,-9.8 1651.2,-9.8 1662.1,-8.6M1633.4,-6.5C1641.3,-6.9 1651.2,-6.9 1662.1,-6M1633.4,-3.7C1641.3,-3.9 1651.2,-3.9 1662.1,-3.2M1633.4,-0.9C1641.3,-0.9 1651.2,-0.9 1662.1,-0.4M1633.4,2C1641.3,2.3 1651.2,2.3 1662.1,2.5M1633.4,5C1641.3,5.4 1651.2,5.4 1662.1,5.3M1633.4,7.6C1641.3,8.3 1651.2,8.3 1662.1,8M1633.4,10.3C1641.3,11.1 1651.2,11.1 1662.1,10.6M1640.7,-19.4C1638.5,-8.9 1638.5,7.1 1640.7,16.6M1646.8,-19.4C1644.6,-8.9 1644.6,7.1 1646.8,16.6M1652.7,-19.4C1650.5,-8.9 1650.5,7.1 1652.7,16.6M1658.7,-19.4C1656.5,-8.9 1656.5,7.1 1658.7,16.6M1662.1,-22.9C1665.6,-12 1665.6,4.5 1662.1,15.5M1663.9,-22.9C1667.4,-12 1667.4,4.5 1663.9,15.5M1665.7,-22.9C1669.2,-12 1669.2,4.5 1665.7,15.5M1667.5,-22.9C1671,-12 1671,4.5 1667.5,15.5M1669.3,-22.9C1672.7,-12 1672.7,4.5 1669.3,15.5M1671.1,-22.9C1674.5,-12 1674.5,4.5 1671.1,15.5M1672.8,-22.9C1676.3,-12 1676.3,4.5 1672.8,15.5M1674.6,-22.9C1678.1,-12 1678.1,4.5 1674.6,15.5M1662.1,-3.7C1669.1,-3 1678,-3.4 1683.9,-3.7S1701.8,-3.4 1712.7,-3.7M1662.1,-13.6C1669.1,-12.5 1676,-9.2 1683.9,-6.1M1662.1,-11.1C1669.1,-10.3 1676,-7.8 1683.9,-5.5M1662.1,-8.7C1669.1,-8.1 1676,-6.5 1683.9,-4.9M1662.1,-3.7C1669.1,-3.7 1676,-3.7 1683.9,-3.7M1662.1,1.2C1669.1,0.7 1676,-1 1683.9,-2.5M1662.1,3.7C1669.1,2.9 1676,0.4 1683.9,-1.9M1662.1,6.2C1669.1,5.1 1676,1.8 1683.9,-1.3M1690.4,-22.9C1687.4,-14.7 1684.4,-9.2 1681,-6.9M1690.4,15.5C1687.4,7.3 1684.4,1.8 1681,-0.5M1691.6,-22.9C1688.6,-14.7 1685.1,-9.2 1681.6,-6.9M1691.6,15.5C1688.6,7.3 1685.1,1.8 1681.6,-0.5M1692.8,-22.9C1689.8,-14.7 1685.8,-9.2 1682.2,-6.9M1692.8,15.5C1689.8,7.3 1685.8,1.8 1682.2,-0.5M1694,-22.9C1691,-14.7 1686.6,-9.2 1682.8,-6.9M1694,15.5C1691,7.3 1686.6,1.8 1682.8,-0.5M1695.1,-22.9C1692.2,-14.7 1687.3,-9.2 1683.4,-6.9M1695.1,15.5C1692.2,7.3 1687.3,1.8 1683.4,-0.5M1675.5,-22.4L1681,-9.7L1685.9,-11.5M1675.5,15L1681,2.2L1685.9,4.1M1681,-9.7C1679.5,-5.6 1679.5,-1.9 1681,2.2M1683.9,-7.4C1683,-4.6 1683,-2.8 1683.9,-0.1M1693.4,-23.4L1693.4,16M1695.3,-23.4L1695.3,16M1697.3,-23.4L1697.3,16M1700,-23.4L1700,16M1702.8,-23.4L1702.8,16M1707.1,-23.4L1707.1,16M1688.9,-19.7C1695.8,-18 1704.8,-18 1712.7,-18M1688.9,-11.7C1695.8,-10.9 1704.8,-10.9 1712.7,-10.9M1688.9,4.1C1695.8,3.2 1704.8,3.2 1712.7,3.2M1688.9,11.9C1695.8,10.2 1704.8,10.2 1712.7,10.2M1690.2,-13.4C1693.9,-14.4 1703.8,-14.4 1712.7,-14.4M1688.4,-10.1C1693.9,-10.9 1703.8,-10.9 1712.7,-10.9M1686.7,-6.9C1693.9,-7.3 1703.8,-7.3 1712.7,-7.3M1686.7,-0.5C1693.9,-0.1 1703.8,-0.1 1712.7,-0.1M1688.4,2.7C1693.9,3.4 1703.8,3.4 1712.7,3.4M1690.2,5.9C1693.9,7 1703.8,7 1712.7,7M1678.5,-22.4L1682.1,-10.1M1678.5,15L1682.1,2.7M1681.5,-22.4L1683.2,-10.1M1681.5,15L1683.2,2.7M1684.4,-22.4L1684.1,-10.1M1684.4,15L1684.1,2.7M1687.4,-22.4L1685.2,-10.1M1687.4,15L1685.2,2.7M1676.9,-19.3L1689.1,-19.3M1676.9,11.8L1689.1,11.8M1678.3,-16.1L1687.8,-16.1M1678.3,8.6L1687.8,8.6M1679.7,-12.9L1686.4,-12.9M1679.7,5.4L1686.4,5.4M1690.4,-22.9C1685.9,-11 1685.9,3.6 1690.4,15.5M1693.4,-22.9C1688.9,-11 1688.9,3.6 1693.4,15.5M1661.2,15L1712.7,15M1661.2,-22.4L1712.7,-22.4" fill="none" stroke="#161616" stroke-width="1.0" stroke-opacity="0.85" /></g><path d="M1633.6,-0.9C1633.6,-8.9 1634.4,-13.9 1637.6,-16.2C1640.3,-18.2 1647.3,-18.8 1658.2,-19L1661.2,-20.8C1666.1,-21.8 1680,-22.4 1686.9,-22.4L1706.7,-21.8Q1711.3,-21.6 1711.4,-17.9L1711.5,17.9Q1711.3,21.6 1706.7,21.9L1686.9,22.4C1677,22.4 1667.1,21.4 1662.1,19.4L1659.2,15.7C1647.3,16.3 1640.3,15.7 1637.6,13.7C1634.4,11.6 1633.6,7.1 1633.6,-0.9Z" fill="none" stroke="#444" stroke-opacity="0.4" stroke-width="0.8"/></g><g transform="translate(0,221.2)"><clipPath id="cT33"><path d="M1633.6,-0.8C1633.6,-8.8 1634.4,-13.8 1637.6,-16.1C1640.3,-18.1 1647.3,-18.7 1658.2,-18.9L1661.2,-20.8C1666.1,-21.8 1680,-22.4 1686.9,-22.4L1706.7,-21.8Q1711.3,-21.6 1711.4,-17.9L1711.5,17.9Q1711.3,21.6 1706.7,21.9L1686.9,22.4C1677,22.4 1667.1,21.4 1662.1,19.4L1659.2,15.8C1647.3,16.4 1640.3,15.8 1637.6,13.8C1634.4,11.7 1633.6,7.2 1633.6,-0.8Z"/></clipPath><path d="M1633.6,-0.8C1633.6,-8.8 1634.4,-13.8 1637.6,-16.1C1640.3,-18.1 1647.3,-18.7 1658.2,-18.9L1661.2,-20.8C1666.1,-21.8 1680,-22.4 1686.9,-22.4L1706.7,-21.8Q1711.3,-21.6 1711.4,-17.9L1711.5,17.9Q1711.3,21.6 1706.7,21.9L1686.9,22.4C1677,22.4 1667.1,21.4 1662.1,19.4L1659.2,15.8C1647.3,16.4 1640.3,15.8 1637.6,13.8C1634.4,11.7 1633.6,7.2 1633.6,-0.8Z" fill="url(#gT)"/><g clip-path="url(#cT33)"><path d="M1686.9,-30L1712.7,-30L1712.7,30L1686.9,30Z" fill="#d0d0d0"/><path d="M1661.2,-23L1688.9,-23L1683.9,-6.2L1683.9,-0.6L1688.9,16.1L1661.2,16.1Z" fill="url(#gTn)"/><path d="M1675.5,-22.4L1690.4,-22.4L1685.9,-11.3L1681,-9.5Z" fill="#d2d2d2"/><path d="M1675.5,15.6L1690.4,15.6L1685.9,4.5L1681,2.6Z" fill="#a4a4a4"/><path d="M1633.4,-0.8C1633.4,-10.8 1635.4,-17.8 1640.3,-18.5L1660.2,-18.9C1664.1,-10.8 1664.1,9.2 1660.2,15.8L1640.3,16C1635.4,15.2 1633.4,9.2 1633.4,-0.8Z" fill="url(#gTh)"/><path d="M1660.2,15.6L1712.7,15.6L1712.7,40L1660.2,40Z" fill="#8c8c8c"/><path d="M1636.4,12.7L1660.2,13.7L1660.2,40L1636.4,40Z" fill="#000" fill-opacity="0.16"/><path d="M1633.4,-11.8C1641.3,-12.6 1651.2,-12.6 1662.1,-11.3M1633.4,-9.1C1641.3,-9.7 1651.2,-9.7 1662.1,-8.6M1633.4,-6.4C1641.3,-6.8 1651.2,-6.8 1662.1,-5.9M1633.4,-3.6C1641.3,-3.8 1651.2,-3.8 1662.1,-3.2M1633.4,-0.8C1641.3,-0.8 1651.2,-0.8 1662.1,-0.4M1633.4,2.1C1641.3,2.3 1651.2,2.3 1662.1,2.5M1633.4,5C1641.3,5.5 1651.2,5.5 1662.1,5.4M1633.4,7.7C1641.3,8.3 1651.2,8.3 1662.1,8M1633.4,10.3C1641.3,11.2 1651.2,11.2 1662.1,10.6M1640.7,-19.3C1638.5,-8.8 1638.5,7.2 1640.7,16.7M1646.8,-19.3C1644.6,-8.8 1644.6,7.2 1646.8,16.7M1652.7,-19.3C1650.5,-8.8 1650.5,7.2 1652.7,16.7M1658.7,-19.3C1656.5,-8.8 1656.5,7.2 1658.7,16.7M1662.1,-23C1665.6,-11.8 1665.6,5 1662.1,16.1M1663.9,-23C1667.4,-11.8 1667.4,5 1663.9,16.1M1665.7,-23C1669.2,-11.8 1669.2,5 1665.7,16.1M1667.5,-23C1671,-11.8 1671,5 1667.5,16.1M1669.3,-23C1672.7,-11.8 1672.7,5 1669.3,16.1M1671.1,-23C1674.5,-11.8 1674.5,5 1671.1,16.1M1672.8,-23C1676.3,-11.8 1676.3,5 1672.8,16.1M1674.6,-23C1678.1,-11.8 1678.1,5 1674.6,16.1M1662.1,-3.4C1669.1,-2.7 1678,-3 1683.9,-3.4S1701.8,-3 1712.7,-3.4M1662.1,-13.5C1669.1,-12.3 1676,-9 1683.9,-5.9M1662.1,-11C1669.1,-10.1 1676,-7.6 1683.9,-5.3M1662.1,-8.4C1669.1,-7.9 1676,-6.2 1683.9,-4.6M1662.1,-3.4C1669.1,-3.4 1676,-3.4 1683.9,-3.4M1662.1,1.6C1669.1,1.1 1676,-0.6 1683.9,-2.2M1662.1,4.1C1669.1,3.3 1676,0.8 1683.9,-1.6M1662.1,6.6C1669.1,5.5 1676,2.2 1683.9,-1M1690.4,-23C1687.4,-14.6 1684.4,-9 1681,-6.7M1690.4,16.1C1687.4,7.8 1684.4,2.2 1681,-0.2M1691.6,-23C1688.6,-14.6 1685.1,-9 1681.6,-6.7M1691.6,16.1C1688.6,7.8 1685.1,2.2 1681.6,-0.2M1692.8,-23C1689.8,-14.6 1685.8,-9 1682.2,-6.7M1692.8,16.1C1689.8,7.8 1685.8,2.2 1682.2,-0.2M1694,-23C1691,-14.6 1686.6,-9 1682.8,-6.7M1694,16.1C1691,7.8 1686.6,2.2 1682.8,-0.2M1695.1,-23C1692.2,-14.6 1687.3,-9 1683.4,-6.7M1695.1,16.1C1692.2,7.8 1687.3,2.2 1683.4,-0.2M1675.5,-22.4L1681,-9.5L1685.9,-11.3M1675.5,15.6L1681,2.6L1685.9,4.5M1681,-9.5C1679.5,-5.3 1679.5,-1.5 1681,2.6M1683.9,-7.1C1683,-4.3 1683,-2.5 1683.9,0.3M1693.4,-23.4L1693.4,16.6M1695.3,-23.4L1695.3,16.6M1697.3,-23.4L1697.3,16.6M1700,-23.4L1700,16.6M1702.8,-23.4L1702.8,16.6M1707.1,-23.4L1707.1,16.6M1688.9,-19.7C1695.8,-17.9 1704.8,-17.9 1712.7,-17.9M1688.9,-11.5C1695.8,-10.7 1704.8,-10.7 1712.7,-10.7M1688.9,4.5C1695.8,3.7 1704.8,3.7 1712.7,3.7M1688.9,12.4C1695.8,10.7 1704.8,10.7 1712.7,10.7M1690.2,-13.2C1693.9,-14.3 1703.8,-14.3 1712.7,-14.3M1688.4,-9.9C1693.9,-10.7 1703.8,-10.7 1712.7,-10.7M1686.7,-6.7C1693.9,-7 1703.8,-7 1712.7,-7M1686.7,-0.1C1693.9,0.2 1703.8,0.2 1712.7,0.2M1688.4,3.1C1693.9,3.9 1703.8,3.9 1712.7,3.9M1690.2,6.4C1693.9,7.5 1703.8,7.5 1712.7,7.5M1678.5,-22.4L1682.1,-9.9M1678.5,15.6L1682.1,3.1M1681.5,-22.4L1683.2,-9.9M1681.5,15.6L1683.2,3.1M1684.4,-22.4L1684.1,-9.9M1684.4,15.6L1684.1,3.1M1687.4,-22.4L1685.2,-9.9M1687.4,15.6L1685.2,3.1M1676.9,-19.2L1689.1,-19.2M1676.9,12.4L1689.1,12.4M1678.3,-16L1687.8,-16M1678.3,9.2L1687.8,9.2M1679.7,-12.7L1686.4,-12.7M1679.7,5.9L1686.4,5.9M1690.4,-23C1685.9,-10.9 1685.9,4 1690.4,16.1M1693.4,-23C1688.9,-10.9 1688.9,4 1693.4,16.1M1661.2,15.6L1712.7,15.6M1661.2,-22.4L1712.7,-22.4" fill="none" stroke="#161616" stroke-width="1.0" stroke-opacity="0.85" /></g><path d="M1633.6,-0.8C1633.6,-8.8 1634.4,-13.8 1637.6,-16.1C1640.3,-18.1 1647.3,-18.7 1658.2,-18.9L1661.2,-20.8C1666.1,-21.8 1680,-22.4 1686.9,-22.4L1706.7,-21.8Q1711.3,-21.6 1711.4,-17.9L1711.5,17.9Q1711.3,21.6 1706.7,21.9L1686.9,22.4C1677,22.4 1667.1,21.4 1662.1,19.4L1659.2,15.8C1647.3,16.4 1640.3,15.8 1637.6,13.8C1634.4,11.7 1633.6,7.2 1633.6,-0.8Z" fill="none" stroke="#444" stroke-opacity="0.4" stroke-width="0.8"/></g><g transform="translate(0,274.7)"><clipPath id="cT34"><path d="M1633.6,-0.7C1633.6,-8.7 1634.4,-13.7 1637.6,-16C1640.3,-18 1647.3,-18.6 1658.2,-18.8L1661.2,-20.8C1666.1,-21.8 1680,-22.4 1686.9,-22.4L1706.7,-21.8Q1711.3,-21.6 1711.4,-17.9L1711.5,17.9Q1711.3,21.6 1706.7,21.9L1686.9,22.4C1677,22.4 1667.1,21.4 1662.1,19.4L1659.2,15.9C1647.3,16.5 1640.3,15.9 1637.6,13.9C1634.4,11.8 1633.6,7.3 1633.6,-0.7Z"/></clipPath><path d="M1633.6,-0.7C1633.6,-8.7 1634.4,-13.7 1637.6,-16C1640.3,-18 1647.3,-18.6 1658.2,-18.8L1661.2,-20.8C1666.1,-21.8 1680,-22.4 1686.9,-22.4L1706.7,-21.8Q1711.3,-21.6 1711.4,-17.9L1711.5,17.9Q1711.3,21.6 1706.7,21.9L1686.9,22.4C1677,22.4 1667.1,21.4 1662.1,19.4L1659.2,15.9C1647.3,16.5 1640.3,15.9 1637.6,13.9C1634.4,11.8 1633.6,7.3 1633.6,-0.7Z" fill="url(#gT)"/><g clip-path="url(#cT34)"><path d="M1686.9,-30L1712.7,-30L1712.7,30L1686.9,30Z" fill="#d0d0d0"/><path d="M1661.2,-23L1688.9,-23L1683.9,-5.9L1683.9,-0.3L1688.9,16.8L1661.2,16.8Z" fill="url(#gTn)"/><path d="M1675.5,-22.4L1690.4,-22.4L1685.9,-11.1L1681,-9.2Z" fill="#d2d2d2"/><path d="M1675.5,16.2L1690.4,16.2L1685.9,4.9L1681,3Z" fill="#a4a4a4"/><path d="M1633.4,-0.7C1633.4,-10.7 1635.4,-17.7 1640.3,-18.4L1660.2,-18.8C1664.1,-10.7 1664.1,9.3 1660.2,15.9L1640.3,16.1C1635.4,15.3 1633.4,9.3 1633.4,-0.7Z" fill="url(#gTh)"/><path d="M1660.2,16.2L1712.7,16.2L1712.7,40L1660.2,40Z" fill="#8c8c8c"/><path d="M1636.4,12.8L1660.2,13.8L1660.2,40L1636.4,40Z" fill="#000" fill-opacity="0.16"/><path d="M1633.4,-11.7C1641.3,-12.5 1651.2,-12.5 1662.1,-11.2M1633.4,-9C1641.3,-9.6 1651.2,-9.6 1662.1,-8.6M1633.4,-6.3C1641.3,-6.7 1651.2,-6.7 1662.1,-5.9M1633.4,-3.5C1641.3,-3.7 1651.2,-3.7 1662.1,-3.1M1633.4,-0.7C1641.3,-0.7 1651.2,-0.7 1662.1,-0.4M1633.4,2.2C1641.3,2.4 1651.2,2.4 1662.1,2.5M1633.4,5.1C1641.3,5.6 1651.2,5.6 1662.1,5.4M1633.4,7.8C1641.3,8.4 1651.2,8.4 1662.1,8M1633.4,10.4C1641.3,11.3 1651.2,11.3 1662.1,10.7M1640.7,-19.2C1638.5,-8.7 1638.5,7.3 1640.7,16.8M1646.8,-19.2C1644.6,-8.7 1644.6,7.3 1646.8,16.8M1652.7,-19.2C1650.5,-8.7 1650.5,7.3 1652.7,16.8M1658.7,-19.2C1656.5,-8.7 1656.5,7.3 1658.7,16.8M1662.1,-23C1665.6,-11.6 1665.6,5.4 1662.1,16.8M1663.9,-23C1667.4,-11.6 1667.4,5.4 1663.9,16.8M1665.7,-23C1669.2,-11.6 1669.2,5.4 1665.7,16.8M1667.5,-23C1671,-11.6 1671,5.4 1667.5,16.8M1669.3,-23C1672.7,-11.6 1672.7,5.4 1669.3,16.8M1671.1,-23C1674.5,-11.6 1674.5,5.4 1671.1,16.8M1672.8,-23C1676.3,-11.6 1676.3,5.4 1672.8,16.8M1674.6,-23C1678.1,-11.6 1678.1,5.4 1674.6,16.8M1662.1,-3.1C1669.1,-2.3 1678,-2.7 1683.9,-3.1S1701.8,-2.7 1712.7,-3.1M1662.1,-13.3C1669.1,-12.2 1676,-8.8 1683.9,-5.6M1662.1,-10.8C1669.1,-9.9 1676,-7.4 1683.9,-5M1662.1,-8.2C1669.1,-7.6 1676,-5.9 1683.9,-4.3M1662.1,-3.1C1669.1,-3.1 1676,-3.1 1683.9,-3.1M1662.1,2C1669.1,1.4 1676,-0.3 1683.9,-1.9M1662.1,4.6C1669.1,3.7 1676,1.2 1683.9,-1.2M1662.1,7.1C1669.1,6 1676,2.6 1683.9,-0.6M1690.4,-23C1687.4,-14.5 1684.4,-8.8 1681,-6.4M1690.4,16.8C1687.4,8.3 1684.4,2.6 1681,0.2M1691.6,-23C1688.6,-14.5 1685.1,-8.8 1681.6,-6.4M1691.6,16.8C1688.6,8.3 1685.1,2.6 1681.6,0.2M1692.8,-23C1689.8,-14.5 1685.8,-8.8 1682.2,-6.4M1692.8,16.8C1689.8,8.3 1685.8,2.6 1682.2,0.2M1694,-23C1691,-14.5 1686.6,-8.8 1682.8,-6.4M1694,16.8C1691,8.3 1686.6,2.6 1682.8,0.2M1695.1,-23C1692.2,-14.5 1687.3,-8.8 1683.4,-6.4M1695.1,16.8C1692.2,8.3 1687.3,2.6 1683.4,0.2M1675.5,-22.4L1681,-9.2L1685.9,-11.1M1675.5,16.2L1681,3L1685.9,4.9M1681,-9.2C1679.5,-5 1679.5,-1.2 1681,3M1683.9,-6.9C1683,-4 1683,-2.2 1683.9,0.7M1693.4,-23.4L1693.4,17.2M1695.3,-23.4L1695.3,17.2M1697.3,-23.4L1697.3,17.2M1700,-23.4L1700,17.2M1702.8,-23.4L1702.8,17.2M1707.1,-23.4L1707.1,17.2M1688.9,-19.6C1695.8,-17.9 1704.8,-17.9 1712.7,-17.9M1688.9,-11.4C1695.8,-10.5 1704.8,-10.5 1712.7,-10.5M1688.9,5C1695.8,4.1 1704.8,4.1 1712.7,4.1M1688.9,13C1695.8,11.3 1704.8,11.3 1712.7,11.3M1690.2,-13.1C1693.9,-14.2 1703.8,-14.2 1712.7,-14.2M1688.4,-9.7C1693.9,-10.5 1703.8,-10.5 1712.7,-10.5M1686.7,-6.4C1693.9,-6.8 1703.8,-6.8 1712.7,-6.8M1686.7,0.2C1693.9,0.6 1703.8,0.6 1712.7,0.6M1688.4,3.5C1693.9,4.3 1703.8,4.3 1712.7,4.3M1690.2,6.9C1693.9,8 1703.8,8 1712.7,8M1678.5,-22.4L1682.1,-9.7M1678.5,16.2L1682.1,3.5M1681.5,-22.4L1683.2,-9.7M1681.5,16.2L1683.2,3.5M1684.4,-22.4L1684.1,-9.7M1684.4,16.2L1684.1,3.5M1687.4,-22.4L1685.2,-9.7M1687.4,16.2L1685.2,3.5M1676.9,-19.2L1689.1,-19.2M1676.9,13L1689.1,13M1678.3,-15.9L1687.8,-15.9M1678.3,9.7L1687.8,9.7M1679.7,-12.6L1686.4,-12.6M1679.7,6.4L1686.4,6.4M1690.4,-23C1685.9,-10.7 1685.9,4.5 1690.4,16.8M1693.4,-23C1688.9,-10.7 1688.9,4.5 1693.4,16.8M1661.2,16.2L1712.7,16.2M1661.2,-22.4L1712.7,-22.4" fill="none" stroke="#161616" stroke-width="1.0" stroke-opacity="0.85" /></g><path d="M1633.6,-0.7C1633.6,-8.7 1634.4,-13.7 1637.6,-16C1640.3,-18 1647.3,-18.6 1658.2,-18.8L1661.2,-20.8C1666.1,-21.8 1680,-22.4 1686.9,-22.4L1706.7,-21.8Q1711.3,-21.6 1711.4,-17.9L1711.5,17.9Q1711.3,21.6 1706.7,21.9L1686.9,22.4C1677,22.4 1667.1,21.4 1662.1,19.4L1659.2,15.9C1647.3,16.5 1640.3,15.9 1637.6,13.9C1634.4,11.8 1633.6,7.3 1633.6,-0.7Z" fill="none" stroke="#444" stroke-opacity="0.4" stroke-width="0.8"/></g><g transform="translate(0,328.2)"><clipPath id="cT35"><path d="M1633.6,-0.7C1633.6,-8.7 1634.4,-13.7 1637.6,-16C1640.3,-18 1647.3,-18.6 1658.2,-18.8L1661.2,-20.8C1666.1,-21.8 1680,-22.4 1686.9,-22.4L1706.7,-21.8Q1711.3,-21.6 1711.4,-17.9L1711.5,17.9Q1711.3,21.6 1706.7,21.9L1686.9,22.4C1677,22.4 1667.1,21.4 1662.1,19.4L1659.2,15.9C1647.3,16.5 1640.3,15.9 1637.6,13.9C1634.4,11.8 1633.6,7.3 1633.6,-0.7Z"/></clipPath><path d="M1633.6,-0.7C1633.6,-8.7 1634.4,-13.7 1637.6,-16C1640.3,-18 1647.3,-18.6 1658.2,-18.8L1661.2,-20.8C1666.1,-21.8 1680,-22.4 1686.9,-22.4L1706.7,-21.8Q1711.3,-21.6 1711.4,-17.9L1711.5,17.9Q1711.3,21.6 1706.7,21.9L1686.9,22.4C1677,22.4 1667.1,21.4 1662.1,19.4L1659.2,15.9C1647.3,16.5 1640.3,15.9 1637.6,13.9C1634.4,11.8 1633.6,7.3 1633.6,-0.7Z" fill="url(#gT)"/><g clip-path="url(#cT35)"><path d="M1686.9,-30L1712.7,-30L1712.7,30L1686.9,30Z" fill="#d0d0d0"/><path d="M1661.2,-23L1688.9,-23L1683.9,-5.7L1683.9,0.1L1688.9,17.4L1661.2,17.4Z" fill="url(#gTn)"/><path d="M1675.5,-22.4L1690.4,-22.4L1685.9,-11L1681,-9Z" fill="#d2d2d2"/><path d="M1675.5,16.8L1690.4,16.8L1685.9,5.4L1681,3.5Z" fill="#a4a4a4"/><path d="M1633.4,-0.7C1633.4,-10.7 1635.4,-17.7 1640.3,-18.4L1660.2,-18.8C1664.1,-10.7 1664.1,9.3 1660.2,15.9L1640.3,16.1C1635.4,15.3 1633.4,9.3 1633.4,-0.7Z" fill="url(#gTh)"/><path d="M1660.2,16.8L1712.7,16.8L1712.7,40L1660.2,40Z" fill="#8c8c8c"/><path d="M1636.4,12.8L1660.2,13.8L1660.2,40L1636.4,40Z" fill="#000" fill-opacity="0.16"/><path d="M1633.4,-11.6C1641.3,-12.5 1651.2,-12.5 1662.1,-11.2M1633.4,-8.9C1641.3,-9.6 1651.2,-9.6 1662.1,-8.5M1633.4,-6.2C1641.3,-6.7 1651.2,-6.7 1662.1,-5.9M1633.4,-3.5C1641.3,-3.7 1651.2,-3.7 1662.1,-3.1M1633.4,-0.7C1641.3,-0.7 1651.2,-0.7 1662.1,-0.3M1633.4,2.3C1641.3,2.5 1651.2,2.5 1662.1,2.6M1633.4,5.2C1641.3,5.6 1651.2,5.6 1662.1,5.5M1633.4,7.8C1641.3,8.5 1651.2,8.5 1662.1,8.1M1633.4,10.5C1641.3,11.3 1651.2,11.3 1662.1,10.7M1640.7,-19.2C1638.5,-8.7 1638.5,7.3 1640.7,16.8M1646.8,-19.2C1644.6,-8.7 1644.6,7.3 1646.8,16.8M1652.7,-19.2C1650.5,-8.7 1650.5,7.3 1652.7,16.8M1658.7,-19.2C1656.5,-8.7 1656.5,7.3 1658.7,16.8M1662.1,-23C1665.6,-11.4 1665.6,5.9 1662.1,17.4M1663.9,-23C1667.4,-11.4 1667.4,5.9 1663.9,17.4M1665.7,-23C1669.2,-11.4 1669.2,5.9 1665.7,17.4M1667.5,-23C1671,-11.4 1671,5.9 1667.5,17.4M1669.3,-23C1672.7,-11.4 1672.7,5.9 1669.3,17.4M1671.1,-23C1674.5,-11.4 1674.5,5.9 1671.1,17.4M1672.8,-23C1676.3,-11.4 1676.3,5.9 1672.8,17.4M1674.6,-23C1678.1,-11.4 1678.1,5.9 1674.6,17.4M1662.1,-2.8C1669.1,-2 1678,-2.4 1683.9,-2.8S1701.8,-2.4 1712.7,-2.8M1662.1,-13.2C1669.1,-12 1676,-8.6 1683.9,-5.3M1662.1,-10.6C1669.1,-9.7 1676,-7.1 1683.9,-4.7M1662.1,-8C1669.1,-7.4 1676,-5.7 1683.9,-4.1M1662.1,-2.8C1669.1,-2.8 1676,-2.8 1683.9,-2.8M1662.1,2.4C1669.1,1.8 1676,0.1 1683.9,-1.5M1662.1,5C1669.1,4.1 1676,1.5 1683.9,-0.9M1662.1,7.6C1669.1,6.4 1676,3 1683.9,-0.3M1690.4,-23C1687.4,-14.3 1684.4,-8.6 1681,-6.2M1690.4,17.4C1687.4,8.7 1684.4,3 1681,0.6M1691.6,-23C1688.6,-14.3 1685.1,-8.6 1681.6,-6.2M1691.6,17.4C1688.6,8.7 1685.1,3 1681.6,0.6M1692.8,-23C1689.8,-14.3 1685.8,-8.6 1682.2,-6.2M1692.8,17.4C1689.8,8.7 1685.8,3 1682.2,0.6M1694,-23C1691,-14.3 1686.6,-8.6 1682.8,-6.2M1694,17.4C1691,8.7 1686.6,3 1682.8,0.6M1695.1,-23C1692.2,-14.3 1687.3,-8.6 1683.4,-6.2M1695.1,17.4C1692.2,8.7 1687.3,3 1683.4,0.6M1675.5,-22.4L1681,-9L1685.9,-11M1675.5,16.8L1681,3.5L1685.9,5.4M1681,-9C1679.5,-4.7 1679.5,-0.9 1681,3.5M1683.9,-6.6C1683,-3.8 1683,-1.8 1683.9,1.1M1693.4,-23.4L1693.4,17.8M1695.3,-23.4L1695.3,17.8M1697.3,-23.4L1697.3,17.8M1700,-23.4L1700,17.8M1702.8,-23.4L1702.8,17.8M1707.1,-23.4L1707.1,17.8M1688.9,-19.6C1695.8,-17.8 1704.8,-17.8 1712.7,-17.8M1688.9,-11.2C1695.8,-10.3 1704.8,-10.3 1712.7,-10.3M1688.9,5.4C1695.8,4.5 1704.8,4.5 1712.7,4.5M1688.9,13.6C1695.8,11.8 1704.8,11.8 1712.7,11.8M1690.2,-12.9C1693.9,-14 1703.8,-14 1712.7,-14M1688.4,-9.5C1693.9,-10.3 1703.8,-10.3 1712.7,-10.3M1686.7,-6.2C1693.9,-6.5 1703.8,-6.5 1712.7,-6.5M1686.7,0.6C1693.9,1 1703.8,1 1712.7,1M1688.4,4C1693.9,4.7 1703.8,4.7 1712.7,4.7M1690.2,7.3C1693.9,8.5 1703.8,8.5 1712.7,8.5M1678.5,-22.4L1682.1,-9.5M1678.5,16.8L1682.1,3.9M1681.5,-22.4L1683.2,-9.5M1681.5,16.8L1683.2,3.9M1684.4,-22.4L1684.1,-9.5M1684.4,16.8L1684.1,3.9M1687.4,-22.4L1685.2,-9.5M1687.4,16.8L1685.2,3.9M1676.9,-19.1L1689.1,-19.1M1676.9,13.6L1689.1,13.6M1678.3,-15.8L1687.8,-15.8M1678.3,10.2L1687.8,10.2M1679.7,-12.4L1686.4,-12.4M1679.7,6.8L1686.4,6.8M1690.4,-23C1685.9,-10.5 1685.9,4.9 1690.4,17.4M1693.4,-23C1688.9,-10.5 1688.9,4.9 1693.4,17.4M1661.2,16.8L1712.7,16.8M1661.2,-22.4L1712.7,-22.4" fill="none" stroke="#161616" stroke-width="1.0" stroke-opacity="0.85" /></g><path d="M1633.6,-0.7C1633.6,-8.7 1634.4,-13.7 1637.6,-16C1640.3,-18 1647.3,-18.6 1658.2,-18.8L1661.2,-20.8C1666.1,-21.8 1680,-22.4 1686.9,-22.4L1706.7,-21.8Q1711.3,-21.6 1711.4,-17.9L1711.5,17.9Q1711.3,21.6 1706.7,21.9L1686.9,22.4C1677,22.4 1667.1,21.4 1662.1,19.4L1659.2,15.9C1647.3,16.5 1640.3,15.9 1637.6,13.9C1634.4,11.8 1633.6,7.3 1633.6,-0.7Z" fill="none" stroke="#444" stroke-opacity="0.4" stroke-width="0.8"/></g><g transform="translate(0,381.7)"><clipPath id="cT36"><path d="M1633.6,-0.6C1633.6,-8.6 1634.4,-13.6 1637.6,-15.9C1640.3,-17.9 1647.3,-18.5 1658.2,-18.7L1661.2,-20.8C1666.1,-21.8 1680,-22.4 1686.9,-22.4L1706.7,-21.8Q1711.3,-21.6 1711.4,-17.9L1711.5,17.9Q1711.3,21.6 1706.7,21.9L1686.9,22.4C1677,22.4 1667.1,21.4 1662.1,19.4L1659.2,16C1647.3,16.6 1640.3,16 1637.6,14C1634.4,11.9 1633.6,7.4 1633.6,-0.6Z"/></clipPath><path d="M1633.6,-0.6C1633.6,-8.6 1634.4,-13.6 1637.6,-15.9C1640.3,-17.9 1647.3,-18.5 1658.2,-18.7L1661.2,-20.8C1666.1,-21.8 1680,-22.4 1686.9,-22.4L1706.7,-21.8Q1711.3,-21.6 1711.4,-17.9L1711.5,17.9Q1711.3,21.6 1706.7,21.9L1686.9,22.4C1677,22.4 1667.1,21.4 1662.1,19.4L1659.2,16C1647.3,16.6 1640.3,16 1637.6,14C1634.4,11.9 1633.6,7.4 1633.6,-0.6Z" fill="url(#gT)"/><g clip-path="url(#cT36)"><path d="M1686.9,-30L1712.7,-30L1712.7,30L1686.9,30Z" fill="#d0d0d0"/><path d="M1661.2,-23L1688.9,-23L1683.9,-5.4L1683.9,0.4L1688.9,18L1661.2,18Z" fill="url(#gTn)"/><path d="M1675.5,-22.4L1690.4,-22.4L1685.9,-10.8L1681,-8.8Z" fill="#d2d2d2"/><path d="M1675.5,17.4L1690.4,17.4L1685.9,5.8L1681,3.9Z" fill="#a4a4a4"/><path d="M1633.4,-0.6C1633.4,-10.6 1635.4,-17.6 1640.3,-18.3L1660.2,-18.7C1664.1,-10.6 1664.1,9.4 1660.2,16L1640.3,16.2C1635.4,15.4 1633.4,9.4 1633.4,-0.6Z" fill="url(#gTh)"/><path d="M1660.2,17.4L1712.7,17.4L1712.7,40L1660.2,40Z" fill="#8c8c8c"/><path d="M1636.4,12.9L1660.2,13.9L1660.2,40L1636.4,40Z" fill="#000" fill-opacity="0.16"/><path d="M1633.4,-11.6C1641.3,-12.4 1651.2,-12.4 1662.1,-11.2M1633.4,-8.9C1641.3,-9.5 1651.2,-9.5 1662.1,-8.5M1633.4,-6.2C1641.3,-6.6 1651.2,-6.6 1662.1,-5.8M1633.4,-3.4C1641.3,-3.6 1651.2,-3.6 1662.1,-3.1M1633.4,-0.6C1641.3,-0.6 1651.2,-0.6 1662.1,-0.3M1633.4,2.3C1641.3,2.6 1651.2,2.6 1662.1,2.6M1633.4,5.3C1641.3,5.7 1651.2,5.7 1662.1,5.5M1633.4,7.9C1641.3,8.6 1651.2,8.6 1662.1,8.1M1633.4,10.6C1641.3,11.4 1651.2,11.4 1662.1,10.7M1640.7,-19.1C1638.5,-8.6 1638.5,7.4 1640.7,16.9M1646.8,-19.1C1644.6,-8.6 1644.6,7.4 1646.8,16.9M1652.7,-19.1C1650.5,-8.6 1650.5,7.4 1652.7,16.9M1658.7,-19.1C1656.5,-8.6 1656.5,7.4 1658.7,16.9M1662.1,-23C1665.6,-11.3 1665.6,6.3 1662.1,18M1663.9,-23C1667.4,-11.3 1667.4,6.3 1663.9,18M1665.7,-23C1669.2,-11.3 1669.2,6.3 1665.7,18M1667.5,-23C1671,-11.3 1671,6.3 1667.5,18M1669.3,-23C1672.7,-11.3 1672.7,6.3 1669.3,18M1671.1,-23C1674.5,-11.3 1674.5,6.3 1671.1,18M1672.8,-23C1676.3,-11.3 1676.3,6.3 1672.8,18M1674.6,-23C1678.1,-11.3 1678.1,6.3 1674.6,18M1662.1,-2.5C1669.1,-1.7 1678,-2.1 1683.9,-2.5S1701.8,-2.1 1712.7,-2.5M1662.1,-13C1669.1,-11.9 1676,-8.3 1683.9,-5.1M1662.1,-10.4C1669.1,-9.5 1676,-6.9 1683.9,-4.4M1662.1,-7.8C1669.1,-7.2 1676,-5.4 1683.9,-3.8M1662.1,-2.5C1669.1,-2.5 1676,-2.5 1683.9,-2.5M1662.1,2.8C1669.1,2.2 1676,0.4 1683.9,-1.2M1662.1,5.4C1669.1,4.6 1676,1.9 1683.9,-0.5M1662.1,8.1C1669.1,6.9 1676,3.4 1683.9,0.1M1690.4,-23C1687.4,-14.2 1684.4,-8.3 1681,-5.9M1690.4,18C1687.4,9.2 1684.4,3.4 1681,0.9M1691.6,-23C1688.6,-14.2 1685.1,-8.3 1681.6,-5.9M1691.6,18C1688.6,9.2 1685.1,3.4 1681.6,0.9M1692.8,-23C1689.8,-14.2 1685.8,-8.3 1682.2,-5.9M1692.8,18C1689.8,9.2 1685.8,3.4 1682.2,0.9M1694,-23C1691,-14.2 1686.6,-8.3 1682.8,-5.9M1694,18C1691,9.2 1686.6,3.4 1682.8,0.9M1695.1,-23C1692.2,-14.2 1687.3,-8.3 1683.4,-5.9M1695.1,18C1692.2,9.2 1687.3,3.4 1683.4,0.9M1675.5,-22.4L1681,-8.8L1685.9,-10.8M1675.5,17.4L1681,3.9L1685.9,5.8M1681,-8.8C1679.5,-4.4 1679.5,-0.5 1681,3.9M1683.9,-6.4C1683,-3.5 1683,-1.5 1683.9,1.4M1693.4,-23.4L1693.4,18.4M1695.3,-23.4L1695.3,18.4M1697.3,-23.4L1697.3,18.4M1700,-23.4L1700,18.4M1702.8,-23.4L1702.8,18.4M1707.1,-23.4L1707.1,18.4M1688.9,-19.5C1695.8,-17.7 1704.8,-17.7 1712.7,-17.7M1688.9,-11C1695.8,-10.1 1704.8,-10.1 1712.7,-10.1M1688.9,5.8C1695.8,4.9 1704.8,4.9 1712.7,4.9M1688.9,14.1C1695.8,12.4 1704.8,12.4 1712.7,12.4M1690.2,-12.8C1693.9,-13.9 1703.8,-13.9 1712.7,-13.9M1688.4,-9.3C1693.9,-10.1 1703.8,-10.1 1712.7,-10.1M1686.7,-5.9C1693.9,-6.3 1703.8,-6.3 1712.7,-6.3M1686.7,0.9C1693.9,1.3 1703.8,1.3 1712.7,1.3M1688.4,4.4C1693.9,5.1 1703.8,5.1 1712.7,5.1M1690.2,7.8C1693.9,8.9 1703.8,8.9 1712.7,8.9M1678.5,-22.4L1682.1,-9.3M1678.5,17.4L1682.1,4.4M1681.5,-22.4L1683.2,-9.3M1681.5,17.4L1683.2,4.4M1684.4,-22.4L1684.1,-9.3M1684.4,17.4L1684.1,4.4M1687.4,-22.4L1685.2,-9.3M1687.4,17.4L1685.2,4.4M1676.9,-19.1L1689.1,-19.1M1676.9,14.1L1689.1,14.1M1678.3,-15.7L1687.8,-15.7M1678.3,10.7L1687.8,10.7M1679.7,-12.2L1686.4,-12.2M1679.7,7.3L1686.4,7.3M1690.4,-23C1685.9,-10.3 1685.9,5.3 1690.4,18M1693.4,-23C1688.9,-10.3 1688.9,5.3 1693.4,18M1661.2,17.4L1712.7,17.4M1661.2,-22.4L1712.7,-22.4" fill="none" stroke="#161616" stroke-width="1.0" stroke-opacity="0.85" /></g><path d="M1633.6,-0.6C1633.6,-8.6 1634.4,-13.6 1637.6,-15.9C1640.3,-17.9 1647.3,-18.5 1658.2,-18.7L1661.2,-20.8C1666.1,-21.8 1680,-22.4 1686.9,-22.4L1706.7,-21.8Q1711.3,-21.6 1711.4,-17.9L1711.5,17.9Q1711.3,21.6 1706.7,21.9L1686.9,22.4C1677,22.4 1667.1,21.4 1662.1,19.4L1659.2,16C1647.3,16.6 1640.3,16 1637.6,14C1634.4,11.9 1633.6,7.4 1633.6,-0.6Z" fill="none" stroke="#444" stroke-opacity="0.4" stroke-width="0.8"/></g><g transform="translate(0,435.2)"><clipPath id="cT37"><path d="M1633.6,-0.5C1633.6,-8.5 1634.4,-13.5 1637.6,-15.8C1640.3,-17.8 1647.3,-18.4 1658.2,-18.6L1661.2,-20.8C1666.1,-21.8 1680,-22.4 1686.9,-22.4L1706.7,-21.8Q1711.3,-21.6 1711.4,-17.9L1711.5,17.9Q1711.3,21.6 1706.7,21.9L1686.9,22.4C1677,22.4 1667.1,21.4 1662.1,19.4L1659.2,16.1C1647.3,16.7 1640.3,16.1 1637.6,14.1C1634.4,12 1633.6,7.5 1633.6,-0.5Z"/></clipPath><path d="M1633.6,-0.5C1633.6,-8.5 1634.4,-13.5 1637.6,-15.8C1640.3,-17.8 1647.3,-18.4 1658.2,-18.6L1661.2,-20.8C1666.1,-21.8 1680,-22.4 1686.9,-22.4L1706.7,-21.8Q1711.3,-21.6 1711.4,-17.9L1711.5,17.9Q1711.3,21.6 1706.7,21.9L1686.9,22.4C1677,22.4 1667.1,21.4 1662.1,19.4L1659.2,16.1C1647.3,16.7 1640.3,16.1 1637.6,14.1C1634.4,12 1633.6,7.5 1633.6,-0.5Z" fill="url(#gT)"/><g clip-path="url(#cT37)"><path d="M1686.9,-30L1712.7,-30L1712.7,30L1686.9,30Z" fill="#d0d0d0"/><path d="M1661.2,-23L1688.9,-23L1683.9,-5.1L1683.9,0.8L1688.9,18.7L1661.2,18.7Z" fill="url(#gTn)"/><path d="M1675.5,-22.4L1690.4,-22.4L1685.9,-10.6L1681,-8.6Z" fill="#d2d2d2"/><path d="M1675.5,18.1L1690.4,18.1L1685.9,6.3L1681,4.3Z" fill="#a4a4a4"/><path d="M1633.4,-0.5C1633.4,-10.5 1635.4,-17.5 1640.3,-18.2L1660.2,-18.6C1664.1,-10.5 1664.1,9.5 1660.2,16.1L1640.3,16.3C1635.4,15.5 1633.4,9.5 1633.4,-0.5Z" fill="url(#gTh)"/><path d="M1660.2,18.1L1712.7,18.1L1712.7,40L1660.2,40Z" fill="#8c8c8c"/><path d="M1636.4,13L1660.2,14L1660.2,40L1636.4,40Z" fill="#000" fill-opacity="0.16"/><path d="M1633.4,-11.5C1641.3,-12.3 1651.2,-12.3 1662.1,-11.1M1633.4,-8.8C1641.3,-9.4 1651.2,-9.4 1662.1,-8.4M1633.4,-6.1C1641.3,-6.5 1651.2,-6.5 1662.1,-5.8M1633.4,-3.3C1641.3,-3.5 1651.2,-3.5 1662.1,-3M1633.4,-0.5C1641.3,-0.5 1651.2,-0.5 1662.1,-0.3M1633.4,2.4C1641.3,2.6 1651.2,2.6 1662.1,2.6M1633.4,5.3C1641.3,5.8 1651.2,5.8 1662.1,5.5M1633.4,8C1641.3,8.6 1651.2,8.6 1662.1,8.2M1633.4,10.6C1641.3,11.5 1651.2,11.5 1662.1,10.8M1640.7,-19C1638.5,-8.5 1638.5,7.5 1640.7,17M1646.8,-19C1644.6,-8.5 1644.6,7.5 1646.8,17M1652.7,-19C1650.5,-8.5 1650.5,7.5 1652.7,17M1658.7,-19C1656.5,-8.5 1656.5,7.5 1658.7,17M1662.1,-23C1665.6,-11.1 1665.6,6.8 1662.1,18.7M1663.9,-23C1667.4,-11.1 1667.4,6.8 1663.9,18.7M1665.7,-23C1669.2,-11.1 1669.2,6.8 1665.7,18.7M1667.5,-23C1671,-11.1 1671,6.8 1667.5,18.7M1669.3,-23C1672.7,-11.1 1672.7,6.8 1669.3,18.7M1671.1,-23C1674.5,-11.1 1674.5,6.8 1671.1,18.7M1672.8,-23C1676.3,-11.1 1676.3,6.8 1672.8,18.7M1674.6,-23C1678.1,-11.1 1678.1,6.8 1674.6,18.7M1662.1,-2.2C1669.1,-1.4 1678,-1.8 1683.9,-2.2S1701.8,-1.8 1712.7,-2.2M1662.1,-12.9C1669.1,-11.7 1676,-8.1 1683.9,-4.8M1662.1,-10.2C1669.1,-9.3 1676,-6.6 1683.9,-4.1M1662.1,-7.5C1669.1,-6.9 1676,-5.1 1683.9,-3.5M1662.1,-2.2C1669.1,-2.2 1676,-2.2 1683.9,-2.2M1662.1,3.2C1669.1,2.6 1676,0.8 1683.9,-0.9M1662.1,5.9C1669.1,5 1676,2.3 1683.9,-0.2M1662.1,8.5C1669.1,7.4 1676,3.8 1683.9,0.4M1690.4,-23C1687.4,-14.1 1684.4,-8.1 1681,-5.6M1690.4,18.7C1687.4,9.7 1684.4,3.8 1681,1.3M1691.6,-23C1688.6,-14.1 1685.1,-8.1 1681.6,-5.6M1691.6,18.7C1688.6,9.7 1685.1,3.8 1681.6,1.3M1692.8,-23C1689.8,-14.1 1685.8,-8.1 1682.2,-5.6M1692.8,18.7C1689.8,9.7 1685.8,3.8 1682.2,1.3M1694,-23C1691,-14.1 1686.6,-8.1 1682.8,-5.6M1694,18.7C1691,9.7 1686.6,3.8 1682.8,1.3M1695.1,-23C1692.2,-14.1 1687.3,-8.1 1683.4,-5.6M1695.1,18.7C1692.2,9.7 1687.3,3.8 1683.4,1.3M1675.5,-22.4L1681,-8.6L1685.9,-10.6M1675.5,18.1L1681,4.3L1685.9,6.3M1681,-8.6C1679.5,-4.2 1679.5,-0.2 1681,4.3M1683.9,-6.1C1683,-3.2 1683,-1.2 1683.9,1.8M1693.4,-23.4L1693.4,19.1M1695.3,-23.4L1695.3,19.1M1697.3,-23.4L1697.3,19.1M1700,-23.4L1700,19.1M1702.8,-23.4L1702.8,19.1M1707.1,-23.4L1707.1,19.1M1688.9,-19.5C1695.8,-17.6 1704.8,-17.6 1712.7,-17.6M1688.9,-10.8C1695.8,-9.9 1704.8,-9.9 1712.7,-9.9M1688.9,6.3C1695.8,5.4 1704.8,5.4 1712.7,5.4M1688.9,14.7C1695.8,12.9 1704.8,12.9 1712.7,12.9M1690.2,-12.6C1693.9,-13.8 1703.8,-13.8 1712.7,-13.8M1688.4,-9.1C1693.9,-9.9 1703.8,-9.9 1712.7,-9.9M1686.7,-5.7C1693.9,-6 1703.8,-6 1712.7,-6M1686.7,1.3C1693.9,1.7 1703.8,1.7 1712.7,1.7M1688.4,4.8C1693.9,5.6 1703.8,5.6 1712.7,5.6M1690.2,8.3C1693.9,9.4 1703.8,9.4 1712.7,9.4M1678.5,-22.4L1682.1,-9.1M1678.5,18.1L1682.1,4.8M1681.5,-22.4L1683.2,-9.1M1681.5,18.1L1683.2,4.8M1684.4,-22.4L1684.1,-9.1M1684.4,18.1L1684.1,4.8M1687.4,-22.4L1685.2,-9.1M1687.4,18.1L1685.2,4.8M1676.9,-19L1689.1,-19M1676.9,14.7L1689.1,14.7M1678.3,-15.6L1687.8,-15.6M1678.3,11.2L1687.8,11.2M1679.7,-12.1L1686.4,-12.1M1679.7,7.7L1686.4,7.7M1690.4,-23C1685.9,-10.1 1685.9,5.8 1690.4,18.7M1693.4,-23C1688.9,-10.1 1688.9,5.8 1693.4,18.7M1661.2,18.1L1712.7,18.1M1661.2,-22.4L1712.7,-22.4" fill="none" stroke="#161616" stroke-width="1.0" stroke-opacity="0.85" /></g><path d="M1633.6,-0.5C1633.6,-8.5 1634.4,-13.5 1637.6,-15.8C1640.3,-17.8 1647.3,-18.4 1658.2,-18.6L1661.2,-20.8C1666.1,-21.8 1680,-22.4 1686.9,-22.4L1706.7,-21.8Q1711.3,-21.6 1711.4,-17.9L1711.5,17.9Q1711.3,21.6 1706.7,21.9L1686.9,22.4C1677,22.4 1667.1,21.4 1662.1,19.4L1659.2,16.1C1647.3,16.7 1640.3,16.1 1637.6,14.1C1634.4,12 1633.6,7.5 1633.6,-0.5Z" fill="none" stroke="#444" stroke-opacity="0.4" stroke-width="0.8"/></g><g transform="translate(0,488.7)"><clipPath id="cT38"><path d="M1633.6,-0.4C1633.6,-8.4 1634.4,-13.4 1637.6,-15.7C1640.3,-17.7 1647.3,-18.3 1658.2,-18.5L1661.2,-20.8C1666.1,-21.8 1680,-22.4 1686.9,-22.4L1706.7,-21.8Q1711.3,-21.6 1711.4,-17.9L1711.5,17.9Q1711.3,21.6 1706.7,21.9L1686.9,22.4C1677,22.4 1667.1,21.4 1662.1,19.4L1659.2,16.2C1647.3,16.8 1640.3,16.2 1637.6,14.2C1634.4,12.1 1633.6,7.6 1633.6,-0.4Z"/></clipPath><path d="M1633.6,-0.4C1633.6,-8.4 1634.4,-13.4 1637.6,-15.7C1640.3,-17.7 1647.3,-18.3 1658.2,-18.5L1661.2,-20.8C1666.1,-21.8 1680,-22.4 1686.9,-22.4L1706.7,-21.8Q1711.3,-21.6 1711.4,-17.9L1711.5,17.9Q1711.3,21.6 1706.7,21.9L1686.9,22.4C1677,22.4 1667.1,21.4 1662.1,19.4L1659.2,16.2C1647.3,16.8 1640.3,16.2 1637.6,14.2C1634.4,12.1 1633.6,7.6 1633.6,-0.4Z" fill="url(#gT)"/><g clip-path="url(#cT38)"><path d="M1686.9,-30L1712.7,-30L1712.7,30L1686.9,30Z" fill="#d0d0d0"/><path d="M1661.2,-23L1688.9,-23L1683.9,-4.9L1683.9,1.2L1688.9,19.3L1661.2,19.3Z" fill="url(#gTn)"/><path d="M1675.5,-22.4L1690.4,-22.4L1685.9,-10.4L1681,-8.4Z" fill="#d2d2d2"/><path d="M1675.5,18.7L1690.4,18.7L1685.9,6.7L1681,4.7Z" fill="#a4a4a4"/><path d="M1633.4,-0.4C1633.4,-10.4 1635.4,-17.4 1640.3,-18.1L1660.2,-18.5C1664.1,-10.4 1664.1,9.6 1660.2,16.2L1640.3,16.4C1635.4,15.6 1633.4,9.6 1633.4,-0.4Z" fill="url(#gTh)"/><path d="M1660.2,18.7L1712.7,18.7L1712.7,40L1660.2,40Z" fill="#8c8c8c"/><path d="M1636.4,13.1L1660.2,14.1L1660.2,40L1636.4,40Z" fill="#000" fill-opacity="0.16"/><path d="M1633.4,-11.4C1641.3,-12.2 1651.2,-12.2 1662.1,-11.1M1633.4,-8.7C1641.3,-9.3 1651.2,-9.3 1662.1,-8.4M1633.4,-6C1641.3,-6.4 1651.2,-6.4 1662.1,-5.7M1633.4,-3.2C1641.3,-3.4 1651.2,-3.4 1662.1,-3M1633.4,-0.4C1641.3,-0.4 1651.2,-0.4 1662.1,-0.2M1633.4,2.5C1641.3,2.7 1651.2,2.7 1662.1,2.7M1633.4,5.4C1641.3,5.9 1651.2,5.9 1662.1,5.6M1633.4,8.1C1641.3,8.7 1651.2,8.7 1662.1,8.2M1633.4,10.7C1641.3,11.6 1651.2,11.6 1662.1,10.8M1640.7,-18.9C1638.5,-8.4 1638.5,7.6 1640.7,17.1M1646.8,-18.9C1644.6,-8.4 1644.6,7.6 1646.8,17.1M1652.7,-18.9C1650.5,-8.4 1650.5,7.6 1652.7,17.1M1658.7,-18.9C1656.5,-8.4 1656.5,7.6 1658.7,17.1M1662.1,-23C1665.6,-10.9 1665.6,7.2 1662.1,19.3M1663.9,-23C1667.4,-10.9 1667.4,7.2 1663.9,19.3M1665.7,-23C1669.2,-10.9 1669.2,7.2 1665.7,19.3M1667.5,-23C1671,-10.9 1671,7.2 1667.5,19.3M1669.3,-23C1672.7,-10.9 1672.7,7.2 1669.3,19.3M1671.1,-23C1674.5,-10.9 1674.5,7.2 1671.1,19.3M1672.8,-23C1676.3,-10.9 1676.3,7.2 1672.8,19.3M1674.6,-23C1678.1,-10.9 1678.1,7.2 1674.6,19.3M1662.1,-1.9C1669.1,-1.1 1678,-1.5 1683.9,-1.9S1701.8,-1.5 1712.7,-1.9M1662.1,-12.7C1669.1,-11.5 1676,-7.9 1683.9,-4.5M1662.1,-10C1669.1,-9.1 1676,-6.4 1683.9,-3.9M1662.1,-7.3C1669.1,-6.7 1676,-4.9 1683.9,-3.2M1662.1,-1.9C1669.1,-1.9 1676,-1.9 1683.9,-1.9M1662.1,3.6C1669.1,3 1676,1.2 1683.9,-0.5M1662.1,6.3C1669.1,5.4 1676,2.7 1683.9,0.1M1662.1,9C1669.1,7.8 1676,4.2 1683.9,0.8M1690.4,-23C1687.4,-13.9 1684.4,-7.9 1681,-5.4M1690.4,19.3C1687.4,10.2 1684.4,4.2 1681,1.7M1691.6,-23C1688.6,-13.9 1685.1,-7.9 1681.6,-5.4M1691.6,19.3C1688.6,10.2 1685.1,4.2 1681.6,1.7M1692.8,-23C1689.8,-13.9 1685.8,-7.9 1682.2,-5.4M1692.8,19.3C1689.8,10.2 1685.8,4.2 1682.2,1.7M1694,-23C1691,-13.9 1686.6,-7.9 1682.8,-5.4M1694,19.3C1691,10.2 1686.6,4.2 1682.8,1.7M1695.1,-23C1692.2,-13.9 1687.3,-7.9 1683.4,-5.4M1695.1,19.3C1692.2,10.2 1687.3,4.2 1683.4,1.7M1675.5,-22.4L1681,-8.4L1685.9,-10.4M1675.5,18.7L1681,4.7L1685.9,6.7M1681,-8.4C1679.5,-3.9 1679.5,0.2 1681,4.7M1683.9,-5.9C1683,-2.9 1683,-0.9 1683.9,2.2M1693.4,-23.4L1693.4,19.7M1695.3,-23.4L1695.3,19.7M1697.3,-23.4L1697.3,19.7M1700,-23.4L1700,19.7M1702.8,-23.4L1702.8,19.7M1707.1,-23.4L1707.1,19.7M1688.9,-19.5C1695.8,-17.6 1704.8,-17.6 1712.7,-17.6M1688.9,-10.7C1695.8,-9.7 1704.8,-9.7 1712.7,-9.7M1688.9,6.7C1695.8,5.8 1704.8,5.8 1712.7,5.8M1688.9,15.3C1695.8,13.4 1704.8,13.4 1712.7,13.4M1690.2,-12.5C1693.9,-13.6 1703.8,-13.6 1712.7,-13.6M1688.4,-8.9C1693.9,-9.7 1703.8,-9.7 1712.7,-9.7M1686.7,-5.4C1693.9,-5.8 1703.8,-5.8 1712.7,-5.8M1686.7,1.7C1693.9,2.1 1703.8,2.1 1712.7,2.1M1688.4,5.2C1693.9,6 1703.8,6 1712.7,6M1690.2,8.7C1693.9,9.9 1703.8,9.9 1712.7,9.9M1678.5,-22.4L1682.1,-8.9M1678.5,18.7L1682.1,5.2M1681.5,-22.4L1683.2,-8.9M1681.5,18.7L1683.2,5.2M1684.4,-22.4L1684.1,-8.9M1684.4,18.7L1684.1,5.2M1687.4,-22.4L1685.2,-8.9M1687.4,18.7L1685.2,5.2M1676.9,-19L1689.1,-19M1676.9,15.3L1689.1,15.3M1678.3,-15.5L1687.8,-15.5M1678.3,11.7L1687.8,11.7M1679.7,-11.9L1686.4,-11.9M1679.7,8.2L1686.4,8.2M1690.4,-23C1685.9,-9.9 1685.9,6.2 1690.4,19.3M1693.4,-23C1688.9,-9.9 1688.9,6.2 1693.4,19.3M1661.2,18.7L1712.7,18.7M1661.2,-22.4L1712.7,-22.4" fill="none" stroke="#161616" stroke-width="1.0" stroke-opacity="0.85" /></g><path d="M1633.6,-0.4C1633.6,-8.4 1634.4,-13.4 1637.6,-15.7C1640.3,-17.7 1647.3,-18.3 1658.2,-18.5L1661.2,-20.8C1666.1,-21.8 1680,-22.4 1686.9,-22.4L1706.7,-21.8Q1711.3,-21.6 1711.4,-17.9L1711.5,17.9Q1711.3,21.6 1706.7,21.9L1686.9,22.4C1677,22.4 1667.1,21.4 1662.1,19.4L1659.2,16.2C1647.3,16.8 1640.3,16.2 1637.6,14.2C1634.4,12.1 1633.6,7.6 1633.6,-0.4Z" fill="none" stroke="#444" stroke-opacity="0.4" stroke-width="0.8"/></g><g transform="translate(0,542.2)"><clipPath id="cT39"><path d="M1633.6,-0.4C1633.6,-8.4 1634.4,-13.4 1637.6,-15.7C1640.3,-17.7 1647.3,-18.3 1658.2,-18.5L1661.2,-20.8C1666.1,-21.8 1680,-22.4 1686.9,-22.4L1706.7,-21.8Q1711.3,-21.6 1711.4,-17.9L1711.5,17.9Q1711.3,21.6 1706.7,21.9L1686.9,22.4C1677,22.4 1667.1,21.4 1662.1,19.4L1659.2,16.2C1647.3,16.8 1640.3,16.2 1637.6,14.2C1634.4,12.1 1633.6,7.6 1633.6,-0.4Z"/></clipPath><path d="M1633.6,-0.4C1633.6,-8.4 1634.4,-13.4 1637.6,-15.7C1640.3,-17.7 1647.3,-18.3 1658.2,-18.5L1661.2,-20.8C1666.1,-21.8 1680,-22.4 1686.9,-22.4L1706.7,-21.8Q1711.3,-21.6 1711.4,-17.9L1711.5,17.9Q1711.3,21.6 1706.7,21.9L1686.9,22.4C1677,22.4 1667.1,21.4 1662.1,19.4L1659.2,16.2C1647.3,16.8 1640.3,16.2 1637.6,14.2C1634.4,12.1 1633.6,7.6 1633.6,-0.4Z" fill="url(#gT)"/><g clip-path="url(#cT39)"><path d="M1686.9,-30L1712.7,-30L1712.7,30L1686.9,30Z" fill="#d0d0d0"/><path d="M1661.2,-23L1688.9,-23L1683.9,-4.6L1683.9,1.5L1688.9,19.9L1661.2,19.9Z" fill="url(#gTn)"/><path d="M1675.5,-22.4L1690.4,-22.4L1685.9,-10.2L1681,-8.2Z" fill="#d2d2d2"/><path d="M1675.5,19.3L1690.4,19.3L1685.9,7.1L1681,5.1Z" fill="#a4a4a4"/><path d="M1633.4,-0.4C1633.4,-10.4 1635.4,-17.4 1640.3,-18.1L1660.2,-18.5C1664.1,-10.4 1664.1,9.6 1660.2,16.2L1640.3,16.4C1635.4,15.6 1633.4,9.6 1633.4,-0.4Z" fill="url(#gTh)"/><path d="M1660.2,19.3L1712.7,19.3L1712.7,40L1660.2,40Z" fill="#8c8c8c"/><path d="M1636.4,13.1L1660.2,14.1L1660.2,40L1636.4,40Z" fill="#000" fill-opacity="0.16"/><path d="M1633.4,-11.3C1641.3,-12.2 1651.2,-12.2 1662.1,-11M1633.4,-8.6C1641.3,-9.3 1651.2,-9.3 1662.1,-8.4M1633.4,-6C1641.3,-6.4 1651.2,-6.4 1662.1,-5.7M1633.4,-3.2C1641.3,-3.4 1651.2,-3.4 1662.1,-2.9M1633.4,-0.4C1641.3,-0.4 1651.2,-0.4 1662.1,-0.2M1633.4,2.6C1641.3,2.8 1651.2,2.8 1662.1,2.7M1633.4,5.5C1641.3,5.9 1651.2,5.9 1662.1,5.6M1633.4,8.1C1641.3,8.8 1651.2,8.8 1662.1,8.2M1633.4,10.8C1641.3,11.6 1651.2,11.6 1662.1,10.9M1640.7,-18.9C1638.5,-8.4 1638.5,7.6 1640.7,17.1M1646.8,-18.9C1644.6,-8.4 1644.6,7.6 1646.8,17.1M1652.7,-18.9C1650.5,-8.4 1650.5,7.6 1652.7,17.1M1658.7,-18.9C1656.5,-8.4 1656.5,7.6 1658.7,17.1M1662.1,-23C1665.6,-10.7 1665.6,7.6 1662.1,19.9M1663.9,-23C1667.4,-10.7 1667.4,7.6 1663.9,19.9M1665.7,-23C1669.2,-10.7 1669.2,7.6 1665.7,19.9M1667.5,-23C1671,-10.7 1671,7.6 1667.5,19.9M1669.3,-23C1672.7,-10.7 1672.7,7.6 1669.3,19.9M1671.1,-23C1674.5,-10.7 1674.5,7.6 1671.1,19.9M1672.8,-23C1676.3,-10.7 1676.3,7.6 1672.8,19.9M1674.6,-23C1678.1,-10.7 1678.1,7.6 1674.6,19.9M1662.1,-1.6C1669.1,-0.7 1678,-1.1 1683.9,-1.6S1701.8,-1.1 1712.7,-1.6M1662.1,-12.6C1669.1,-11.4 1676,-7.7 1683.9,-4.2M1662.1,-9.8C1669.1,-8.9 1676,-6.1 1683.9,-3.6M1662.1,-7.1C1669.1,-6.5 1676,-4.6 1683.9,-2.9M1662.1,-1.6C1669.1,-1.6 1676,-1.6 1683.9,-1.6M1662.1,4C1669.1,3.4 1676,1.5 1683.9,-0.2M1662.1,6.7C1669.1,5.8 1676,3 1683.9,0.5M1662.1,9.5C1669.1,8.3 1676,4.6 1683.9,1.1M1690.4,-23C1687.4,-13.8 1684.4,-7.7 1681,-5.1M1690.4,19.9C1687.4,10.7 1684.4,4.6 1681,2M1691.6,-23C1688.6,-13.8 1685.1,-7.7 1681.6,-5.1M1691.6,19.9C1688.6,10.7 1685.1,4.6 1681.6,2M1692.8,-23C1689.8,-13.8 1685.8,-7.7 1682.2,-5.1M1692.8,19.9C1689.8,10.7 1685.8,4.6 1682.2,2M1694,-23C1691,-13.8 1686.6,-7.7 1682.8,-5.1M1694,19.9C1691,10.7 1686.6,4.6 1682.8,2M1695.1,-23C1692.2,-13.8 1687.3,-7.7 1683.4,-5.1M1695.1,19.9C1692.2,10.7 1687.3,4.6 1683.4,2M1675.5,-22.4L1681,-8.2L1685.9,-10.2M1675.5,19.3L1681,5.1L1685.9,7.1M1681,-8.2C1679.5,-3.6 1679.5,0.5 1681,5.1M1683.9,-5.6C1683,-2.6 1683,-0.5 1683.9,2.5M1693.4,-23.4L1693.4,20.3M1695.3,-23.4L1695.3,20.3M1697.3,-23.4L1697.3,20.3M1700,-23.4L1700,20.3M1702.8,-23.4L1702.8,20.3M1707.1,-23.4L1707.1,20.3M1688.9,-19.4C1695.8,-17.5 1704.8,-17.5 1712.7,-17.5M1688.9,-10.5C1695.8,-9.5 1704.8,-9.5 1712.7,-9.5M1688.9,7.1C1695.8,6.2 1704.8,6.2 1712.7,6.2M1688.9,15.8C1695.8,14 1704.8,14 1712.7,14M1690.2,-12.3C1693.9,-13.5 1703.8,-13.5 1712.7,-13.5M1688.4,-8.7C1693.9,-9.5 1703.8,-9.5 1712.7,-9.5M1686.7,-5.1C1693.9,-5.5 1703.8,-5.5 1712.7,-5.5M1686.7,2C1693.9,2.4 1703.8,2.4 1712.7,2.4M1688.4,5.6C1693.9,6.4 1703.8,6.4 1712.7,6.4M1690.2,9.2C1693.9,10.4 1703.8,10.4 1712.7,10.4M1678.5,-22.4L1682.1,-8.7M1678.5,19.3L1682.1,5.6M1681.5,-22.4L1683.2,-8.7M1681.5,19.3L1683.2,5.6M1684.4,-22.4L1684.1,-8.7M1684.4,19.3L1684.1,5.6M1687.4,-22.4L1685.2,-8.7M1687.4,19.3L1685.2,5.6M1676.9,-18.9L1689.1,-18.9M1676.9,15.8L1689.1,15.8M1678.3,-15.3L1687.8,-15.3M1678.3,12.2L1687.8,12.2M1679.7,-11.8L1686.4,-11.8M1679.7,8.7L1686.4,8.7M1690.4,-23C1685.9,-9.7 1685.9,6.6 1690.4,19.9M1693.4,-23C1688.9,-9.7 1688.9,6.6 1693.4,19.9M1661.2,19.3L1712.7,19.3M1661.2,-22.4L1712.7,-22.4" fill="none" stroke="#161616" stroke-width="1.0" stroke-opacity="0.85" /></g><path d="M1633.6,-0.4C1633.6,-8.4 1634.4,-13.4 1637.6,-15.7C1640.3,-17.7 1647.3,-18.3 1658.2,-18.5L1661.2,-20.8C1666.1,-21.8 1680,-22.4 1686.9,-22.4L1706.7,-21.8Q1711.3,-21.6 1711.4,-17.9L1711.5,17.9Q1711.3,21.6 1706.7,21.9L1686.9,22.4C1677,22.4 1667.1,21.4 1662.1,19.4L1659.2,16.2C1647.3,16.8 1640.3,16.2 1637.6,14.2C1634.4,12.1 1633.6,7.6 1633.6,-0.4Z" fill="none" stroke="#444" stroke-opacity="0.4" stroke-width="0.8"/></g><g transform="translate(0,595.7)"><clipPath id="cT40"><path d="M1633.6,-0.3C1633.6,-8.3 1634.4,-13.3 1637.6,-15.6C1640.3,-17.6 1647.3,-18.2 1658.2,-18.4L1661.2,-20.8C1666.1,-21.8 1680,-22.4 1686.9,-22.4L1706.7,-21.8Q1711.3,-21.6 1711.4,-17.9L1711.5,17.9Q1711.3,21.6 1706.7,21.9L1686.9,22.4C1677,22.4 1667.1,21.4 1662.1,19.4L1659.2,16.3C1647.3,16.9 1640.3,16.3 1637.6,14.3C1634.4,12.2 1633.6,7.7 1633.6,-0.3Z"/></clipPath><path d="M1633.6,-0.3C1633.6,-8.3 1634.4,-13.3 1637.6,-15.6C1640.3,-17.6 1647.3,-18.2 1658.2,-18.4L1661.2,-20.8C1666.1,-21.8 1680,-22.4 1686.9,-22.4L1706.7,-21.8Q1711.3,-21.6 1711.4,-17.9L1711.5,17.9Q1711.3,21.6 1706.7,21.9L1686.9,22.4C1677,22.4 1667.1,21.4 1662.1,19.4L1659.2,16.3C1647.3,16.9 1640.3,16.3 1637.6,14.3C1634.4,12.2 1633.6,7.7 1633.6,-0.3Z" fill="url(#gT)"/><g clip-path="url(#cT40)"><path d="M1686.9,-30L1712.7,-30L1712.7,30L1686.9,30Z" fill="#d0d0d0"/><path d="M1661.2,-23L1688.9,-23L1683.9,-4.4L1683.9,1.9L1688.9,20.5L1661.2,20.5Z" fill="url(#gTn)"/><path d="M1675.5,-22.4L1690.4,-22.4L1685.9,-10.1L1681,-8Z" fill="#d2d2d2"/><path d="M1675.5,19.9L1690.4,19.9L1685.9,7.6L1681,5.5Z" fill="#a4a4a4"/><path d="M1633.4,-0.3C1633.4,-10.3 1635.4,-17.3 1640.3,-18L1660.2,-18.4C1664.1,-10.3 1664.1,9.7 1660.2,16.3L1640.3,16.5C1635.4,15.7 1633.4,9.7 1633.4,-0.3Z" fill="url(#gTh)"/><path d="M1660.2,19.9L1712.7,19.9L1712.7,40L1660.2,40Z" fill="#8c8c8c"/><path d="M1636.4,13.2L1660.2,14.2L1660.2,40L1636.4,40Z" fill="#000" fill-opacity="0.16"/><path d="M1633.4,-11.3C1641.3,-12.1 1651.2,-12.1 1662.1,-11M1633.4,-8.6C1641.3,-9.2 1651.2,-9.2 1662.1,-8.3M1633.4,-5.9C1641.3,-6.3 1651.2,-6.3 1662.1,-5.7M1633.4,-3.1C1641.3,-3.3 1651.2,-3.3 1662.1,-2.9M1633.4,-0.3C1641.3,-0.3 1651.2,-0.3 1662.1,-0.1M1633.4,2.6C1641.3,2.9 1651.2,2.9 1662.1,2.7M1633.4,5.6C1641.3,6 1651.2,6 1662.1,5.6M1633.4,8.2C1641.3,8.9 1651.2,8.9 1662.1,8.3M1633.4,10.9C1641.3,11.7 1651.2,11.7 1662.1,10.9M1640.7,-18.8C1638.5,-8.3 1638.5,7.7 1640.7,17.2M1646.8,-18.8C1644.6,-8.3 1644.6,7.7 1646.8,17.2M1652.7,-18.8C1650.5,-8.3 1650.5,7.7 1652.7,17.2M1658.7,-18.8C1656.5,-8.3 1656.5,7.7 1658.7,17.2M1662.1,-23C1665.6,-10.6 1665.6,8.1 1662.1,20.5M1663.9,-23C1667.4,-10.6 1667.4,8.1 1663.9,20.5M1665.7,-23C1669.2,-10.6 1669.2,8.1 1665.7,20.5M1667.5,-23C1671,-10.6 1671,8.1 1667.5,20.5M1669.3,-23C1672.7,-10.6 1672.7,8.1 1669.3,20.5M1671.1,-23C1674.5,-10.6 1674.5,8.1 1671.1,20.5M1672.8,-23C1676.3,-10.6 1676.3,8.1 1672.8,20.5M1674.6,-23C1678.1,-10.6 1678.1,8.1 1674.6,20.5M1662.1,-1.2C1669.1,-0.4 1678,-0.8 1683.9,-1.2S1701.8,-0.8 1712.7,-1.2M1662.1,-12.4C1669.1,-11.2 1676,-7.5 1683.9,-4M1662.1,-9.6C1669.1,-8.7 1676,-5.9 1683.9,-3.3M1662.1,-6.8C1669.1,-6.2 1676,-4.4 1683.9,-2.6M1662.1,-1.2C1669.1,-1.2 1676,-1.2 1683.9,-1.2M1662.1,4.4C1669.1,3.7 1676,1.9 1683.9,0.1M1662.1,7.2C1669.1,6.2 1676,3.4 1683.9,0.8M1662.1,10C1669.1,8.7 1676,5 1683.9,1.5M1690.4,-23C1687.4,-13.7 1684.4,-7.5 1681,-4.9M1690.4,20.5C1687.4,11.2 1684.4,5 1681,2.4M1691.6,-23C1688.6,-13.7 1685.1,-7.5 1681.6,-4.9M1691.6,20.5C1688.6,11.2 1685.1,5 1681.6,2.4M1692.8,-23C1689.8,-13.7 1685.8,-7.5 1682.2,-4.9M1692.8,20.5C1689.8,11.2 1685.8,5 1682.2,2.4M1694,-23C1691,-13.7 1686.6,-7.5 1682.8,-4.9M1694,20.5C1691,11.2 1686.6,5 1682.8,2.4M1695.1,-23C1692.2,-13.7 1687.3,-7.5 1683.4,-4.9M1695.1,20.5C1692.2,11.2 1687.3,5 1683.4,2.4M1675.5,-22.4L1681,-8L1685.9,-10.1M1675.5,19.9L1681,5.5L1685.9,7.6M1681,-8C1679.5,-3.3 1679.5,0.8 1681,5.5M1683.9,-5.4C1683,-2.3 1683,-0.2 1683.9,2.9M1693.4,-23.4L1693.4,20.9M1695.3,-23.4L1695.3,20.9M1697.3,-23.4L1697.3,20.9M1700,-23.4L1700,20.9M1702.8,-23.4L1702.8,20.9M1707.1,-23.4L1707.1,20.9M1688.9,-19.4C1695.8,-17.4 1704.8,-17.4 1712.7,-17.4M1688.9,-10.3C1695.8,-9.3 1704.8,-9.3 1712.7,-9.3M1688.9,7.6C1695.8,6.6 1704.8,6.6 1712.7,6.6M1688.9,16.4C1695.8,14.5 1704.8,14.5 1712.7,14.5M1690.2,-12.2C1693.9,-13.4 1703.8,-13.4 1712.7,-13.4M1688.4,-8.5C1693.9,-9.3 1703.8,-9.3 1712.7,-9.3M1686.7,-4.9C1693.9,-5.3 1703.8,-5.3 1712.7,-5.3M1686.7,2.4C1693.9,2.8 1703.8,2.8 1712.7,2.8M1688.4,6C1693.9,6.9 1703.8,6.9 1712.7,6.9M1690.2,9.7C1693.9,10.9 1703.8,10.9 1712.7,10.9M1678.5,-22.4L1682.1,-8.5M1678.5,19.9L1682.1,6M1681.5,-22.4L1683.2,-8.5M1681.5,19.9L1683.2,6M1684.4,-22.4L1684.1,-8.5M1684.4,19.9L1684.1,6M1687.4,-22.4L1685.2,-8.5M1687.4,19.9L1685.2,6M1676.9,-18.9L1689.1,-18.9M1676.9,16.4L1689.1,16.4M1678.3,-15.2L1687.8,-15.2M1678.3,12.8L1687.8,12.8M1679.7,-11.6L1686.4,-11.6M1679.7,9.1L1686.4,9.1M1690.4,-23C1685.9,-9.5 1685.9,7.1 1690.4,20.5M1693.4,-23C1688.9,-9.5 1688.9,7.1 1693.4,20.5M1661.2,19.9L1712.7,19.9M1661.2,-22.4L1712.7,-22.4" fill="none" stroke="#161616" stroke-width="1.0" stroke-opacity="0.85" /></g><path d="M1633.6,-0.3C1633.6,-8.3 1634.4,-13.3 1637.6,-15.6C1640.3,-17.6 1647.3,-18.2 1658.2,-18.4L1661.2,-20.8C1666.1,-21.8 1680,-22.4 1686.9,-22.4L1706.7,-21.8Q1711.3,-21.6 1711.4,-17.9L1711.5,17.9Q1711.3,21.6 1706.7,21.9L1686.9,22.4C1677,22.4 1667.1,21.4 1662.1,19.4L1659.2,16.3C1647.3,16.9 1640.3,16.3 1637.6,14.3C1634.4,12.2 1633.6,7.7 1633.6,-0.3Z" fill="none" stroke="#444" stroke-opacity="0.4" stroke-width="0.8"/></g><g transform="translate(0,649.2)"><clipPath id="cT41"><path d="M1633.6,-0.2C1633.6,-8.2 1634.4,-13.2 1637.6,-15.5C1640.3,-17.5 1647.3,-18.1 1658.2,-18.3L1661.2,-20.8C1666.1,-21.8 1680,-22.4 1686.9,-22.4L1706.7,-21.8Q1711.3,-21.6 1711.4,-17.9L1711.5,17.9Q1711.3,21.6 1706.7,21.9L1686.9,22.4C1677,22.4 1667.1,21.4 1662.1,19.4L1659.2,16.4C1647.3,17 1640.3,16.4 1637.6,14.4C1634.4,12.3 1633.6,7.8 1633.6,-0.2Z"/></clipPath><path d="M1633.6,-0.2C1633.6,-8.2 1634.4,-13.2 1637.6,-15.5C1640.3,-17.5 1647.3,-18.1 1658.2,-18.3L1661.2,-20.8C1666.1,-21.8 1680,-22.4 1686.9,-22.4L1706.7,-21.8Q1711.3,-21.6 1711.4,-17.9L1711.5,17.9Q1711.3,21.6 1706.7,21.9L1686.9,22.4C1677,22.4 1667.1,21.4 1662.1,19.4L1659.2,16.4C1647.3,17 1640.3,16.4 1637.6,14.4C1634.4,12.3 1633.6,7.8 1633.6,-0.2Z" fill="url(#gT)"/><g clip-path="url(#cT41)"><path d="M1686.9,-30L1712.7,-30L1712.7,30L1686.9,30Z" fill="#d0d0d0"/><path d="M1661.2,-23L1688.9,-23L1683.9,-4.1L1683.9,2.2L1688.9,21.2L1661.2,21.2Z" fill="url(#gTn)"/><path d="M1675.5,-22.4L1690.4,-22.4L1685.9,-9.9L1681,-7.8Z" fill="#d2d2d2"/><path d="M1675.5,20.5L1690.4,20.5L1685.9,8L1681,5.9Z" fill="#a4a4a4"/><path d="M1633.4,-0.2C1633.4,-10.2 1635.4,-17.2 1640.3,-17.9L1660.2,-18.3C1664.1,-10.2 1664.1,9.8 1660.2,16.4L1640.3,16.6C1635.4,15.8 1633.4,9.8 1633.4,-0.2Z" fill="url(#gTh)"/><path d="M1660.2,20.5L1712.7,20.5L1712.7,40L1660.2,40Z" fill="#8c8c8c"/><path d="M1636.4,13.3L1660.2,14.3L1660.2,40L1636.4,40Z" fill="#000" fill-opacity="0.16"/><path d="M1633.4,-11.2C1641.3,-12 1651.2,-12 1662.1,-11M1633.4,-8.5C1641.3,-9.1 1651.2,-9.1 1662.1,-8.3M1633.4,-5.8C1641.3,-6.2 1651.2,-6.2 1662.1,-5.6M1633.4,-3C1641.3,-3.2 1651.2,-3.2 1662.1,-2.9M1633.4,-0.2C1641.3,-0.2 1651.2,-0.2 1662.1,-0.1M1633.4,2.7C1641.3,2.9 1651.2,2.9 1662.1,2.8M1633.4,5.6C1641.3,6.1 1651.2,6.1 1662.1,5.7M1633.4,8.3C1641.3,8.9 1651.2,8.9 1662.1,8.3M1633.4,10.9C1641.3,11.8 1651.2,11.8 1662.1,10.9M1640.7,-18.7C1638.5,-8.2 1638.5,7.8 1640.7,17.3M1646.8,-18.7C1644.6,-8.2 1644.6,7.8 1646.8,17.3M1652.7,-18.7C1650.5,-8.2 1650.5,7.8 1652.7,17.3M1658.7,-18.7C1656.5,-8.2 1656.5,7.8 1658.7,17.3M1662.1,-23C1665.6,-10.4 1665.6,8.5 1662.1,21.2M1663.9,-23C1667.4,-10.4 1667.4,8.5 1663.9,21.2M1665.7,-23C1669.2,-10.4 1669.2,8.5 1665.7,21.2M1667.5,-23C1671,-10.4 1671,8.5 1667.5,21.2M1669.3,-23C1672.7,-10.4 1672.7,8.5 1669.3,21.2M1671.1,-23C1674.5,-10.4 1674.5,8.5 1671.1,21.2M1672.8,-23C1676.3,-10.4 1676.3,8.5 1672.8,21.2M1674.6,-23C1678.1,-10.4 1678.1,8.5 1674.6,21.2M1662.1,-0.9C1669.1,-0.1 1678,-0.5 1683.9,-0.9S1701.8,-0.5 1712.7,-0.9M1662.1,-12.3C1669.1,-11 1676,-7.2 1683.9,-3.7M1662.1,-9.5C1669.1,-8.5 1676,-5.7 1683.9,-3M1662.1,-6.6C1669.1,-6 1676,-4.1 1683.9,-2.3M1662.1,-0.9C1669.1,-0.9 1676,-0.9 1683.9,-0.9M1662.1,4.8C1669.1,4.1 1676,2.2 1683.9,0.5M1662.1,7.6C1669.1,6.6 1676,3.8 1683.9,1.2M1662.1,10.4C1669.1,9.2 1676,5.4 1683.9,1.8M1690.4,-23C1687.4,-13.6 1684.4,-7.2 1681,-4.6M1690.4,21.2C1687.4,11.7 1684.4,5.4 1681,2.8M1691.6,-23C1688.6,-13.6 1685.1,-7.2 1681.6,-4.6M1691.6,21.2C1688.6,11.7 1685.1,5.4 1681.6,2.8M1692.8,-23C1689.8,-13.6 1685.8,-7.2 1682.2,-4.6M1692.8,21.2C1689.8,11.7 1685.8,5.4 1682.2,2.8M1694,-23C1691,-13.6 1686.6,-7.2 1682.8,-4.6M1694,21.2C1691,11.7 1686.6,5.4 1682.8,2.8M1695.1,-23C1692.2,-13.6 1687.3,-7.2 1683.4,-4.6M1695.1,21.2C1692.2,11.7 1687.3,5.4 1683.4,2.8M1675.5,-22.4L1681,-7.8L1685.9,-9.9M1675.5,20.5L1681,5.9L1685.9,8M1681,-7.8C1679.5,-3 1679.5,1.2 1681,5.9M1683.9,-5.1C1683,-2 1683,0.1 1683.9,3.3M1693.4,-23.4L1693.4,21.5M1695.3,-23.4L1695.3,21.5M1697.3,-23.4L1697.3,21.5M1700,-23.4L1700,21.5M1702.8,-23.4L1702.8,21.5M1707.1,-23.4L1707.1,21.5M1688.9,-19.3C1695.8,-17.3 1704.8,-17.3 1712.7,-17.3M1688.9,-10.1C1695.8,-9.1 1704.8,-9.1 1712.7,-9.1M1688.9,8C1695.8,7.1 1704.8,7.1 1712.7,7.1M1688.9,17C1695.8,15.1 1704.8,15.1 1712.7,15.1M1690.2,-12C1693.9,-13.2 1703.8,-13.2 1712.7,-13.2M1688.4,-8.3C1693.9,-9.1 1703.8,-9.1 1712.7,-9.1M1686.7,-4.6C1693.9,-5 1703.8,-5 1712.7,-5M1686.7,2.8C1693.9,3.2 1703.8,3.2 1712.7,3.2M1688.4,6.5C1693.9,7.3 1703.8,7.3 1712.7,7.3M1690.2,10.2C1693.9,11.4 1703.8,11.4 1712.7,11.4M1678.5,-22.4L1682.1,-8.3M1678.5,20.5L1682.1,6.4M1681.5,-22.4L1683.2,-8.3M1681.5,20.5L1683.2,6.4M1684.4,-22.4L1684.1,-8.3M1684.4,20.5L1684.1,6.4M1687.4,-22.4L1685.2,-8.3M1687.4,20.5L1685.2,6.4M1676.9,-18.8L1689.1,-18.8M1676.9,17L1689.1,17M1678.3,-15.1L1687.8,-15.1M1678.3,13.3L1687.8,13.3M1679.7,-11.5L1686.4,-11.5M1679.7,9.6L1686.4,9.6M1690.4,-23C1685.9,-9.3 1685.9,7.5 1690.4,21.2M1693.4,-23C1688.9,-9.3 1688.9,7.5 1693.4,21.2M1661.2,20.5L1712.7,20.5M1661.2,-22.4L1712.7,-22.4" fill="none" stroke="#161616" stroke-width="1.0" stroke-opacity="0.85" /></g><path d="M1633.6,-0.2C1633.6,-8.2 1634.4,-13.2 1637.6,-15.5C1640.3,-17.5 1647.3,-18.1 1658.2,-18.3L1661.2,-20.8C1666.1,-21.8 1680,-22.4 1686.9,-22.4L1706.7,-21.8Q1711.3,-21.6 1711.4,-17.9L1711.5,17.9Q1711.3,21.6 1706.7,21.9L1686.9,22.4C1677,22.4 1667.1,21.4 1662.1,19.4L1659.2,16.4C1647.3,17 1640.3,16.4 1637.6,14.4C1634.4,12.3 1633.6,7.8 1633.6,-0.2Z" fill="none" stroke="#444" stroke-opacity="0.4" stroke-width="0.8"/></g><g transform="translate(0,702.7)"><clipPath id="cT42"><path d="M1633.6,-0.1C1633.6,-8.1 1634.4,-13.1 1637.6,-15.4C1640.3,-17.4 1647.3,-18 1658.2,-18.2L1661.2,-20.8C1666.1,-21.8 1680,-22.4 1686.9,-22.4L1706.7,-21.8Q1711.3,-21.6 1711.4,-17.9L1711.5,17.9Q1711.3,21.6 1706.7,21.9L1686.9,22.4C1677,22.4 1667.1,21.4 1662.1,19.4L1659.2,16.5C1647.3,17.1 1640.3,16.5 1637.6,14.5C1634.4,12.4 1633.6,7.9 1633.6,-0.1Z"/></clipPath><path d="M1633.6,-0.1C1633.6,-8.1 1634.4,-13.1 1637.6,-15.4C1640.3,-17.4 1647.3,-18 1658.2,-18.2L1661.2,-20.8C1666.1,-21.8 1680,-22.4 1686.9,-22.4L1706.7,-21.8Q1711.3,-21.6 1711.4,-17.9L1711.5,17.9Q1711.3,21.6 1706.7,21.9L1686.9,22.4C1677,22.4 1667.1,21.4 1662.1,19.4L1659.2,16.5C1647.3,17.1 1640.3,16.5 1637.6,14.5C1634.4,12.4 1633.6,7.9 1633.6,-0.1Z" fill="url(#gT)"/><g clip-path="url(#cT42)"><path d="M1686.9,-30L1712.7,-30L1712.7,30L1686.9,30Z" fill="#d0d0d0"/><path d="M1661.2,-23L1688.9,-23L1683.9,-3.8L1683.9,2.6L1688.9,21.8L1661.2,21.8Z" fill="url(#gTn)"/><path d="M1675.5,-22.4L1690.4,-22.4L1685.9,-9.7L1681,-7.6Z" fill="#d2d2d2"/><path d="M1675.5,21.2L1690.4,21.2L1685.9,8.5L1681,6.3Z" fill="#a4a4a4"/><path d="M1633.4,-0.1C1633.4,-10.1 1635.4,-17.1 1640.3,-17.8L1660.2,-18.2C1664.1,-10.1 1664.1,9.9 1660.2,16.5L1640.3,16.7C1635.4,15.9 1633.4,9.9 1633.4,-0.1Z" fill="url(#gTh)"/><path d="M1660.2,21.2L1712.7,21.2L1712.7,40L1660.2,40Z" fill="#8c8c8c"/><path d="M1636.4,13.4L1660.2,14.4L1660.2,40L1636.4,40Z" fill="#000" fill-opacity="0.16"/><path d="M1633.4,-11.1C1641.3,-11.9 1651.2,-11.9 1662.1,-10.9M1633.4,-8.4C1641.3,-9 1651.2,-9 1662.1,-8.3M1633.4,-5.7C1641.3,-6.1 1651.2,-6.1 1662.1,-5.6M1633.4,-2.9C1641.3,-3.1 1651.2,-3.1 1662.1,-2.8M1633.4,-0.1C1641.3,-0.1 1651.2,-0.1 1662.1,-0.1M1633.4,2.8C1641.3,3 1651.2,3 1662.1,2.8M1633.4,5.7C1641.3,6.2 1651.2,6.2 1662.1,5.7M1633.4,8.4C1641.3,9 1651.2,9 1662.1,8.3M1633.4,11C1641.3,11.9 1651.2,11.9 1662.1,11M1640.7,-18.6C1638.5,-8.1 1638.5,7.9 1640.7,17.4M1646.8,-18.6C1644.6,-8.1 1644.6,7.9 1646.8,17.4M1652.7,-18.6C1650.5,-8.1 1650.5,7.9 1652.7,17.4M1658.7,-18.6C1656.5,-8.1 1656.5,7.9 1658.7,17.4M1662.1,-23C1665.6,-10.2 1665.6,9 1662.1,21.8M1663.9,-23C1667.4,-10.2 1667.4,9 1663.9,21.8M1665.7,-23C1669.2,-10.2 1669.2,9 1665.7,21.8M1667.5,-23C1671,-10.2 1671,9 1667.5,21.8M1669.3,-23C1672.7,-10.2 1672.7,9 1669.3,21.8M1671.1,-23C1674.5,-10.2 1674.5,9 1671.1,21.8M1672.8,-23C1676.3,-10.2 1676.3,9 1672.8,21.8M1674.6,-23C1678.1,-10.2 1678.1,9 1674.6,21.8M1662.1,-0.6C1669.1,0.2 1678,-0.2 1683.9,-0.6S1701.8,-0.2 1712.7,-0.6M1662.1,-12.2C1669.1,-10.9 1676,-7 1683.9,-3.4M1662.1,-9.3C1669.1,-8.3 1676,-5.4 1683.9,-2.7M1662.1,-6.4C1669.1,-5.7 1676,-3.8 1683.9,-2M1662.1,-0.6C1669.1,-0.6 1676,-0.6 1683.9,-0.6M1662.1,5.1C1669.1,4.5 1676,2.6 1683.9,0.8M1662.1,8C1669.1,7.1 1676,4.2 1683.9,1.5M1662.1,10.9C1669.1,9.6 1676,5.8 1683.9,2.2M1690.4,-23C1687.4,-13.4 1684.4,-7 1681,-4.4M1690.4,21.8C1687.4,12.2 1684.4,5.8 1681,3.1M1691.6,-23C1688.6,-13.4 1685.1,-7 1681.6,-4.4M1691.6,21.8C1688.6,12.2 1685.1,5.8 1681.6,3.1M1692.8,-23C1689.8,-13.4 1685.8,-7 1682.2,-4.4M1692.8,21.8C1689.8,12.2 1685.8,5.8 1682.2,3.1M1694,-23C1691,-13.4 1686.6,-7 1682.8,-4.4M1694,21.8C1691,12.2 1686.6,5.8 1682.8,3.1M1695.1,-23C1692.2,-13.4 1687.3,-7 1683.4,-4.4M1695.1,21.8C1692.2,12.2 1687.3,5.8 1683.4,3.1M1675.5,-22.4L1681,-7.6L1685.9,-9.7M1675.5,21.2L1681,6.3L1685.9,8.5M1681,-7.6C1679.5,-2.8 1679.5,1.5 1681,6.3M1683.9,-4.9C1683,-1.7 1683,0.4 1683.9,3.7M1693.4,-23.4L1693.4,22.2M1695.3,-23.4L1695.3,22.2M1697.3,-23.4L1697.3,22.2M1700,-23.4L1700,22.2M1702.8,-23.4L1702.8,22.2M1707.1,-23.4L1707.1,22.2M1688.9,-19.3C1695.8,-17.3 1704.8,-17.3 1712.7,-17.3M1688.9,-9.9C1695.8,-8.9 1704.8,-8.9 1712.7,-8.9M1688.9,8.5C1695.8,7.5 1704.8,7.5 1712.7,7.5M1688.9,17.6C1695.8,15.6 1704.8,15.6 1712.7,15.6M1690.2,-11.9C1693.9,-13.1 1703.8,-13.1 1712.7,-13.1M1688.4,-8.1C1693.9,-8.9 1703.8,-8.9 1712.7,-8.9M1686.7,-4.4C1693.9,-4.8 1703.8,-4.8 1712.7,-4.8M1686.7,3.1C1693.9,3.5 1703.8,3.5 1712.7,3.5M1688.4,6.9C1693.9,7.7 1703.8,7.7 1712.7,7.7M1690.2,10.6C1693.9,11.9 1703.8,11.9 1712.7,11.9M1678.5,-22.4L1682.1,-8.1M1678.5,21.2L1682.1,6.9M1681.5,-22.4L1683.2,-8.1M1681.5,21.2L1683.2,6.9M1684.4,-22.4L1684.1,-8.1M1684.4,21.2L1684.1,6.9M1687.4,-22.4L1685.2,-8.1M1687.4,21.2L1685.2,6.9M1676.9,-18.8L1689.1,-18.8M1676.9,17.5L1689.1,17.5M1678.3,-15L1687.8,-15M1678.3,13.8L1687.8,13.8M1679.7,-11.3L1686.4,-11.3M1679.7,10.1L1686.4,10.1M1690.4,-23C1685.9,-9.2 1685.9,7.9 1690.4,21.8M1693.4,-23C1688.9,-9.2 1688.9,7.9 1693.4,21.8M1661.2,21.2L1712.7,21.2M1661.2,-22.4L1712.7,-22.4" fill="none" stroke="#161616" stroke-width="1.0" stroke-opacity="0.85" /></g><path d="M1633.6,-0.1C1633.6,-8.1 1634.4,-13.1 1637.6,-15.4C1640.3,-17.4 1647.3,-18 1658.2,-18.2L1661.2,-20.8C1666.1,-21.8 1680,-22.4 1686.9,-22.4L1706.7,-21.8Q1711.3,-21.6 1711.4,-17.9L1711.5,17.9Q1711.3,21.6 1706.7,21.9L1686.9,22.4C1677,22.4 1667.1,21.4 1662.1,19.4L1659.2,16.5C1647.3,17.1 1640.3,16.5 1637.6,14.5C1634.4,12.4 1633.6,7.9 1633.6,-0.1Z" fill="none" stroke="#444" stroke-opacity="0.4" stroke-width="0.8"/></g><g transform="translate(0,756.2)"><clipPath id="cT43"><path d="M1633.6,-0.1C1633.6,-8.1 1634.4,-13.1 1637.6,-15.4C1640.3,-17.4 1647.3,-18 1658.2,-18.2L1661.2,-20.8C1666.1,-21.8 1680,-22.4 1686.9,-22.4L1706.7,-21.8Q1711.3,-21.6 1711.4,-17.9L1711.5,17.9Q1711.3,21.6 1706.7,21.9L1686.9,22.4C1677,22.4 1667.1,21.4 1662.1,19.4L1659.2,16.5C1647.3,17.1 1640.3,16.5 1637.6,14.5C1634.4,12.4 1633.6,7.9 1633.6,-0.1Z"/></clipPath><path d="M1633.6,-0.1C1633.6,-8.1 1634.4,-13.1 1637.6,-15.4C1640.3,-17.4 1647.3,-18 1658.2,-18.2L1661.2,-20.8C1666.1,-21.8 1680,-22.4 1686.9,-22.4L1706.7,-21.8Q1711.3,-21.6 1711.4,-17.9L1711.5,17.9Q1711.3,21.6 1706.7,21.9L1686.9,22.4C1677,22.4 1667.1,21.4 1662.1,19.4L1659.2,16.5C1647.3,17.1 1640.3,16.5 1637.6,14.5C1634.4,12.4 1633.6,7.9 1633.6,-0.1Z" fill="url(#gT)"/><g clip-path="url(#cT43)"><path d="M1686.9,-30L1712.7,-30L1712.7,30L1686.9,30Z" fill="#d0d0d0"/><path d="M1661.2,-23L1688.9,-23L1683.9,-3.6L1683.9,2.9L1688.9,22.4L1661.2,22.4Z" fill="url(#gTn)"/><path d="M1675.5,-22.4L1690.4,-22.4L1685.9,-9.5L1681,-7.3Z" fill="#d2d2d2"/><path d="M1675.5,21.8L1690.4,21.8L1685.9,8.9L1681,6.7Z" fill="#a4a4a4"/><path d="M1633.4,-0.1C1633.4,-10.1 1635.4,-17.1 1640.3,-17.8L1660.2,-18.2C1664.1,-10.1 1664.1,9.9 1660.2,16.5L1640.3,16.7C1635.4,15.9 1633.4,9.9 1633.4,-0.1Z" fill="url(#gTh)"/><path d="M1660.2,21.8L1712.7,21.8L1712.7,40L1660.2,40Z" fill="#8c8c8c"/><path d="M1636.4,13.4L1660.2,14.4L1660.2,40L1636.4,40Z" fill="#000" fill-opacity="0.16"/><path d="M1633.4,-11C1641.3,-11.9 1651.2,-11.9 1662.1,-10.9M1633.4,-8.4C1641.3,-9 1651.2,-9 1662.1,-8.2M1633.4,-5.7C1641.3,-6.1 1651.2,-6.1 1662.1,-5.6M1633.4,-2.9C1641.3,-3.1 1651.2,-3.1 1662.1,-2.8M1633.4,-0.1C1641.3,-0.1 1651.2,-0.1 1662.1,0M1633.4,2.9C1641.3,3.1 1651.2,3.1 1662.1,2.9M1633.4,5.8C1641.3,6.2 1651.2,6.2 1662.1,5.8M1633.4,8.4C1641.3,9.1 1651.2,9.1 1662.1,8.4M1633.4,11.1C1641.3,11.9 1651.2,11.9 1662.1,11M1640.7,-18.6C1638.5,-8.1 1638.5,7.9 1640.7,17.4M1646.8,-18.6C1644.6,-8.1 1644.6,7.9 1646.8,17.4M1652.7,-18.6C1650.5,-8.1 1650.5,7.9 1652.7,17.4M1658.7,-18.6C1656.5,-8.1 1656.5,7.9 1658.7,17.4M1662.1,-23C1665.6,-10.1 1665.6,9.4 1662.1,22.4M1663.9,-23C1667.4,-10.1 1667.4,9.4 1663.9,22.4M1665.7,-23C1669.2,-10.1 1669.2,9.4 1665.7,22.4M1667.5,-23C1671,-10.1 1671,9.4 1667.5,22.4M1669.3,-23C1672.7,-10.1 1672.7,9.4 1669.3,22.4M1671.1,-23C1674.5,-10.1 1674.5,9.4 1671.1,22.4M1672.8,-23C1676.3,-10.1 1676.3,9.4 1672.8,22.4M1674.6,-23C1678.1,-10.1 1678.1,9.4 1674.6,22.4M1662.1,-0.3C1669.1,0.6 1678,0.1 1683.9,-0.3S1701.8,0.1 1712.7,-0.3M1662.1,-12C1669.1,-10.7 1676,-6.8 1683.9,-3.2M1662.1,-9.1C1669.1,-8.1 1676,-5.2 1683.9,-2.5M1662.1,-6.2C1669.1,-5.5 1676,-3.6 1683.9,-1.7M1662.1,-0.3C1669.1,-0.3 1676,-0.3 1683.9,-0.3M1662.1,5.5C1669.1,4.9 1676,2.9 1683.9,1.1M1662.1,8.5C1669.1,7.5 1676,4.6 1683.9,1.8M1662.1,11.4C1669.1,10.1 1676,6.2 1683.9,2.5M1690.4,-23C1687.4,-13.3 1684.4,-6.8 1681,-4.1M1690.4,22.4C1687.4,12.7 1684.4,6.2 1681,3.5M1691.6,-23C1688.6,-13.3 1685.1,-6.8 1681.6,-4.1M1691.6,22.4C1688.6,12.7 1685.1,6.2 1681.6,3.5M1692.8,-23C1689.8,-13.3 1685.8,-6.8 1682.2,-4.1M1692.8,22.4C1689.8,12.7 1685.8,6.2 1682.2,3.5M1694,-23C1691,-13.3 1686.6,-6.8 1682.8,-4.1M1694,22.4C1691,12.7 1686.6,6.2 1682.8,3.5M1695.1,-23C1692.2,-13.3 1687.3,-6.8 1683.4,-4.1M1695.1,22.4C1692.2,12.7 1687.3,6.2 1683.4,3.5M1675.5,-22.4L1681,-7.3L1685.9,-9.5M1675.5,21.8L1681,6.7L1685.9,8.9M1681,-7.3C1679.5,-2.5 1679.5,1.9 1681,6.7M1683.9,-4.6C1683,-1.4 1683,0.8 1683.9,4M1693.4,-23.4L1693.4,22.8M1695.3,-23.4L1695.3,22.8M1697.3,-23.4L1697.3,22.8M1700,-23.4L1700,22.8M1702.8,-23.4L1702.8,22.8M1707.1,-23.4L1707.1,22.8M1688.9,-19.2C1695.8,-17.2 1704.8,-17.2 1712.7,-17.2M1688.9,-9.8C1695.8,-8.8 1704.8,-8.8 1712.7,-8.8M1688.9,8.9C1695.8,7.9 1704.8,7.9 1712.7,7.9M1688.9,18.1C1695.8,16.1 1704.8,16.1 1712.7,16.1M1690.2,-11.7C1693.9,-13 1703.8,-13 1712.7,-13M1688.4,-7.9C1693.9,-8.8 1703.8,-8.8 1712.7,-8.8M1686.7,-4.1C1693.9,-4.5 1703.8,-4.5 1712.7,-4.5M1686.7,3.5C1693.9,3.9 1703.8,3.9 1712.7,3.9M1688.4,7.3C1693.9,8.1 1703.8,8.1 1712.7,8.1M1690.2,11.1C1693.9,12.4 1703.8,12.4 1712.7,12.4M1678.5,-22.4L1682.1,-7.9M1678.5,21.8L1682.1,7.3M1681.5,-22.4L1683.2,-7.9M1681.5,21.8L1683.2,7.3M1684.4,-22.4L1684.1,-7.9M1684.4,21.8L1684.1,7.3M1687.4,-22.4L1685.2,-7.9M1687.4,21.8L1685.2,7.3M1676.9,-18.7L1689.1,-18.7M1676.9,18.1L1689.1,18.1M1678.3,-14.9L1687.8,-14.9M1678.3,14.3L1687.8,14.3M1679.7,-11.1L1686.4,-11.1M1679.7,10.5L1686.4,10.5M1690.4,-23C1685.9,-9 1685.9,8.4 1690.4,22.4M1693.4,-23C1688.9,-9 1688.9,8.4 1693.4,22.4M1661.2,21.8L1712.7,21.8M1661.2,-22.4L1712.7,-22.4" fill="none" stroke="#161616" stroke-width="1.0" stroke-opacity="0.85" /></g><path d="M1633.6,-0.1C1633.6,-8.1 1634.4,-13.1 1637.6,-15.4C1640.3,-17.4 1647.3,-18 1658.2,-18.2L1661.2,-20.8C1666.1,-21.8 1680,-22.4 1686.9,-22.4L1706.7,-21.8Q1711.3,-21.6 1711.4,-17.9L1711.5,17.9Q1711.3,21.6 1706.7,21.9L1686.9,22.4C1677,22.4 1667.1,21.4 1662.1,19.4L1659.2,16.5C1647.3,17.1 1640.3,16.5 1637.6,14.5C1634.4,12.4 1633.6,7.9 1633.6,-0.1Z" fill="none" stroke="#444" stroke-opacity="0.4" stroke-width="0.8"/></g><g transform="translate(0,809.7)"><clipPath id="cT44"><path d="M1633.6,0C1633.6,-8 1634.4,-13 1637.6,-15.3C1640.3,-17.3 1647.3,-17.9 1658.2,-18.1L1661.2,-20.8C1666.1,-21.8 1680,-22.4 1686.9,-22.4L1706.7,-21.8Q1711.3,-21.6 1711.4,-17.9L1711.5,17.9Q1711.3,21.6 1706.7,21.9L1686.9,22.4C1677,22.4 1667.1,21.4 1662.1,19.4L1659.2,16.6C1647.3,17.2 1640.3,16.6 1637.6,14.6C1634.4,12.5 1633.6,8 1633.6,0Z"/></clipPath><path d="M1633.6,0C1633.6,-8 1634.4,-13 1637.6,-15.3C1640.3,-17.3 1647.3,-17.9 1658.2,-18.1L1661.2,-20.8C1666.1,-21.8 1680,-22.4 1686.9,-22.4L1706.7,-21.8Q1711.3,-21.6 1711.4,-17.9L1711.5,17.9Q1711.3,21.6 1706.7,21.9L1686.9,22.4C1677,22.4 1667.1,21.4 1662.1,19.4L1659.2,16.6C1647.3,17.2 1640.3,16.6 1637.6,14.6C1634.4,12.5 1633.6,8 1633.6,0Z" fill="url(#gT)"/><g clip-path="url(#cT44)"><path d="M1686.9,-30L1712.7,-30L1712.7,30L1686.9,30Z" fill="#d0d0d0"/><path d="M1661.2,-23.1L1688.9,-23.1L1683.9,-3.3L1683.9,3.3L1688.9,23.1L1661.2,23.1Z" fill="url(#gTn)"/><path d="M1675.5,-22.4L1690.4,-22.4L1685.9,-9.3L1681,-7.1Z" fill="#d2d2d2"/><path d="M1675.5,22.4L1690.4,22.4L1685.9,9.3L1681,7.1Z" fill="#a4a4a4"/><path d="M1633.4,0C1633.4,-10 1635.4,-17 1640.3,-17.7L1660.2,-18.1C1664.1,-10 1664.1,10 1660.2,16.6L1640.3,16.8C1635.4,16 1633.4,10 1633.4,0Z" fill="url(#gTh)"/><path d="M1633.4,-11C1641.3,-11.8 1651.2,-11.8 1662.1,-10.9M1633.4,-8.3C1641.3,-8.9 1651.2,-8.9 1662.1,-8.2M1633.4,-5.6C1641.3,-6 1651.2,-6 1662.1,-5.5M1633.4,-2.8C1641.3,-3 1651.2,-3 1662.1,-2.8M1633.4,0C1641.3,0 1651.2,0 1662.1,0M1633.4,2.9C1641.3,3.1 1651.2,3.1 1662.1,2.9M1633.4,5.9C1641.3,6.3 1651.2,6.3 1662.1,5.8M1633.4,8.5C1641.3,9.2 1651.2,9.2 1662.1,8.4M1633.4,11.2C1641.3,12 1651.2,12 1662.1,11M1640.7,-18.5C1638.5,-8 1638.5,8 1640.7,17.5M1646.8,-18.5C1644.6,-8 1644.6,8 1646.8,17.5M1652.7,-18.5C1650.5,-8 1650.5,8 1652.7,17.5M1658.7,-18.5C1656.5,-8 1656.5,8 1658.7,17.5M1662.1,-23.1C1665.6,-9.9 1665.6,9.9 1662.1,23.1M1663.9,-23.1C1667.4,-9.9 1667.4,9.9 1663.9,23.1M1665.7,-23.1C1669.2,-9.9 1669.2,9.9 1665.7,23.1M1667.5,-23.1C1671,-9.9 1671,9.9 1667.5,23.1M1669.3,-23.1C1672.7,-9.9 1672.7,9.9 1669.3,23.1M1671.1,-23.1C1674.5,-9.9 1674.5,9.9 1671.1,23.1M1672.8,-23.1C1676.3,-9.9 1676.3,9.9 1672.8,23.1M1674.6,-23.1C1678.1,-9.9 1678.1,9.9 1674.6,23.1M1662.1,0C1669.1,0.9 1678,0.4 1683.9,0S1701.8,0.4 1712.7,0M1662.1,-11.9C1669.1,-10.5 1676,-6.6 1683.9,-2.9M1662.1,-8.9C1669.1,-7.9 1676,-4.9 1683.9,-2.2M1662.1,-5.9C1669.1,-5.3 1676,-3.3 1683.9,-1.4M1662.1,0C1669.1,0 1676,0 1683.9,0M1662.1,5.9C1669.1,5.3 1676,3.3 1683.9,1.4M1662.1,8.9C1669.1,7.9 1676,4.9 1683.9,2.2M1662.1,11.9C1669.1,10.5 1676,6.6 1683.9,2.9M1690.4,-23.1C1687.4,-13.2 1684.4,-6.6 1681,-3.8M1690.4,23.1C1687.4,13.2 1684.4,6.6 1681,3.8M1691.6,-23.1C1688.6,-13.2 1685.1,-6.6 1681.6,-3.8M1691.6,23.1C1688.6,13.2 1685.1,6.6 1681.6,3.8M1692.8,-23.1C1689.8,-13.2 1685.8,-6.6 1682.2,-3.8M1692.8,23.1C1689.8,13.2 1685.8,6.6 1682.2,3.8M1694,-23.1C1691,-13.2 1686.6,-6.6 1682.8,-3.8M1694,23.1C1691,13.2 1686.6,6.6 1682.8,3.8M1695.1,-23.1C1692.2,-13.2 1687.3,-6.6 1683.4,-3.8M1695.1,23.1C1692.2,13.2 1687.3,6.6 1683.4,3.8M1675.5,-22.4L1681,-7.1L1685.9,-9.3M1675.5,22.4L1681,7.1L1685.9,9.3M1681,-7.1C1679.5,-2.2 1679.5,2.2 1681,7.1M1683.9,-4.4C1683,-1.1 1683,1.1 1683.9,4.4M1693.4,-23.4L1693.4,23.4M1695.3,-23.4L1695.3,23.4M1697.3,-23.4L1697.3,23.4M1700,-23.4L1700,23.4M1702.8,-23.4L1702.8,23.4M1707.1,-23.4L1707.1,23.4M1688.9,-19.2C1695.8,-17.1 1704.8,-17.1 1712.7,-17.1M1688.9,-9.6C1695.8,-8.6 1704.8,-8.6 1712.7,-8.6M1688.9,9.3C1695.8,8.3 1704.8,8.3 1712.7,8.3M1688.9,18.7C1695.8,16.7 1704.8,16.7 1712.7,16.7M1690.2,-11.6C1693.9,-12.8 1703.8,-12.8 1712.7,-12.8M1688.4,-7.7C1693.9,-8.6 1703.8,-8.6 1712.7,-8.6M1686.7,-3.9C1693.9,-4.3 1703.8,-4.3 1712.7,-4.3M1686.7,3.9C1693.9,4.3 1703.8,4.3 1712.7,4.3M1688.4,7.7C1693.9,8.6 1703.8,8.6 1712.7,8.6M1690.2,11.6C1693.9,12.8 1703.8,12.8 1712.7,12.8M1678.5,-22.4L1682.1,-7.7M1678.5,22.4L1682.1,7.7M1681.5,-22.4L1683.2,-7.7M1681.5,22.4L1683.2,7.7M1684.4,-22.4L1684.1,-7.7M1684.4,22.4L1684.1,7.7M1687.4,-22.4L1685.2,-7.7M1687.4,22.4L1685.2,7.7M1676.9,-18.7L1689.1,-18.7M1676.9,18.7L1689.1,18.7M1678.3,-14.8L1687.8,-14.8M1678.3,14.8L1687.8,14.8M1679.7,-11L1686.4,-11M1679.7,11L1686.4,11M1690.4,-23.1C1685.9,-8.8 1685.9,8.8 1690.4,23.1M1693.4,-23.1C1688.9,-8.8 1688.9,8.8 1693.4,23.1M1661.2,22.4L1712.7,22.4M1661.2,-22.4L1712.7,-22.4" fill="none" stroke="#161616" stroke-width="1.0" stroke-opacity="0.85" /></g><path d="M1633.6,0C1633.6,-8 1634.4,-13 1637.6,-15.3C1640.3,-17.3 1647.3,-17.9 1658.2,-18.1L1661.2,-20.8C1666.1,-21.8 1680,-22.4 1686.9,-22.4L1706.7,-21.8Q1711.3,-21.6 1711.4,-17.9L1711.5,17.9Q1711.3,21.6 1706.7,21.9L1686.9,22.4C1677,22.4 1667.1,21.4 1662.1,19.4L1659.2,16.6C1647.3,17.2 1640.3,16.6 1637.6,14.6C1634.4,12.5 1633.6,8 1633.6,0Z" fill="none" stroke="#444" stroke-opacity="0.4" stroke-width="0.8"/></g><g transform="translate(0,863.2)"><clipPath id="cT45"><path d="M1633.6,0.1C1633.6,-7.9 1634.4,-12.9 1637.6,-15.2C1640.3,-17.2 1647.3,-17.8 1658.2,-18L1661.2,-20.8C1666.1,-21.8 1680,-22.4 1686.9,-22.4L1706.7,-21.8Q1711.3,-21.6 1711.4,-17.9L1711.5,17.9Q1711.3,21.6 1706.7,21.9L1686.9,22.4C1677,22.4 1667.1,21.4 1662.1,19.4L1659.2,16.7C1647.3,17.3 1640.3,16.7 1637.6,14.7C1634.4,12.6 1633.6,8.1 1633.6,0.1Z"/></clipPath><path d="M1633.6,0.1C1633.6,-7.9 1634.4,-12.9 1637.6,-15.2C1640.3,-17.2 1647.3,-17.8 1658.2,-18L1661.2,-20.8C1666.1,-21.8 1680,-22.4 1686.9,-22.4L1706.7,-21.8Q1711.3,-21.6 1711.4,-17.9L1711.5,17.9Q1711.3,21.6 1706.7,21.9L1686.9,22.4C1677,22.4 1667.1,21.4 1662.1,19.4L1659.2,16.7C1647.3,17.3 1640.3,16.7 1637.6,14.7C1634.4,12.6 1633.6,8.1 1633.6,0.1Z" fill="url(#gT)"/><g clip-path="url(#cT45)"><path d="M1686.9,-30L1712.7,-30L1712.7,30L1686.9,30Z" fill="#d0d0d0"/><path d="M1661.2,-22.1L1688.9,-22.1L1683.9,-2.8L1683.9,3.7L1688.9,23L1661.2,23Z" fill="url(#gTn)"/><path d="M1675.5,-21.5L1690.4,-21.5L1685.9,-8.7L1681,-6.5Z" fill="#d2d2d2"/><path d="M1675.5,22.4L1690.4,22.4L1685.9,9.6L1681,7.4Z" fill="#a4a4a4"/><path d="M1633.4,0.1C1633.4,-9.9 1635.4,-16.9 1640.3,-17.6L1660.2,-18C1664.1,-9.9 1664.1,10.1 1660.2,16.7L1640.3,16.9C1635.4,16.1 1633.4,10.1 1633.4,0.1Z" fill="url(#gTh)"/><path d="M1660.2,-21.5L1712.7,-21.5L1712.7,-40L1660.2,-40Z" fill="#929292"/><path d="M1633.4,-10.9C1641.3,-11.7 1651.2,-11.7 1662.1,-10.8M1633.4,-8.2C1641.3,-8.8 1651.2,-8.8 1662.1,-8.1M1633.4,-5.5C1641.3,-5.9 1651.2,-5.9 1662.1,-5.5M1633.4,-2.7C1641.3,-2.9 1651.2,-2.9 1662.1,-2.7M1633.4,0.1C1641.3,0.1 1651.2,0.1 1662.1,0.1M1633.4,3C1641.3,3.3 1651.2,3.3 1662.1,3M1633.4,6C1641.3,6.4 1651.2,6.4 1662.1,5.9M1633.4,8.6C1641.3,9.3 1651.2,9.3 1662.1,8.5M1633.4,11.3C1641.3,12.1 1651.2,12.1 1662.1,11.1M1640.7,-18.4C1638.5,-7.9 1638.5,8.1 1640.7,17.6M1646.8,-18.4C1644.6,-7.9 1644.6,8.1 1646.8,17.6M1652.7,-18.4C1650.5,-7.9 1650.5,8.1 1652.7,17.6M1658.7,-18.4C1656.5,-7.9 1656.5,8.1 1658.7,17.6M1662.1,-22.1C1665.6,-9.2 1665.6,10.1 1662.1,23M1663.9,-22.1C1667.4,-9.2 1667.4,10.1 1663.9,23M1665.7,-22.1C1669.2,-9.2 1669.2,10.1 1665.7,23M1667.5,-22.1C1671,-9.2 1671,10.1 1667.5,23M1669.3,-22.1C1672.7,-9.2 1672.7,10.1 1669.3,23M1671.1,-22.1C1674.5,-9.2 1674.5,10.1 1671.1,23M1672.8,-22.1C1676.3,-9.2 1676.3,10.1 1672.8,23M1674.6,-22.1C1678.1,-9.2 1678.1,10.1 1674.6,23M1662.1,0.4C1669.1,1.3 1678,0.9 1683.9,0.4S1701.8,0.9 1712.7,0.4M1662.1,-11.2C1669.1,-9.9 1676,-6 1683.9,-2.4M1662.1,-8.3C1669.1,-7.3 1676,-4.4 1683.9,-1.7M1662.1,-5.4C1669.1,-4.7 1676,-2.8 1683.9,-1M1662.1,0.4C1669.1,0.4 1676,0.4 1683.9,0.4M1662.1,6.3C1669.1,5.6 1676,3.7 1683.9,1.9M1662.1,9.2C1669.1,8.2 1676,5.3 1683.9,2.6M1662.1,12.1C1669.1,10.8 1676,6.9 1683.9,3.3M1690.4,-22.1C1687.4,-12.5 1684.4,-6 1681,-3.3M1690.4,23C1687.4,13.4 1684.4,6.9 1681,4.2M1691.6,-22.1C1688.6,-12.5 1685.1,-6 1681.6,-3.3M1691.6,23C1688.6,13.4 1685.1,6.9 1681.6,4.2M1692.8,-22.1C1689.8,-12.5 1685.8,-6 1682.2,-3.3M1692.8,23C1689.8,13.4 1685.8,6.9 1682.2,4.2M1694,-22.1C1691,-12.5 1686.6,-6 1682.8,-3.3M1694,23C1691,13.4 1686.6,6.9 1682.8,4.2M1695.1,-22.1C1692.2,-12.5 1687.3,-6 1683.4,-3.3M1695.1,23C1692.2,13.4 1687.3,6.9 1683.4,4.2M1675.5,-21.5L1681,-6.5L1685.9,-8.7M1675.5,22.4L1681,7.4L1685.9,9.6M1681,-6.5C1679.5,-1.7 1679.5,2.6 1681,7.4M1683.9,-3.9C1683,-0.6 1683,1.5 1683.9,4.8M1693.4,-22.5L1693.4,23.4M1695.3,-22.5L1695.3,23.4M1697.3,-22.5L1697.3,23.4M1700,-22.5L1700,23.4M1702.8,-22.5L1702.8,23.4M1707.1,-22.5L1707.1,23.4M1688.9,-18.3C1695.8,-16.3 1704.8,-16.3 1712.7,-16.3M1688.9,-8.9C1695.8,-7.9 1704.8,-7.9 1712.7,-7.9M1688.9,9.6C1695.8,8.6 1704.8,8.6 1712.7,8.6M1688.9,18.8C1695.8,16.8 1704.8,16.8 1712.7,16.8M1690.2,-10.9C1693.9,-12.1 1703.8,-12.1 1712.7,-12.1M1688.4,-7.1C1693.9,-7.9 1703.8,-7.9 1712.7,-7.9M1686.7,-3.3C1693.9,-3.7 1703.8,-3.7 1712.7,-3.7M1686.7,4.2C1693.9,4.6 1703.8,4.6 1712.7,4.6M1688.4,8C1693.9,8.8 1703.8,8.8 1712.7,8.8M1690.2,11.8C1693.9,13 1703.8,13 1712.7,13M1678.5,-21.5L1682.1,-7.1M1678.5,22.4L1682.1,8M1681.5,-21.5L1683.2,-7.1M1681.5,22.4L1683.2,8M1684.4,-21.5L1684.1,-7.1M1684.4,22.4L1684.1,8M1687.4,-21.5L1685.2,-7.1M1687.4,22.4L1685.2,8M1676.9,-17.8L1689.1,-17.8M1676.9,18.7L1689.1,18.7M1678.3,-14.1L1687.8,-14.1M1678.3,15L1687.8,15M1679.7,-10.3L1686.4,-10.3M1679.7,11.2L1686.4,11.2M1690.4,-22.1C1685.9,-8.2 1685.9,9.1 1690.4,23M1693.4,-22.1C1688.9,-8.2 1688.9,9.1 1693.4,23M1661.2,22.4L1712.7,22.4M1661.2,-21.5L1712.7,-21.5" fill="none" stroke="#161616" stroke-width="1.0" stroke-opacity="0.85" /></g><path d="M1633.6,0.1C1633.6,-7.9 1634.4,-12.9 1637.6,-15.2C1640.3,-17.2 1647.3,-17.8 1658.2,-18L1661.2,-20.8C1666.1,-21.8 1680,-22.4 1686.9,-22.4L1706.7,-21.8Q1711.3,-21.6 1711.4,-17.9L1711.5,17.9Q1711.3,21.6 1706.7,21.9L1686.9,22.4C1677,22.4 1667.1,21.4 1662.1,19.4L1659.2,16.7C1647.3,17.3 1640.3,16.7 1637.6,14.7C1634.4,12.6 1633.6,8.1 1633.6,0.1Z" fill="none" stroke="#444" stroke-opacity="0.4" stroke-width="0.8"/></g><g transform="translate(0,916.7)"><clipPath id="cT46"><path d="M1633.6,0.2C1633.6,-7.8 1634.4,-12.8 1637.6,-15.1C1640.3,-17.1 1647.3,-17.7 1658.2,-17.9L1661.2,-20.8C1666.1,-21.8 1680,-22.4 1686.9,-22.4L1706.7,-21.8Q1711.3,-21.6 1711.4,-17.9L1711.5,17.9Q1711.3,21.6 1706.7,21.9L1686.9,22.4C1677,22.4 1667.1,21.4 1662.1,19.4L1659.2,16.8C1647.3,17.4 1640.3,16.8 1637.6,14.8C1634.4,12.7 1633.6,8.2 1633.6,0.2Z"/></clipPath><path d="M1633.6,0.2C1633.6,-7.8 1634.4,-12.8 1637.6,-15.1C1640.3,-17.1 1647.3,-17.7 1658.2,-17.9L1661.2,-20.8C1666.1,-21.8 1680,-22.4 1686.9,-22.4L1706.7,-21.8Q1711.3,-21.6 1711.4,-17.9L1711.5,17.9Q1711.3,21.6 1706.7,21.9L1686.9,22.4C1677,22.4 1667.1,21.4 1662.1,19.4L1659.2,16.8C1647.3,17.4 1640.3,16.8 1637.6,14.8C1634.4,12.7 1633.6,8.2 1633.6,0.2Z" fill="url(#gT)"/><g clip-path="url(#cT46)"><path d="M1686.9,-30L1712.7,-30L1712.7,30L1686.9,30Z" fill="#d0d0d0"/><path d="M1661.2,-21.2L1688.9,-21.2L1683.9,-2.3L1683.9,4.1L1688.9,23L1661.2,23Z" fill="url(#gTn)"/><path d="M1675.5,-20.6L1690.4,-20.6L1685.9,-8.1L1681,-6Z" fill="#d2d2d2"/><path d="M1675.5,22.4L1690.4,22.4L1685.9,9.9L1681,7.8Z" fill="#a4a4a4"/><path d="M1633.4,0.2C1633.4,-9.8 1635.4,-16.8 1640.3,-17.5L1660.2,-17.9C1664.1,-9.8 1664.1,10.2 1660.2,16.8L1640.3,17C1635.4,16.2 1633.4,10.2 1633.4,0.2Z" fill="url(#gTh)"/><path d="M1660.2,-20.6L1712.7,-20.6L1712.7,-40L1660.2,-40Z" fill="#929292"/><path d="M1633.4,-10.8C1641.3,-11.6 1651.2,-11.6 1662.1,-10.7M1633.4,-8.1C1641.3,-8.7 1651.2,-8.7 1662.1,-8.1M1633.4,-5.4C1641.3,-5.8 1651.2,-5.8 1662.1,-5.4M1633.4,-2.6C1641.3,-2.8 1651.2,-2.8 1662.1,-2.7M1633.4,0.2C1641.3,0.2 1651.2,0.2 1662.1,0.1M1633.4,3.1C1641.3,3.4 1651.2,3.4 1662.1,3M1633.4,6.1C1641.3,6.5 1651.2,6.5 1662.1,5.9M1633.4,8.7C1641.3,9.4 1651.2,9.4 1662.1,8.5M1633.4,11.4C1641.3,12.2 1651.2,12.2 1662.1,11.1M1640.7,-18.3C1638.5,-7.8 1638.5,8.2 1640.7,17.7M1646.8,-18.3C1644.6,-7.8 1644.6,8.2 1646.8,17.7M1652.7,-18.3C1650.5,-7.8 1650.5,8.2 1652.7,17.7M1658.7,-18.3C1656.5,-7.8 1656.5,8.2 1658.7,17.7M1662.1,-21.2C1665.6,-8.6 1665.6,10.4 1662.1,23M1663.9,-21.2C1667.4,-8.6 1667.4,10.4 1663.9,23M1665.7,-21.2C1669.2,-8.6 1669.2,10.4 1665.7,23M1667.5,-21.2C1671,-8.6 1671,10.4 1667.5,23M1669.3,-21.2C1672.7,-8.6 1672.7,10.4 1669.3,23M1671.1,-21.2C1674.5,-8.6 1674.5,10.4 1671.1,23M1672.8,-21.2C1676.3,-8.6 1676.3,10.4 1672.8,23M1674.6,-21.2C1678.1,-8.6 1678.1,10.4 1674.6,23M1662.1,0.9C1669.1,1.7 1678,1.3 1683.9,0.9S1701.8,1.3 1712.7,0.9M1662.1,-10.5C1669.1,-9.2 1676,-5.4 1683.9,-1.9M1662.1,-7.6C1669.1,-6.7 1676,-3.8 1683.9,-1.2M1662.1,-4.8C1669.1,-4.2 1676,-2.3 1683.9,-0.5M1662.1,0.9C1669.1,0.9 1676,0.9 1683.9,0.9M1662.1,6.6C1669.1,6 1676,4.1 1683.9,2.3M1662.1,9.4C1669.1,8.5 1676,5.6 1683.9,3M1662.1,12.3C1669.1,11 1676,7.2 1683.9,3.7M1690.4,-21.2C1687.4,-11.7 1684.4,-5.4 1681,-2.8M1690.4,23C1687.4,13.5 1684.4,7.2 1681,4.6M1691.6,-21.2C1688.6,-11.7 1685.1,-5.4 1681.6,-2.8M1691.6,23C1688.6,13.5 1685.1,7.2 1681.6,4.6M1692.8,-21.2C1689.8,-11.7 1685.8,-5.4 1682.2,-2.8M1692.8,23C1689.8,13.5 1685.8,7.2 1682.2,4.6M1694,-21.2C1691,-11.7 1686.6,-5.4 1682.8,-2.8M1694,23C1691,13.5 1686.6,7.2 1682.8,4.6M1695.1,-21.2C1692.2,-11.7 1687.3,-5.4 1683.4,-2.8M1695.1,23C1692.2,13.5 1687.3,7.2 1683.4,4.6M1675.5,-20.6L1681,-6L1685.9,-8.1M1675.5,22.4L1681,7.8L1685.9,9.9M1681,-6C1679.5,-1.2 1679.5,3 1681,7.8M1683.9,-3.3C1683,-0.2 1683,2 1683.9,5.1M1693.4,-21.6L1693.4,23.4M1695.3,-21.6L1695.3,23.4M1697.3,-21.6L1697.3,23.4M1700,-21.6L1700,23.4M1702.8,-21.6L1702.8,23.4M1707.1,-21.6L1707.1,23.4M1688.9,-17.5C1695.8,-15.5 1704.8,-15.5 1712.7,-15.5M1688.9,-8.3C1695.8,-7.3 1704.8,-7.3 1712.7,-7.3M1688.9,9.9C1695.8,8.9 1704.8,8.9 1712.7,8.9M1688.9,18.8C1695.8,16.9 1704.8,16.9 1712.7,16.9M1690.2,-10.2C1693.9,-11.4 1703.8,-11.4 1712.7,-11.4M1688.4,-6.5C1693.9,-7.3 1703.8,-7.3 1712.7,-7.3M1686.7,-2.8C1693.9,-3.2 1703.8,-3.2 1712.7,-3.2M1686.7,4.6C1693.9,5 1703.8,5 1712.7,5M1688.4,8.3C1693.9,9.1 1703.8,9.1 1712.7,9.1M1690.2,12C1693.9,13.2 1703.8,13.2 1712.7,13.2M1678.5,-20.6L1682.1,-6.5M1678.5,22.4L1682.1,8.3M1681.5,-20.6L1683.2,-6.5M1681.5,22.4L1683.2,8.3M1684.4,-20.6L1684.1,-6.5M1684.4,22.4L1684.1,8.3M1687.4,-20.6L1685.2,-6.5M1687.4,22.4L1685.2,8.3M1676.9,-17L1689.1,-17M1676.9,18.8L1689.1,18.8M1678.3,-13.3L1687.8,-13.3M1678.3,15.1L1687.8,15.1M1679.7,-9.6L1686.4,-9.6M1679.7,11.4L1686.4,11.4M1690.4,-21.2C1685.9,-7.5 1685.9,9.3 1690.4,23M1693.4,-21.2C1688.9,-7.5 1688.9,9.3 1693.4,23M1661.2,22.4L1712.7,22.4M1661.2,-20.6L1712.7,-20.6" fill="none" stroke="#161616" stroke-width="1.0" stroke-opacity="0.85" /></g><path d="M1633.6,0.2C1633.6,-7.8 1634.4,-12.8 1637.6,-15.1C1640.3,-17.1 1647.3,-17.7 1658.2,-17.9L1661.2,-20.8C1666.1,-21.8 1680,-22.4 1686.9,-22.4L1706.7,-21.8Q1711.3,-21.6 1711.4,-17.9L1711.5,17.9Q1711.3,21.6 1706.7,21.9L1686.9,22.4C1677,22.4 1667.1,21.4 1662.1,19.4L1659.2,16.8C1647.3,17.4 1640.3,16.8 1637.6,14.8C1634.4,12.7 1633.6,8.2 1633.6,0.2Z" fill="none" stroke="#444" stroke-opacity="0.4" stroke-width="0.8"/></g><g transform="translate(0,970.2)"><clipPath id="cT47"><path d="M1633.6,0.3C1633.6,-7.7 1634.4,-12.7 1637.6,-15C1640.3,-17 1647.3,-17.6 1658.2,-17.8L1661.2,-20.8C1666.1,-21.8 1680,-22.4 1686.9,-22.4L1706.7,-21.8Q1711.3,-21.6 1711.4,-17.9L1711.5,17.9Q1711.3,21.6 1706.7,21.9L1686.9,22.4C1677,22.4 1667.1,21.4 1662.1,19.4L1659.2,16.9C1647.3,17.5 1640.3,16.9 1637.6,14.9C1634.4,12.8 1633.6,8.3 1633.6,0.3Z"/></clipPath><path d="M1633.6,0.3C1633.6,-7.7 1634.4,-12.7 1637.6,-15C1640.3,-17 1647.3,-17.6 1658.2,-17.8L1661.2,-20.8C1666.1,-21.8 1680,-22.4 1686.9,-22.4L1706.7,-21.8Q1711.3,-21.6 1711.4,-17.9L1711.5,17.9Q1711.3,21.6 1706.7,21.9L1686.9,22.4C1677,22.4 1667.1,21.4 1662.1,19.4L1659.2,16.9C1647.3,17.5 1640.3,16.9 1637.6,14.9C1634.4,12.8 1633.6,8.3 1633.6,0.3Z" fill="url(#gT)"/><g clip-path="url(#cT47)"><path d="M1686.9,-30L1712.7,-30L1712.7,30L1686.9,30Z" fill="#d0d0d0"/><path d="M1661.2,-20.3L1688.9,-20.3L1683.9,-1.7L1683.9,4.4L1688.9,23L1661.2,23Z" fill="url(#gTn)"/><path d="M1675.5,-19.7L1690.4,-19.7L1685.9,-7.4L1681,-5.4Z" fill="#d2d2d2"/><path d="M1675.5,22.4L1690.4,22.4L1685.9,10.1L1681,8.1Z" fill="#a4a4a4"/><path d="M1633.4,0.3C1633.4,-9.7 1635.4,-16.7 1640.3,-17.4L1660.2,-17.8C1664.1,-9.7 1664.1,10.3 1660.2,16.9L1640.3,17.1C1635.4,16.3 1633.4,10.3 1633.4,0.3Z" fill="url(#gTh)"/><path d="M1660.2,-19.7L1712.7,-19.7L1712.7,-40L1660.2,-40Z" fill="#929292"/><path d="M1633.4,-10.7C1641.3,-11.5 1651.2,-11.5 1662.1,-10.7M1633.4,-8C1641.3,-8.6 1651.2,-8.6 1662.1,-8M1633.4,-5.3C1641.3,-5.7 1651.2,-5.7 1662.1,-5.4M1633.4,-2.5C1641.3,-2.7 1651.2,-2.7 1662.1,-2.6M1633.4,0.3C1641.3,0.3 1651.2,0.3 1662.1,0.2M1633.4,3.3C1641.3,3.5 1651.2,3.5 1662.1,3.1M1633.4,6.2C1641.3,6.6 1651.2,6.6 1662.1,6M1633.4,8.8C1641.3,9.5 1651.2,9.5 1662.1,8.6M1633.4,11.5C1641.3,12.3 1651.2,12.3 1662.1,11.2M1640.7,-18.2C1638.5,-7.7 1638.5,8.3 1640.7,17.8M1646.8,-18.2C1644.6,-7.7 1644.6,8.3 1646.8,17.8M1652.7,-18.2C1650.5,-7.7 1650.5,8.3 1652.7,17.8M1658.7,-18.2C1656.5,-7.7 1656.5,8.3 1658.7,17.8M1662.1,-20.3C1665.6,-7.9 1665.6,10.6 1662.1,23M1663.9,-20.3C1667.4,-7.9 1667.4,10.6 1663.9,23M1665.7,-20.3C1669.2,-7.9 1669.2,10.6 1665.7,23M1667.5,-20.3C1671,-7.9 1671,10.6 1667.5,23M1669.3,-20.3C1672.7,-7.9 1672.7,10.6 1669.3,23M1671.1,-20.3C1674.5,-7.9 1674.5,10.6 1671.1,23M1672.8,-20.3C1676.3,-7.9 1676.3,10.6 1672.8,23M1674.6,-20.3C1678.1,-7.9 1678.1,10.6 1674.6,23M1662.1,1.3C1669.1,2.2 1678,1.8 1683.9,1.3S1701.8,1.8 1712.7,1.3M1662.1,-9.8C1669.1,-8.6 1676,-4.8 1683.9,-1.4M1662.1,-7C1669.1,-6.1 1676,-3.3 1683.9,-0.7M1662.1,-4.2C1669.1,-3.6 1676,-1.7 1683.9,0M1662.1,1.3C1669.1,1.3 1676,1.3 1683.9,1.3M1662.1,6.9C1669.1,6.3 1676,4.4 1683.9,2.7M1662.1,9.7C1669.1,8.8 1676,6 1683.9,3.4M1662.1,12.5C1669.1,11.3 1676,7.5 1683.9,4.1M1690.4,-20.3C1687.4,-11 1684.4,-4.8 1681,-2.3M1690.4,23C1687.4,13.7 1684.4,7.5 1681,5M1691.6,-20.3C1688.6,-11 1685.1,-4.8 1681.6,-2.3M1691.6,23C1688.6,13.7 1685.1,7.5 1681.6,5M1692.8,-20.3C1689.8,-11 1685.8,-4.8 1682.2,-2.3M1692.8,23C1689.8,13.7 1685.8,7.5 1682.2,5M1694,-20.3C1691,-11 1686.6,-4.8 1682.8,-2.3M1694,23C1691,13.7 1686.6,7.5 1682.8,5M1695.1,-20.3C1692.2,-11 1687.3,-4.8 1683.4,-2.3M1695.1,23C1692.2,13.7 1687.3,7.5 1683.4,5M1675.5,-19.7L1681,-5.4L1685.9,-7.4M1675.5,22.4L1681,8.1L1685.9,10.1M1681,-5.4C1679.5,-0.7 1679.5,3.4 1681,8.1M1683.9,-2.8C1683,0.3 1683,2.4 1683.9,5.5M1693.4,-20.7L1693.4,23.4M1695.3,-20.7L1695.3,23.4M1697.3,-20.7L1697.3,23.4M1700,-20.7L1700,23.4M1702.8,-20.7L1702.8,23.4M1707.1,-20.7L1707.1,23.4M1688.9,-16.7C1695.8,-14.7 1704.8,-14.7 1712.7,-14.7M1688.9,-7.7C1695.8,-6.7 1704.8,-6.7 1712.7,-6.7M1688.9,10.1C1695.8,9.2 1704.8,9.2 1712.7,9.2M1688.9,18.9C1695.8,17 1704.8,17 1712.7,17M1690.2,-9.5C1693.9,-10.7 1703.8,-10.7 1712.7,-10.7M1688.4,-5.9C1693.9,-6.7 1703.8,-6.7 1712.7,-6.7M1686.7,-2.3C1693.9,-2.7 1703.8,-2.7 1712.7,-2.7M1686.7,5C1693.9,5.4 1703.8,5.4 1712.7,5.4M1688.4,8.6C1693.9,9.4 1703.8,9.4 1712.7,9.4M1690.2,12.2C1693.9,13.4 1703.8,13.4 1712.7,13.4M1678.5,-19.7L1682.1,-5.9M1678.5,22.4L1682.1,8.6M1681.5,-19.7L1683.2,-5.9M1681.5,22.4L1683.2,8.6M1684.4,-19.7L1684.1,-5.9M1684.4,22.4L1684.1,8.6M1687.4,-19.7L1685.2,-5.9M1687.4,22.4L1685.2,8.6M1676.9,-16.2L1689.1,-16.2M1676.9,18.9L1689.1,18.9M1678.3,-12.6L1687.8,-12.6M1678.3,15.3L1687.8,15.3M1679.7,-9L1686.4,-9M1679.7,11.7L1686.4,11.7M1690.4,-20.3C1685.9,-6.9 1685.9,9.6 1690.4,23M1693.4,-20.3C1688.9,-6.9 1688.9,9.6 1693.4,23M1661.2,22.4L1712.7,22.4M1661.2,-19.7L1712.7,-19.7" fill="none" stroke="#161616" stroke-width="1.0" stroke-opacity="0.85" /></g><path d="M1633.6,0.3C1633.6,-7.7 1634.4,-12.7 1637.6,-15C1640.3,-17 1647.3,-17.6 1658.2,-17.8L1661.2,-20.8C1666.1,-21.8 1680,-22.4 1686.9,-22.4L1706.7,-21.8Q1711.3,-21.6 1711.4,-17.9L1711.5,17.9Q1711.3,21.6 1706.7,21.9L1686.9,22.4C1677,22.4 1667.1,21.4 1662.1,19.4L1659.2,16.9C1647.3,17.5 1640.3,16.9 1637.6,14.9C1634.4,12.8 1633.6,8.3 1633.6,0.3Z" fill="none" stroke="#444" stroke-opacity="0.4" stroke-width="0.8"/></g><g transform="translate(0,1023.7)"><clipPath id="cT48"><path d="M1633.6,0.4C1633.6,-7.6 1634.4,-12.6 1637.6,-14.9C1640.3,-16.9 1647.3,-17.5 1658.2,-17.7L1661.2,-20.8C1666.1,-21.8 1680,-22.4 1686.9,-22.4L1706.7,-21.8Q1711.3,-21.6 1711.4,-17.9L1711.5,17.9Q1711.3,21.6 1706.7,21.9L1686.9,22.4C1677,22.4 1667.1,21.4 1662.1,19.4L1659.2,17C1647.3,17.6 1640.3,17 1637.6,15C1634.4,12.9 1633.6,8.4 1633.6,0.4Z"/></clipPath><path d="M1633.6,0.4C1633.6,-7.6 1634.4,-12.6 1637.6,-14.9C1640.3,-16.9 1647.3,-17.5 1658.2,-17.7L1661.2,-20.8C1666.1,-21.8 1680,-22.4 1686.9,-22.4L1706.7,-21.8Q1711.3,-21.6 1711.4,-17.9L1711.5,17.9Q1711.3,21.6 1706.7,21.9L1686.9,22.4C1677,22.4 1667.1,21.4 1662.1,19.4L1659.2,17C1647.3,17.6 1640.3,17 1637.6,15C1634.4,12.9 1633.6,8.4 1633.6,0.4Z" fill="url(#gT)"/><g clip-path="url(#cT48)"><path d="M1686.9,-30L1712.7,-30L1712.7,30L1686.9,30Z" fill="#d0d0d0"/><path d="M1661.2,-19.4L1688.9,-19.4L1683.9,-1.2L1683.9,4.8L1688.9,23L1661.2,23Z" fill="url(#gTn)"/><path d="M1675.5,-18.8L1690.4,-18.8L1685.9,-6.8L1681,-4.8Z" fill="#d2d2d2"/><path d="M1675.5,22.4L1690.4,22.4L1685.9,10.4L1681,8.4Z" fill="#a4a4a4"/><path d="M1633.4,0.4C1633.4,-9.6 1635.4,-16.6 1640.3,-17.3L1660.2,-17.7C1664.1,-9.6 1664.1,10.4 1660.2,17L1640.3,17.2C1635.4,16.4 1633.4,10.4 1633.4,0.4Z" fill="url(#gTh)"/><path d="M1660.2,-18.8L1712.7,-18.8L1712.7,-40L1660.2,-40Z" fill="#929292"/><path d="M1633.4,-10.5C1641.3,-11.4 1651.2,-11.4 1662.1,-10.6M1633.4,-7.8C1641.3,-8.5 1651.2,-8.5 1662.1,-8M1633.4,-5.1C1641.3,-5.6 1651.2,-5.6 1662.1,-5.3M1633.4,-2.4C1641.3,-2.6 1651.2,-2.6 1662.1,-2.5M1633.4,0.4C1641.3,0.4 1651.2,0.4 1662.1,0.2M1633.4,3.4C1641.3,3.6 1651.2,3.6 1662.1,3.1M1633.4,6.3C1641.3,6.7 1651.2,6.7 1662.1,6M1633.4,8.9C1641.3,9.6 1651.2,9.6 1662.1,8.6M1633.4,11.6C1641.3,12.4 1651.2,12.4 1662.1,11.3M1640.7,-18.1C1638.5,-7.6 1638.5,8.4 1640.7,17.9M1646.8,-18.1C1644.6,-7.6 1644.6,8.4 1646.8,17.9M1652.7,-18.1C1650.5,-7.6 1650.5,8.4 1652.7,17.9M1658.7,-18.1C1656.5,-7.6 1656.5,8.4 1658.7,17.9M1662.1,-19.4C1665.6,-7.3 1665.6,10.9 1662.1,23M1663.9,-19.4C1667.4,-7.3 1667.4,10.9 1663.9,23M1665.7,-19.4C1669.2,-7.3 1669.2,10.9 1665.7,23M1667.5,-19.4C1671,-7.3 1671,10.9 1667.5,23M1669.3,-19.4C1672.7,-7.3 1672.7,10.9 1669.3,23M1671.1,-19.4C1674.5,-7.3 1674.5,10.9 1671.1,23M1672.8,-19.4C1676.3,-7.3 1676.3,10.9 1672.8,23M1674.6,-19.4C1678.1,-7.3 1678.1,10.9 1674.6,23M1662.1,1.8C1669.1,2.6 1678,2.2 1683.9,1.8S1701.8,2.2 1712.7,1.8M1662.1,-9.1C1669.1,-7.9 1676,-4.3 1683.9,-0.9M1662.1,-6.4C1669.1,-5.5 1676,-2.7 1683.9,-0.2M1662.1,-3.7C1669.1,-3 1676,-1.2 1683.9,0.5M1662.1,1.8C1669.1,1.8 1676,1.8 1683.9,1.8M1662.1,7.3C1669.1,6.6 1676,4.8 1683.9,3.1M1662.1,10C1669.1,9.1 1676,6.3 1683.9,3.8M1662.1,12.7C1669.1,11.5 1676,7.9 1683.9,4.5M1690.4,-19.4C1687.4,-10.3 1684.4,-4.3 1681,-1.7M1690.4,23C1687.4,13.9 1684.4,7.9 1681,5.3M1691.6,-19.4C1688.6,-10.3 1685.1,-4.3 1681.6,-1.7M1691.6,23C1688.6,13.9 1685.1,7.9 1681.6,5.3M1692.8,-19.4C1689.8,-10.3 1685.8,-4.3 1682.2,-1.7M1692.8,23C1689.8,13.9 1685.8,7.9 1682.2,5.3M1694,-19.4C1691,-10.3 1686.6,-4.3 1682.8,-1.7M1694,23C1691,13.9 1686.6,7.9 1682.8,5.3M1695.1,-19.4C1692.2,-10.3 1687.3,-4.3 1683.4,-1.7M1695.1,23C1692.2,13.9 1687.3,7.9 1683.4,5.3M1675.5,-18.8L1681,-4.8L1685.9,-6.8M1675.5,22.4L1681,8.4L1685.9,10.4M1681,-4.8C1679.5,-0.2 1679.5,3.8 1681,8.4M1683.9,-2.2C1683,0.8 1683,2.8 1683.9,5.8M1693.4,-19.8L1693.4,23.4M1695.3,-19.8L1695.3,23.4M1697.3,-19.8L1697.3,23.4M1700,-19.8L1700,23.4M1702.8,-19.8L1702.8,23.4M1707.1,-19.8L1707.1,23.4M1688.9,-15.8C1695.8,-14 1704.8,-14 1712.7,-14M1688.9,-7C1695.8,-6.1 1704.8,-6.1 1712.7,-6.1M1688.9,10.4C1695.8,9.5 1704.8,9.5 1712.7,9.5M1688.9,19C1695.8,17.1 1704.8,17.1 1712.7,17.1M1690.2,-8.8C1693.9,-10 1703.8,-10 1712.7,-10M1688.4,-5.3C1693.9,-6.1 1703.8,-6.1 1712.7,-6.1M1686.7,-1.7C1693.9,-2.1 1703.8,-2.1 1712.7,-2.1M1686.7,5.3C1693.9,5.7 1703.8,5.7 1712.7,5.7M1688.4,8.9C1693.9,9.7 1703.8,9.7 1712.7,9.7M1690.2,12.4C1693.9,13.6 1703.8,13.6 1712.7,13.6M1678.5,-18.8L1682.1,-5.3M1678.5,22.4L1682.1,8.9M1681.5,-18.8L1683.2,-5.3M1681.5,22.4L1683.2,8.9M1684.4,-18.8L1684.1,-5.3M1684.4,22.4L1684.1,8.9M1687.4,-18.8L1685.2,-5.3M1687.4,22.4L1685.2,8.9M1676.9,-15.4L1689.1,-15.4M1676.9,19L1689.1,19M1678.3,-11.8L1687.8,-11.8M1678.3,15.4L1687.8,15.4M1679.7,-8.3L1686.4,-8.3M1679.7,11.9L1686.4,11.9M1690.4,-19.4C1685.9,-6.3 1685.9,9.9 1690.4,23M1693.4,-19.4C1688.9,-6.3 1688.9,9.9 1693.4,23M1661.2,22.4L1712.7,22.4M1661.2,-18.8L1712.7,-18.8" fill="none" stroke="#161616" stroke-width="1.0" stroke-opacity="0.85" /></g><path d="M1633.6,0.4C1633.6,-7.6 1634.4,-12.6 1637.6,-14.9C1640.3,-16.9 1647.3,-17.5 1658.2,-17.7L1661.2,-20.8C1666.1,-21.8 1680,-22.4 1686.9,-22.4L1706.7,-21.8Q1711.3,-21.6 1711.4,-17.9L1711.5,17.9Q1711.3,21.6 1706.7,21.9L1686.9,22.4C1677,22.4 1667.1,21.4 1662.1,19.4L1659.2,17C1647.3,17.6 1640.3,17 1637.6,15C1634.4,12.9 1633.6,8.4 1633.6,0.4Z" fill="none" stroke="#444" stroke-opacity="0.4" stroke-width="0.8"/></g>
</g>
</svg>
</body></html>
